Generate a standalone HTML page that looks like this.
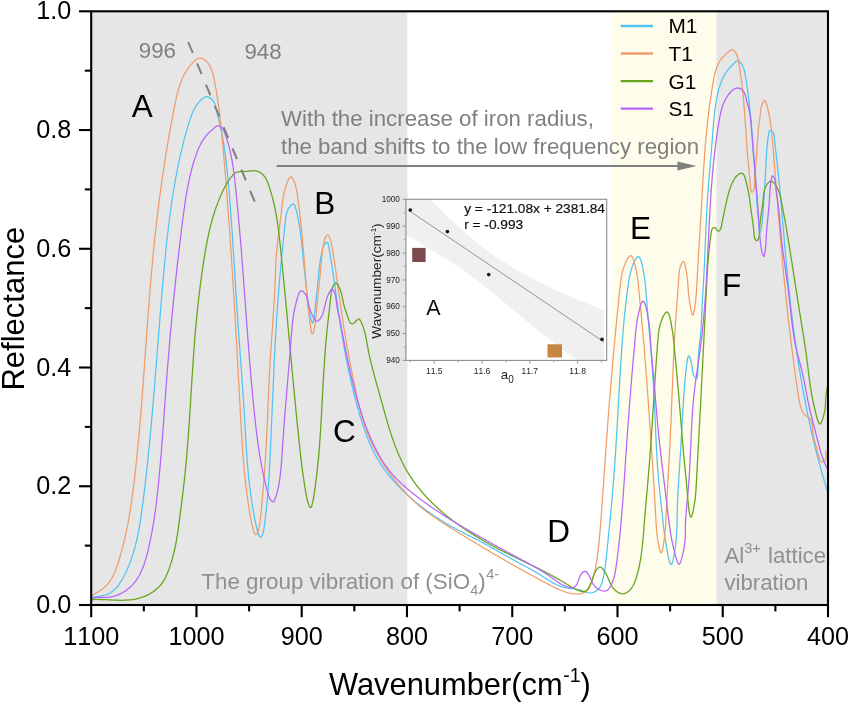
<!DOCTYPE html>
<html><head><meta charset="utf-8"><title>Reflectance spectra</title>
<style>html,body{margin:0;padding:0;background:#fff}svg{display:block}</style></head>
<body>
<svg width="849" height="703" viewBox="0 0 849 703" font-family="'Liberation Sans', sans-serif">
<rect width="849" height="703" fill="#fff"/>
<rect x="91.2" y="11.3" width="316.2" height="593.7" fill="#E6E6E6"/>
<rect x="611" y="11.3" width="105.5" height="593.7" fill="#FEFCEA"/>
<rect x="716.5" y="11.3" width="111.5" height="593.7" fill="#E6E6E6"/>
<g id="inset">
<rect x="405.9" y="199.3" width="200.80000000000007" height="161.09999999999997" fill="#fff"/>
<clipPath id="ic"><rect x="405.9" y="199.3" width="198.10000000000002" height="161.09999999999997"/></clipPath>
<polygon points="405.9,199.3 430.0,199.3 440.0,208.7 450.0,218.7 462.4,230.0 474.9,241.2 487.4,251.2 499.9,259.4 512.4,267.4 524.8,274.4 537.3,281.1 549.8,287.4 562.3,292.9 574.8,298.6 587.3,303.6 604.0,310.6 604.0,360.4 577.3,360.4 574.8,358.5 562.3,349.8 549.8,339.8 537.3,329.8 524.8,319.8 512.4,309.4 499.9,298.6 487.4,288.6 474.9,278.6 462.4,269.2 450.0,261.2 437.5,253.7 425.0,246.2 415.0,239.9 405.9,234.8" fill="#F0F0F0" clip-path="url(#ic)"/>
<line x1="408.3" y1="210.1" x2="604.1" y2="342.1" stroke="#555" stroke-width="0.6"/>
<circle cx="410.3" cy="210.1" r="1.8" fill="#111"/>
<circle cx="447.4" cy="231.6" r="1.8" fill="#111"/>
<circle cx="488.7" cy="274.6" r="1.8" fill="#111"/>
<circle cx="602" cy="339.4" r="1.8" fill="#111"/>
<rect x="412.2" y="247.9" width="13.4" height="14.1" fill="#7A4A4E"/>
<rect x="547.5" y="344.3" width="14.5" height="13.2" fill="#C6863F"/>
<rect x="405.9" y="199.3" width="200.80000000000007" height="161.09999999999997" fill="none" stroke="#8c8c8c" stroke-width="1.1"/>
<line x1="402.4" y1="199.3" x2="405.9" y2="199.3" stroke="#999" stroke-width="1"/>
<text x="399.9" y="201.9" font-size="8.2" text-anchor="end" fill="#222">1000</text>
<line x1="403.9" y1="212.7" x2="405.9" y2="212.7" stroke="#999" stroke-width="1"/>
<line x1="402.4" y1="226.2" x2="405.9" y2="226.2" stroke="#999" stroke-width="1"/>
<text x="399.9" y="228.8" font-size="8.2" text-anchor="end" fill="#222">990</text>
<line x1="403.9" y1="239.6" x2="405.9" y2="239.6" stroke="#999" stroke-width="1"/>
<line x1="402.4" y1="253.0" x2="405.9" y2="253.0" stroke="#999" stroke-width="1"/>
<text x="399.9" y="255.6" font-size="8.2" text-anchor="end" fill="#222">980</text>
<line x1="403.9" y1="266.4" x2="405.9" y2="266.4" stroke="#999" stroke-width="1"/>
<line x1="402.4" y1="279.9" x2="405.9" y2="279.9" stroke="#999" stroke-width="1"/>
<text x="399.9" y="282.5" font-size="8.2" text-anchor="end" fill="#222">970</text>
<line x1="403.9" y1="293.3" x2="405.9" y2="293.3" stroke="#999" stroke-width="1"/>
<line x1="402.4" y1="306.7" x2="405.9" y2="306.7" stroke="#999" stroke-width="1"/>
<text x="399.9" y="309.3" font-size="8.2" text-anchor="end" fill="#222">960</text>
<line x1="403.9" y1="320.1" x2="405.9" y2="320.1" stroke="#999" stroke-width="1"/>
<line x1="402.4" y1="333.5" x2="405.9" y2="333.5" stroke="#999" stroke-width="1"/>
<text x="399.9" y="336.1" font-size="8.2" text-anchor="end" fill="#222">950</text>
<line x1="403.9" y1="347.0" x2="405.9" y2="347.0" stroke="#999" stroke-width="1"/>
<line x1="402.4" y1="360.4" x2="405.9" y2="360.4" stroke="#999" stroke-width="1"/>
<text x="399.9" y="363.0" font-size="8.2" text-anchor="end" fill="#222">940</text>
<line x1="434.2" y1="360.4" x2="434.2" y2="363.9" stroke="#999" stroke-width="1"/>
<text x="434.2" y="373.6" font-size="8.5" text-anchor="middle" fill="#222" style="font-kerning:none">11.5</text>
<line x1="482.0" y1="360.4" x2="482.0" y2="363.9" stroke="#999" stroke-width="1"/>
<text x="482.0" y="373.6" font-size="8.5" text-anchor="middle" fill="#222" style="font-kerning:none">11.6</text>
<line x1="529.8" y1="360.4" x2="529.8" y2="363.9" stroke="#999" stroke-width="1"/>
<text x="529.8" y="373.6" font-size="8.5" text-anchor="middle" fill="#222" style="font-kerning:none">11.7</text>
<line x1="577.6" y1="360.4" x2="577.6" y2="363.9" stroke="#999" stroke-width="1"/>
<text x="577.6" y="373.6" font-size="8.5" text-anchor="middle" fill="#222" style="font-kerning:none">11.8</text>
<line x1="410.3" y1="360.4" x2="410.3" y2="362.4" stroke="#999" stroke-width="1"/>
<line x1="458.1" y1="360.4" x2="458.1" y2="362.4" stroke="#999" stroke-width="1"/>
<line x1="505.9" y1="360.4" x2="505.9" y2="362.4" stroke="#999" stroke-width="1"/>
<line x1="553.7" y1="360.4" x2="553.7" y2="362.4" stroke="#999" stroke-width="1"/>
<line x1="601.5" y1="360.4" x2="601.5" y2="362.4" stroke="#999" stroke-width="1"/>
<text x="507.3" y="379" font-size="13.2" text-anchor="middle" fill="#222">a<tspan font-size="10" dy="3.6">0</tspan></text>
<text transform="translate(381.3,281) rotate(-90)" font-size="13.7" text-anchor="middle" fill="#222">Wavenumber(cm<tspan font-size="8" dy="-5">-1</tspan><tspan dy="5">)</tspan></text>
<text x="464.2" y="212.5" font-size="13.7" fill="#111" stroke="#111" stroke-width="0.2">y = -121.08x + 2381.84</text>
<text x="464.2" y="229.3" font-size="13.7" fill="#111" stroke="#111" stroke-width="0.2">r = -0.993</text>
<text x="426.3" y="315" font-size="21.5" fill="#111">A</text>
</g>
<path d="M91.2 598.0L92.0 597.7L93.0 597.4L94.0 597.1L95.2 596.9L96.3 596.7L97.6 596.5L98.9 596.3L100.2 596.1L101.5 595.9L102.8 595.6L104.1 595.3L105.3 595.0L106.5 594.6L107.7 594.1L108.8 593.6L109.8 593.1L110.9 592.5L111.8 591.8L112.8 591.1L113.7 590.3L114.6 589.5L115.4 588.7L116.2 587.9L117.0 587.0L117.8 586.0L118.5 585.1L119.2 584.1L119.9 583.1L120.5 582.1L121.2 581.1L121.8 580.0L122.4 579.0L123.0 577.9L123.5 576.9L124.1 575.8L124.6 574.7L125.2 573.6L125.7 572.5L126.2 571.5L126.7 570.4L127.2 569.3L127.7 568.2L128.2 567.1L128.6 566.0L129.1 564.9L129.5 563.7L130.0 562.6L130.4 561.5L130.8 560.4L131.2 559.3L131.6 558.1L132.0 557.0L132.4 555.9L132.7 554.7L133.1 553.6L133.4 552.5L133.8 551.3L134.1 550.2L134.4 549.0L134.7 547.9L135.1 546.7L135.4 545.6L135.7 544.4L135.9 543.3L136.2 542.1L136.5 540.9L136.8 539.8L137.0 538.6L137.3 537.4L137.5 536.3L137.8 535.1L138.0 533.9L138.3 532.8L138.5 531.6L138.7 530.4L138.9 529.2L139.2 528.0L139.4 526.9L139.6 525.7L139.8 524.5L140.0 523.3L140.2 522.1L140.3 520.9L140.5 519.7L140.7 518.5L140.9 517.4L141.1 516.2L141.2 515.0L141.4 513.8L141.6 512.6L141.7 511.4L141.9 510.2L142.1 509.0L142.2 507.8L142.4 506.6L142.5 505.4L142.7 504.2L142.9 503.0L143.0 501.8L143.2 500.6L143.3 499.4L143.5 498.3L143.6 497.1L143.8 495.9L143.9 494.7L144.1 493.5L144.2 492.3L144.3 491.1L144.5 489.9L144.6 488.7L144.8 487.5L144.9 486.3L145.1 485.1L145.2 483.9L145.3 482.7L145.5 481.5L145.6 480.3L145.7 479.1L145.9 477.9L146.0 476.7L146.2 475.5L146.3 474.3L146.4 473.1L146.6 471.9L146.7 470.8L146.8 469.6L146.9 468.4L147.1 467.2L147.2 466.0L147.3 464.8L147.5 463.6L147.6 462.4L147.7 461.2L147.8 460.0L148.0 458.8L148.1 457.6L148.2 456.4L148.3 455.2L148.4 454.0L148.6 452.8L148.7 451.6L148.8 450.4L148.9 449.2L149.0 448.0L149.2 446.8L149.3 445.6L149.4 444.4L149.5 443.2L149.6 442.0L149.7 440.9L149.9 439.7L150.0 438.5L150.1 437.3L150.2 436.1L150.3 434.9L150.4 433.7L150.5 432.5L150.6 431.3L150.8 430.1L150.9 428.9L151.0 427.7L151.1 426.5L151.2 425.3L151.3 424.1L151.4 422.9L151.5 421.7L151.6 420.5L151.7 419.3L151.8 418.1L151.9 416.9L152.1 415.7L152.2 414.5L152.3 413.3L152.4 412.1L152.5 411.0L152.6 409.8L152.7 408.6L152.8 407.4L152.9 406.2L153.0 405.0L153.1 403.8L153.2 402.6L153.3 401.4L153.4 400.2L153.5 399.0L153.6 397.8L153.7 396.6L153.8 395.4L153.9 394.2L154.0 393.0L154.1 391.8L154.2 390.6L154.3 389.4L154.4 388.2L154.5 387.0L154.6 385.8L154.7 384.6L154.8 383.4L154.9 382.2L155.0 381.0L155.0 379.9L155.1 378.7L155.2 377.5L155.3 376.3L155.4 375.1L155.5 373.9L155.6 372.7L155.7 371.5L155.8 370.3L155.9 369.1L156.0 367.9L156.1 366.7L156.2 365.5L156.3 364.3L156.4 363.1L156.5 361.9L156.6 360.7L156.7 359.5L156.8 358.3L156.8 357.1L156.9 355.9L157.0 354.7L157.1 353.5L157.2 352.3L157.3 351.1L157.4 349.9L157.5 348.8L157.6 347.6L157.7 346.4L157.8 345.2L157.9 344.0L158.0 342.8L158.1 341.6L158.2 340.4L158.3 339.2L158.3 338.0L158.4 336.8L158.5 335.6L158.6 334.4L158.7 333.2L158.8 332.0L158.9 330.8L159.0 329.6L159.1 328.4L159.2 327.2L159.3 326.0L159.4 324.8L159.5 323.6L159.6 322.4L159.7 321.2L159.8 320.0L159.9 318.9L160.0 317.7L160.1 316.5L160.2 315.3L160.2 314.1L160.3 312.9L160.4 311.7L160.5 310.5L160.6 309.3L160.7 308.1L160.8 306.9L160.9 305.7L161.0 304.5L161.1 303.3L161.2 302.1L161.3 300.9L161.4 299.7L161.5 298.5L161.6 297.3L161.7 296.1L161.8 294.9L161.9 293.7L162.0 292.5L162.1 291.3L162.2 290.2L162.3 289.0L162.4 287.8L162.5 286.6L162.6 285.4L162.7 284.2L162.8 283.0L163.0 281.8L163.1 280.6L163.2 279.4L163.3 278.2L163.4 277.0L163.5 275.8L163.6 274.6L163.7 273.4L163.8 272.2L163.9 271.0L164.0 269.8L164.1 268.6L164.2 267.4L164.4 266.2L164.5 265.0L164.6 263.8L164.7 262.7L164.8 261.5L164.9 260.3L165.0 259.1L165.1 257.9L165.3 256.7L165.4 255.5L165.5 254.3L165.6 253.1L165.7 251.9L165.9 250.7L166.0 249.5L166.1 248.3L166.2 247.1L166.3 245.9L166.5 244.7L166.6 243.5L166.7 242.3L166.8 241.2L167.0 240.0L167.1 238.8L167.2 237.6L167.4 236.4L167.5 235.2L167.6 234.0L167.8 232.8L167.9 231.6L168.1 230.4L168.2 229.2L168.3 228.0L168.5 226.8L168.6 225.6L168.8 224.5L168.9 223.3L169.1 222.1L169.2 220.9L169.4 219.7L169.5 218.5L169.7 217.3L169.8 216.1L170.0 214.9L170.1 213.7L170.3 212.6L170.5 211.4L170.6 210.2L170.8 209.0L170.9 207.8L171.1 206.6L171.3 205.4L171.5 204.2L171.6 203.0L171.8 201.9L172.0 200.7L172.2 199.5L172.3 198.3L172.5 197.1L172.7 195.9L172.9 194.7L173.1 193.6L173.3 192.4L173.5 191.2L173.7 190.0L173.9 188.8L174.1 187.6L174.3 186.5L174.5 185.3L174.7 184.1L174.9 182.9L175.1 181.7L175.3 180.5L175.5 179.4L175.7 178.2L175.9 177.0L176.2 175.8L176.4 174.6L176.6 173.5L176.8 172.3L177.1 171.1L177.3 169.9L177.5 168.7L177.8 167.6L178.0 166.4L178.2 165.2L178.5 164.0L178.7 162.9L179.0 161.7L179.2 160.5L179.5 159.3L179.8 158.2L180.0 157.0L180.3 155.8L180.5 154.6L180.8 153.5L181.1 152.3L181.4 151.1L181.6 150.0L181.9 148.8L182.2 147.6L182.5 146.4L182.8 145.3L183.1 144.1L183.3 142.9L183.6 141.8L183.9 140.6L184.2 139.4L184.6 138.3L184.9 137.1L185.2 135.9L185.5 134.8L185.8 133.6L186.1 132.4L186.5 131.3L186.8 130.1L187.1 129.0L187.4 127.8L187.8 126.6L188.1 125.5L188.5 124.3L188.8 123.2L189.2 122.0L189.5 120.8L189.9 119.7L190.3 118.6L190.7 117.4L191.1 116.3L191.5 115.2L191.9 114.1L192.4 113.0L192.9 111.9L193.4 110.8L193.9 109.7L194.5 108.7L195.0 107.7L195.6 106.7L196.3 105.7L196.9 104.7L197.6 103.8L198.4 102.8L199.2 101.9L200.0 101.0L200.8 100.2L201.7 99.4L202.7 98.6L203.6 97.8L204.7 97.2L205.7 96.8L206.9 96.7L208.0 96.9L209.2 97.4L210.4 98.1L211.5 99.0L212.4 100.0L213.3 101.0L213.9 102.1L214.5 103.2L214.9 104.3L215.3 105.4L215.6 106.6L215.9 107.7L216.1 108.8L216.4 110.0L216.7 111.1L217.0 112.3L217.3 113.4L217.6 114.6L217.8 115.7L218.1 116.9L218.4 118.1L218.7 119.2L218.9 120.4L219.2 121.6L219.5 122.7L219.8 123.9L220.0 125.1L220.3 126.3L220.5 127.5L220.8 128.6L221.0 129.8L221.3 131.0L221.5 132.2L221.8 133.4L222.0 134.6L222.2 135.7L222.4 136.9L222.7 138.1L222.9 139.3L223.1 140.5L223.3 141.7L223.5 142.8L223.7 144.0L223.9 145.2L224.1 146.4L224.2 147.6L224.4 148.8L224.6 150.0L224.8 151.2L224.9 152.3L225.1 153.5L225.3 154.7L225.4 155.9L225.6 157.1L225.7 158.3L225.9 159.5L226.0 160.7L226.2 161.9L226.3 163.1L226.4 164.2L226.6 165.4L226.7 166.6L226.8 167.8L227.0 169.0L227.1 170.2L227.2 171.4L227.3 172.6L227.5 173.8L227.6 175.0L227.7 176.2L227.8 177.4L227.9 178.6L228.0 179.7L228.1 180.9L228.2 182.1L228.3 183.3L228.5 184.5L228.6 185.7L228.7 186.9L228.8 188.1L228.9 189.3L229.0 190.5L229.1 191.7L229.2 192.9L229.3 194.1L229.4 195.3L229.5 196.5L229.6 197.7L229.7 198.9L229.8 200.1L229.8 201.3L229.9 202.5L230.0 203.6L230.1 204.8L230.2 206.0L230.3 207.2L230.4 208.4L230.5 209.6L230.6 210.8L230.7 212.0L230.8 213.2L230.9 214.4L230.9 215.6L231.0 216.8L231.1 218.0L231.2 219.2L231.3 220.4L231.4 221.6L231.5 222.8L231.5 224.0L231.6 225.2L231.7 226.4L231.8 227.6L231.9 228.8L232.0 230.0L232.0 231.2L232.1 232.4L232.2 233.6L232.3 234.8L232.4 236.0L232.4 237.2L232.5 238.4L232.6 239.6L232.7 240.8L232.8 242.0L232.8 243.2L232.9 244.4L233.0 245.6L233.1 246.8L233.2 248.0L233.2 249.2L233.3 250.4L233.4 251.6L233.5 252.8L233.5 254.0L233.6 255.2L233.7 256.4L233.8 257.6L233.8 258.8L233.9 260.0L234.0 261.1L234.1 262.3L234.1 263.5L234.2 264.7L234.3 265.9L234.4 267.1L234.4 268.3L234.5 269.5L234.6 270.7L234.7 271.9L234.7 273.1L234.8 274.3L234.9 275.5L235.0 276.7L235.0 277.9L235.1 279.1L235.2 280.3L235.3 281.5L235.3 282.7L235.4 283.9L235.5 285.1L235.6 286.3L235.6 287.5L235.7 288.7L235.8 289.9L235.9 291.1L235.9 292.3L236.0 293.5L236.1 294.7L236.2 295.9L236.2 297.1L236.3 298.3L236.4 299.5L236.5 300.7L236.5 301.9L236.6 303.1L236.7 304.3L236.8 305.5L236.9 306.7L236.9 307.9L237.0 309.1L237.1 310.3L237.2 311.5L237.3 312.7L237.3 313.9L237.4 315.1L237.5 316.3L237.6 317.5L237.7 318.7L237.7 319.9L237.8 321.1L237.9 322.3L238.0 323.5L238.1 324.7L238.1 325.9L238.2 327.1L238.3 328.3L238.4 329.5L238.5 330.7L238.6 331.9L238.7 333.1L238.7 334.3L238.8 335.4L238.9 336.6L239.0 337.8L239.1 339.0L239.2 340.2L239.3 341.4L239.3 342.6L239.4 343.8L239.5 345.0L239.6 346.2L239.7 347.4L239.8 348.6L239.9 349.8L240.0 351.0L240.1 352.2L240.1 353.4L240.2 354.6L240.3 355.8L240.4 357.0L240.5 358.2L240.6 359.4L240.7 360.6L240.8 361.8L240.8 363.0L240.9 364.2L241.0 365.4L241.1 366.6L241.2 367.8L241.3 368.9L241.4 370.1L241.5 371.3L241.5 372.5L241.6 373.7L241.7 374.9L241.8 376.1L241.9 377.3L242.0 378.5L242.1 379.7L242.1 380.9L242.2 382.1L242.3 383.3L242.4 384.5L242.5 385.7L242.6 386.9L242.7 388.1L242.7 389.3L242.8 390.5L242.9 391.7L243.0 392.9L243.1 394.1L243.1 395.3L243.2 396.5L243.3 397.7L243.4 398.9L243.5 400.1L243.5 401.3L243.6 402.5L243.7 403.7L243.8 404.9L243.8 406.1L243.9 407.3L244.0 408.5L244.1 409.7L244.1 410.9L244.2 412.1L244.3 413.3L244.3 414.5L244.4 415.7L244.5 416.9L244.6 418.1L244.6 419.3L244.7 420.5L244.8 421.7L244.8 422.9L244.9 424.1L245.0 425.3L245.0 426.5L245.1 427.7L245.2 428.9L245.2 430.1L245.3 431.3L245.4 432.5L245.4 433.7L245.5 434.9L245.6 436.1L245.6 437.3L245.7 438.5L245.8 439.7L245.8 440.9L245.9 442.1L246.0 443.3L246.1 444.5L246.1 445.7L246.2 446.9L246.3 448.1L246.4 449.3L246.5 450.5L246.5 451.7L246.6 452.9L246.7 454.1L246.8 455.3L246.9 456.5L247.0 457.7L247.0 458.9L247.1 460.0L247.2 461.2L247.3 462.4L247.4 463.6L247.5 464.8L247.6 466.0L247.7 467.2L247.8 468.4L247.9 469.6L248.0 470.8L248.2 472.0L248.3 473.2L248.4 474.4L248.5 475.5L248.6 476.7L248.7 477.9L248.9 479.1L249.0 480.3L249.1 481.5L249.3 482.7L249.4 483.9L249.5 485.1L249.7 486.3L249.8 487.4L250.0 488.6L250.1 489.8L250.3 491.0L250.4 492.2L250.6 493.4L250.7 494.6L250.9 495.8L251.1 496.9L251.2 498.1L251.4 499.3L251.6 500.5L251.8 501.7L252.0 502.9L252.2 504.1L252.3 505.3L252.5 506.5L252.7 507.6L252.9 508.8L253.1 510.0L253.4 511.2L253.6 512.4L253.8 513.6L254.0 514.8L254.2 516.0L254.5 517.2L254.7 518.3L254.9 519.5L255.2 520.7L255.4 521.9L255.7 523.1L255.9 524.3L256.2 525.5L256.5 526.7L256.7 527.9L257.0 529.1L257.3 530.3L257.6 531.5L257.9 532.6L258.3 533.8L258.7 534.9L259.2 535.9L259.8 536.9L260.4 537.3L261.1 537.0L261.7 536.1L262.3 535.0L262.7 533.8L263.1 532.6L263.4 531.4L263.7 530.2L263.9 529.0L264.1 527.8L264.2 526.6L264.4 525.4L264.6 524.2L264.7 523.0L264.9 521.8L265.0 520.6L265.2 519.5L265.3 518.3L265.5 517.1L265.6 515.9L265.8 514.7L265.9 513.5L266.0 512.3L266.2 511.1L266.3 509.9L266.4 508.7L266.5 507.5L266.7 506.3L266.8 505.1L266.9 503.9L267.0 502.7L267.1 501.5L267.2 500.3L267.3 499.1L267.4 497.9L267.5 496.7L267.6 495.5L267.7 494.3L267.8 493.1L267.9 491.9L268.0 490.8L268.1 489.6L268.2 488.4L268.3 487.2L268.4 486.0L268.4 484.8L268.5 483.6L268.6 482.4L268.7 481.2L268.8 480.0L268.8 478.8L268.9 477.6L269.0 476.4L269.1 475.2L269.1 474.0L269.2 472.8L269.3 471.6L269.3 470.4L269.4 469.2L269.5 468.0L269.5 466.8L269.6 465.6L269.7 464.4L269.7 463.2L269.8 462.0L269.9 460.8L269.9 459.6L270.0 458.4L270.0 457.2L270.1 456.0L270.2 454.8L270.2 453.6L270.3 452.4L270.3 451.2L270.4 450.0L270.5 448.8L270.5 447.6L270.6 446.4L270.6 445.2L270.7 444.0L270.7 442.8L270.8 441.6L270.8 440.4L270.9 439.2L271.0 438.0L271.0 436.8L271.1 435.6L271.1 434.4L271.2 433.2L271.2 432.0L271.3 430.8L271.3 429.6L271.4 428.4L271.4 427.2L271.5 426.0L271.5 424.8L271.6 423.6L271.6 422.4L271.7 421.2L271.7 420.0L271.8 418.8L271.8 417.6L271.9 416.4L271.9 415.2L272.0 414.0L272.0 412.8L272.1 411.6L272.1 410.4L272.2 409.2L272.2 408.0L272.3 406.8L272.3 405.6L272.4 404.4L272.4 403.2L272.5 402.0L272.5 400.8L272.6 399.6L272.6 398.4L272.7 397.2L272.7 396.0L272.8 394.8L272.8 393.7L272.9 392.5L273.0 391.3L273.0 390.1L273.1 388.9L273.1 387.7L273.2 386.5L273.2 385.3L273.3 384.1L273.3 382.9L273.4 381.7L273.4 380.5L273.5 379.3L273.5 378.1L273.6 376.9L273.6 375.7L273.7 374.5L273.7 373.3L273.8 372.1L273.8 370.9L273.9 369.7L274.0 368.5L274.0 367.3L274.1 366.1L274.1 364.9L274.2 363.7L274.2 362.5L274.3 361.3L274.4 360.1L274.4 358.9L274.5 357.7L274.5 356.5L274.6 355.3L274.6 354.1L274.7 352.9L274.8 351.7L274.8 350.5L274.9 349.3L275.0 348.1L275.0 346.9L275.1 345.7L275.1 344.5L275.2 343.3L275.3 342.1L275.3 340.9L275.4 339.7L275.5 338.5L275.5 337.3L275.6 336.1L275.7 334.9L275.8 333.7L275.8 332.5L275.9 331.3L276.0 330.1L276.0 328.9L276.1 327.7L276.2 326.5L276.3 325.3L276.3 324.1L276.4 322.9L276.5 321.7L276.6 320.5L276.6 319.3L276.7 318.1L276.8 316.9L276.9 315.7L277.0 314.5L277.0 313.3L277.1 312.1L277.2 310.9L277.3 309.7L277.4 308.5L277.5 307.3L277.6 306.1L277.6 304.9L277.7 303.7L277.8 302.5L277.9 301.3L278.0 300.1L278.1 298.9L278.2 297.7L278.3 296.5L278.4 295.3L278.5 294.1L278.5 292.9L278.6 291.7L278.7 290.5L278.8 289.3L278.9 288.1L279.0 287.0L279.1 285.8L279.2 284.6L279.3 283.4L279.4 282.2L279.5 281.0L279.6 279.8L279.7 278.6L279.8 277.4L279.9 276.2L280.0 275.0L280.1 273.8L280.3 272.6L280.4 271.4L280.5 270.2L280.6 269.0L280.7 267.8L280.8 266.6L280.9 265.4L281.0 264.2L281.1 263.0L281.2 261.8L281.3 260.6L281.5 259.4L281.6 258.3L281.7 257.1L281.8 255.9L281.9 254.7L282.0 253.5L282.1 252.3L282.3 251.1L282.4 249.9L282.5 248.7L282.6 247.5L282.7 246.3L282.9 245.1L283.0 243.9L283.1 242.7L283.2 241.5L283.3 240.4L283.5 239.2L283.6 238.0L283.7 236.8L283.8 235.6L284.0 234.4L284.1 233.2L284.2 232.0L284.3 230.8L284.5 229.6L284.6 228.4L284.7 227.3L284.9 226.1L285.0 224.9L285.1 223.7L285.2 222.5L285.4 221.3L285.5 220.1L285.6 218.9L285.8 217.7L285.9 216.6L286.1 215.4L286.4 214.2L286.7 213.0L287.0 211.8L287.5 210.7L288.0 209.5L288.6 208.3L289.4 207.2L290.2 206.1L291.1 205.1L292.0 204.4L292.9 204.0L293.6 204.1L294.2 204.6L294.7 205.4L295.2 206.5L295.6 207.7L295.9 209.0L296.2 210.2L296.6 211.5L296.9 212.7L297.2 214.0L297.4 215.2L297.7 216.4L298.0 217.7L298.2 218.9L298.5 220.1L298.7 221.3L298.9 222.5L299.1 223.7L299.3 224.9L299.5 226.1L299.7 227.3L299.8 228.5L300.0 229.6L300.2 230.8L300.3 232.0L300.5 233.2L300.6 234.4L300.8 235.5L300.9 236.7L301.0 237.9L301.2 239.0L301.3 240.2L301.4 241.4L301.6 242.6L301.7 243.7L301.8 244.9L301.9 246.1L302.1 247.3L302.2 248.5L302.3 249.6L302.4 250.8L302.6 252.0L302.7 253.2L302.8 254.4L302.9 255.6L303.1 256.8L303.2 258.0L303.3 259.2L303.4 260.4L303.6 261.6L303.7 262.8L303.8 264.0L303.9 265.2L304.1 266.4L304.2 267.6L304.3 268.8L304.4 270.0L304.6 271.2L304.7 272.4L304.8 273.6L304.9 274.8L305.1 276.0L305.2 277.2L305.3 278.4L305.4 279.6L305.6 280.8L305.7 282.0L305.8 283.2L305.9 284.4L306.1 285.6L306.2 286.8L306.3 288.0L306.5 289.2L306.6 290.4L306.7 291.6L306.9 292.8L307.0 294.0L307.1 295.2L307.3 296.4L307.4 297.6L307.6 298.8L307.7 299.9L307.8 301.1L308.0 302.3L308.1 303.5L308.3 304.7L308.4 305.9L308.6 307.1L308.8 308.2L308.9 309.4L309.1 310.6L309.3 311.8L309.6 312.9L309.8 314.1L310.1 315.3L310.3 316.5L310.6 317.6L311.0 318.8L311.3 320.0L311.7 321.2L312.1 322.3L312.5 323.0L312.9 323.0L313.2 322.3L313.5 321.1L313.8 319.5L314.1 317.8L314.3 316.1L314.5 314.5L314.7 313.0L314.9 311.7L315.0 310.4L315.2 309.2L315.3 308.0L315.4 306.9L315.5 305.9L315.6 304.9L315.7 303.8L315.8 302.8L315.9 301.8L316.0 300.7L316.1 299.7L316.3 298.5L316.4 297.4L316.5 296.3L316.6 295.1L316.7 293.9L316.8 292.7L317.0 291.5L317.1 290.2L317.2 289.0L317.3 287.7L317.4 286.5L317.6 285.2L317.7 284.0L317.8 282.8L317.9 281.5L318.0 280.3L318.2 279.1L318.3 277.9L318.4 276.7L318.5 275.5L318.6 274.3L318.8 273.1L318.9 271.9L319.0 270.7L319.2 269.5L319.3 268.4L319.4 267.2L319.6 266.0L319.7 264.8L319.9 263.7L320.1 262.5L320.2 261.3L320.4 260.1L320.6 259.0L320.8 257.8L321.0 256.6L321.2 255.5L321.5 254.3L321.7 253.1L321.9 251.9L322.2 250.7L322.4 249.5L322.7 248.3L323.1 247.1L323.5 245.9L324.1 244.8L324.9 243.7L325.9 242.9L326.8 242.4L327.5 242.5L328.0 243.1L328.3 244.1L328.5 245.3L328.8 246.5L329.0 247.7L329.2 248.9L329.4 250.1L329.6 251.3L329.8 252.5L330.0 253.7L330.2 254.9L330.4 256.1L330.6 257.3L330.8 258.5L331.0 259.7L331.2 260.9L331.4 262.1L331.5 263.3L331.7 264.5L331.9 265.7L332.1 266.9L332.3 268.1L332.5 269.3L332.6 270.5L332.8 271.7L333.0 272.9L333.2 274.1L333.3 275.3L333.5 276.5L333.7 277.7L333.9 278.9L334.0 280.1L334.2 281.3L334.4 282.4L334.6 283.6L334.7 284.8L334.9 286.0L335.1 287.2L335.2 288.4L335.4 289.6L335.6 290.8L335.7 292.0L335.9 293.2L336.1 294.3L336.2 295.5L336.4 296.7L336.6 297.9L336.7 299.1L336.9 300.3L337.1 301.5L337.2 302.7L337.4 303.8L337.6 305.0L337.7 306.2L337.9 307.4L338.1 308.6L338.2 309.8L338.4 311.0L338.6 312.1L338.8 313.3L338.9 314.5L339.1 315.7L339.3 316.9L339.5 318.1L339.6 319.3L339.8 320.4L340.0 321.6L340.2 322.8L340.3 324.0L340.5 325.2L340.7 326.4L340.9 327.5L341.1 328.7L341.3 329.9L341.4 331.1L341.6 332.3L341.8 333.5L342.0 334.6L342.2 335.8L342.4 337.0L342.6 338.2L342.8 339.4L343.0 340.5L343.2 341.7L343.4 342.9L343.6 344.1L343.8 345.3L344.0 346.5L344.2 347.6L344.4 348.8L344.6 350.0L344.9 351.2L345.1 352.4L345.3 353.5L345.5 354.7L345.7 355.9L346.0 357.1L346.2 358.3L346.4 359.4L346.6 360.6L346.9 361.8L347.1 363.0L347.3 364.1L347.6 365.3L347.8 366.5L348.1 367.7L348.3 368.8L348.5 370.0L348.8 371.2L349.0 372.4L349.3 373.5L349.5 374.7L349.8 375.9L350.1 377.1L350.3 378.2L350.6 379.4L350.8 380.6L351.1 381.8L351.4 382.9L351.7 384.1L351.9 385.3L352.2 386.4L352.5 387.6L352.8 388.8L353.0 389.9L353.3 391.1L353.6 392.3L353.9 393.4L354.2 394.6L354.5 395.8L354.8 396.9L355.1 398.1L355.4 399.3L355.7 400.4L356.0 401.6L356.3 402.8L356.6 403.9L357.0 405.1L357.3 406.2L357.6 407.4L357.9 408.6L358.3 409.7L358.6 410.9L358.9 412.0L359.3 413.2L359.6 414.3L359.9 415.5L360.3 416.7L360.6 417.8L361.0 419.0L361.3 420.1L361.7 421.3L362.1 422.4L362.4 423.6L362.8 424.7L363.2 425.9L363.6 427.0L364.0 428.1L364.3 429.3L364.7 430.4L365.1 431.5L365.5 432.7L366.0 433.8L366.4 434.9L366.8 436.1L367.2 437.2L367.7 438.3L368.1 439.4L368.6 440.5L369.0 441.6L369.5 442.7L370.0 443.8L370.4 444.9L370.9 446.0L371.4 447.1L371.9 448.2L372.4 449.3L373.0 450.3L373.5 451.4L374.0 452.5L374.6 453.5L375.1 454.6L375.7 455.7L376.3 456.7L376.8 457.7L377.4 458.8L378.0 459.8L378.7 460.8L379.3 461.8L379.9 462.9L380.6 463.9L381.2 464.9L381.9 465.9L382.6 466.8L383.2 467.8L383.9 468.8L384.6 469.8L385.3 470.7L386.1 471.7L386.8 472.7L387.5 473.6L388.3 474.6L389.0 475.5L389.8 476.4L390.5 477.4L391.3 478.3L392.1 479.2L392.9 480.1L393.7 481.0L394.5 481.9L395.3 482.8L396.1 483.7L396.9 484.6L397.7 485.5L398.6 486.3L399.4 487.2L400.2 488.1L401.1 488.9L402.0 489.8L402.8 490.6L403.7 491.5L404.6 492.3L405.4 493.1L406.3 493.9L407.2 494.8L408.1 495.6L409.0 496.4L409.9 497.2L410.8 498.0L411.7 498.8L412.6 499.5L413.5 500.3L414.5 501.1L415.4 501.9L416.3 502.6L417.2 503.4L418.2 504.1L419.1 504.9L420.1 505.6L421.0 506.4L422.0 507.1L422.9 507.8L423.9 508.6L424.8 509.3L425.8 510.0L426.8 510.7L427.8 511.4L428.7 512.1L429.7 512.8L430.7 513.5L431.7 514.1L432.7 514.8L433.7 515.5L434.7 516.2L435.7 516.8L436.7 517.5L437.7 518.1L438.7 518.8L439.7 519.4L440.7 520.1L441.7 520.7L442.8 521.3L443.8 521.9L444.8 522.6L445.8 523.2L446.9 523.8L447.9 524.4L448.9 525.0L450.0 525.6L451.0 526.2L452.1 526.7L453.1 527.3L454.2 527.9L455.2 528.5L456.3 529.0L457.3 529.6L458.4 530.2L459.5 530.7L460.5 531.3L461.6 531.8L462.7 532.4L463.7 532.9L464.8 533.5L465.9 534.0L466.9 534.6L468.0 535.1L469.1 535.6L470.1 536.2L471.2 536.7L472.3 537.3L473.3 537.8L474.4 538.4L475.5 538.9L476.6 539.5L477.6 540.0L478.7 540.6L479.7 541.1L480.8 541.7L481.9 542.3L482.9 542.8L484.0 543.4L485.0 544.0L486.1 544.6L487.1 545.1L488.2 545.7L489.3 546.3L490.3 546.9L491.4 547.5L492.4 548.1L493.5 548.6L494.5 549.2L495.5 549.8L496.6 550.4L497.6 551.0L498.7 551.6L499.7 552.2L500.8 552.8L501.8 553.4L502.9 554.0L503.9 554.6L505.0 555.2L506.0 555.8L507.0 556.3L508.1 556.9L509.1 557.5L510.2 558.1L511.2 558.7L512.3 559.3L513.3 559.9L514.4 560.4L515.4 561.0L516.5 561.6L517.5 562.2L518.6 562.7L519.6 563.3L520.7 563.9L521.7 564.4L522.8 565.0L523.8 565.6L524.9 566.1L525.9 566.7L527.0 567.3L528.0 567.8L529.1 568.4L530.1 569.0L531.2 569.6L532.2 570.2L533.3 570.8L534.3 571.4L535.4 572.0L536.4 572.6L537.4 573.2L538.5 573.8L539.5 574.4L540.5 575.1L541.6 575.7L542.6 576.4L543.6 577.0L544.6 577.7L545.7 578.4L546.7 579.0L547.7 579.7L548.7 580.3L549.8 581.0L550.8 581.6L551.8 582.2L552.9 582.8L553.9 583.4L555.0 583.9L556.0 584.5L557.1 585.0L558.2 585.5L559.3 585.9L560.4 586.3L561.5 586.7L562.6 587.0L563.8 587.3L564.9 587.6L566.1 587.8L567.3 588.0L568.5 588.1L569.7 588.3L570.9 588.4L572.1 588.6L573.3 588.7L574.5 588.9L575.7 589.0L576.9 589.3L578.1 589.5L579.3 589.8L580.5 590.2L581.6 590.6L582.8 591.1L583.9 591.5L585.0 591.9L586.2 592.3L587.3 592.7L588.5 592.9L589.6 593.0L590.8 592.9L592.0 592.7L593.2 592.4L594.3 592.0L595.4 591.4L596.4 590.8L597.4 590.0L598.3 589.2L599.1 588.3L599.8 587.4L600.4 586.4L600.9 585.3L601.4 584.2L601.9 583.1L602.3 581.9L602.6 580.7L602.9 579.5L603.2 578.2L603.5 577.0L603.7 575.7L603.9 574.5L604.1 573.3L604.3 572.0L604.5 570.8L604.7 569.6L604.9 568.4L605.1 567.1L605.3 565.9L605.4 564.7L605.6 563.5L605.7 562.3L605.9 561.2L606.0 560.0L606.2 558.8L606.3 557.6L606.4 556.4L606.6 555.2L606.7 554.1L606.8 552.9L606.9 551.7L607.1 550.6L607.2 549.4L607.3 548.2L607.4 547.0L607.5 545.9L607.6 544.7L607.8 543.5L607.9 542.4L608.0 541.2L608.1 540.0L608.2 538.8L608.3 537.6L608.4 536.5L608.6 535.3L608.7 534.1L608.8 532.9L608.9 531.7L609.0 530.5L609.2 529.3L609.3 528.1L609.4 526.9L609.5 525.7L609.6 524.6L609.7 523.4L609.9 522.2L610.0 521.0L610.1 519.8L610.2 518.6L610.3 517.4L610.4 516.2L610.6 515.0L610.7 513.8L610.8 512.6L610.9 511.4L611.0 510.2L611.1 509.0L611.2 507.8L611.4 506.6L611.5 505.4L611.6 504.1L611.7 502.9L611.8 501.7L611.9 500.5L612.0 499.3L612.1 498.1L612.2 496.9L612.3 495.7L612.4 494.5L612.5 493.3L612.6 492.1L612.7 490.9L612.8 489.7L612.9 488.5L613.0 487.3L613.1 486.1L613.2 484.9L613.3 483.7L613.4 482.5L613.5 481.3L613.6 480.1L613.7 478.9L613.8 477.7L613.9 476.5L614.0 475.3L614.0 474.1L614.1 472.9L614.2 471.7L614.3 470.6L614.4 469.4L614.5 468.2L614.6 467.0L614.6 465.8L614.7 464.6L614.8 463.4L614.9 462.2L615.0 461.0L615.1 459.8L615.1 458.6L615.2 457.4L615.3 456.2L615.4 455.0L615.5 453.8L615.5 452.6L615.6 451.4L615.7 450.2L615.8 449.0L615.8 447.8L615.9 446.6L616.0 445.4L616.1 444.2L616.1 443.0L616.2 441.8L616.3 440.6L616.4 439.4L616.4 438.2L616.5 437.1L616.6 435.9L616.6 434.7L616.7 433.5L616.8 432.3L616.9 431.1L616.9 429.9L617.0 428.7L617.1 427.5L617.1 426.3L617.2 425.1L617.3 423.9L617.3 422.7L617.4 421.5L617.5 420.3L617.6 419.1L617.6 417.9L617.7 416.7L617.8 415.5L617.8 414.3L617.9 413.1L618.0 411.9L618.0 410.7L618.1 409.5L618.2 408.3L618.2 407.2L618.3 406.0L618.4 404.8L618.4 403.6L618.5 402.4L618.6 401.2L618.6 400.0L618.7 398.8L618.8 397.6L618.8 396.4L618.9 395.2L619.0 394.0L619.0 392.8L619.1 391.6L619.2 390.4L619.3 389.2L619.3 388.0L619.4 386.8L619.5 385.6L619.5 384.4L619.6 383.2L619.7 382.0L619.7 380.8L619.8 379.6L619.9 378.4L620.0 377.2L620.0 376.0L620.1 374.8L620.2 373.6L620.2 372.4L620.3 371.2L620.4 370.0L620.5 368.8L620.5 367.6L620.6 366.4L620.7 365.2L620.8 364.0L620.8 362.8L620.9 361.6L621.0 360.4L621.1 359.2L621.1 358.0L621.2 356.8L621.3 355.5L621.4 354.3L621.5 353.1L621.5 351.9L621.6 350.7L621.7 349.5L621.8 348.3L621.9 347.1L622.0 345.9L622.1 344.7L622.1 343.5L622.2 342.3L622.3 341.1L622.4 339.9L622.5 338.7L622.6 337.5L622.7 336.3L622.8 335.1L622.9 333.9L623.0 332.7L623.1 331.5L623.2 330.3L623.3 329.1L623.4 327.9L623.5 326.7L623.6 325.5L623.7 324.3L623.8 323.1L623.9 321.9L624.0 320.7L624.1 319.5L624.2 318.3L624.4 317.1L624.5 315.9L624.6 314.7L624.7 313.6L624.8 312.4L625.0 311.2L625.1 310.0L625.2 308.8L625.3 307.6L625.5 306.4L625.6 305.2L625.7 304.0L625.9 302.9L626.0 301.7L626.2 300.5L626.3 299.3L626.4 298.1L626.6 297.0L626.7 295.8L626.9 294.6L627.0 293.4L627.2 292.3L627.4 291.1L627.5 289.9L627.7 288.7L627.8 287.6L628.0 286.4L628.2 285.2L628.4 284.1L628.5 282.9L628.7 281.7L628.9 280.6L629.1 279.4L629.3 278.2L629.5 277.1L629.7 275.9L630.0 274.7L630.2 273.6L630.5 272.4L630.8 271.2L631.2 270.0L631.5 268.8L631.9 267.6L632.3 266.4L632.8 265.2L633.3 263.9L633.9 262.7L634.5 261.5L635.1 260.2L635.7 259.1L636.4 258.1L637.1 257.3L637.7 256.8L638.3 256.6L638.9 256.8L639.4 257.2L639.9 258.0L640.4 259.0L640.9 260.2L641.3 261.5L641.7 262.9L642.0 264.5L642.4 266.0L642.7 267.6L643.0 269.0L643.3 270.5L643.5 271.9L643.8 273.3L644.0 274.7L644.2 276.0L644.4 277.3L644.6 278.5L644.8 279.8L644.9 281.0L645.1 282.2L645.2 283.4L645.3 284.5L645.5 285.7L645.6 286.8L645.7 287.9L645.8 289.0L645.9 290.1L646.0 291.2L646.0 292.3L646.1 293.4L646.2 294.5L646.3 295.6L646.4 296.7L646.5 297.8L646.6 298.9L646.7 300.1L646.8 301.2L646.9 302.3L646.9 303.5L647.0 304.6L647.1 305.7L647.2 306.9L647.3 308.0L647.4 309.2L647.5 310.4L647.6 311.5L647.7 312.7L647.8 313.9L647.9 315.0L648.0 316.2L648.1 317.4L648.2 318.6L648.3 319.8L648.4 321.0L648.5 322.1L648.6 323.3L648.7 324.5L648.8 325.7L648.9 326.9L649.0 328.2L649.1 329.4L649.2 330.6L649.4 331.8L649.5 333.0L649.6 334.2L649.7 335.4L649.8 336.6L649.9 337.9L650.0 339.1L650.1 340.3L650.2 341.5L650.3 342.8L650.4 344.0L650.5 345.2L650.6 346.4L650.7 347.7L650.8 348.9L650.9 350.1L651.0 351.3L651.1 352.6L651.2 353.8L651.3 355.0L651.4 356.2L651.5 357.5L651.6 358.7L651.6 359.9L651.7 361.1L651.8 362.4L651.9 363.6L652.0 364.8L652.1 366.0L652.2 367.2L652.3 368.5L652.4 369.7L652.5 370.9L652.5 372.1L652.6 373.3L652.7 374.5L652.8 375.7L652.9 376.9L652.9 378.1L653.0 379.3L653.1 380.5L653.2 381.7L653.3 382.9L653.3 384.1L653.4 385.3L653.5 386.5L653.5 387.7L653.6 388.9L653.7 390.1L653.8 391.2L653.8 392.4L653.9 393.6L654.0 394.8L654.0 396.0L654.1 397.2L654.1 398.3L654.2 399.5L654.3 400.7L654.3 401.9L654.4 403.1L654.4 404.2L654.5 405.4L654.6 406.6L654.6 407.8L654.7 409.0L654.7 410.1L654.8 411.3L654.8 412.5L654.9 413.7L655.0 414.8L655.0 416.0L655.1 417.2L655.1 418.4L655.2 419.6L655.2 420.7L655.3 421.9L655.3 423.1L655.4 424.3L655.4 425.5L655.5 426.7L655.5 427.8L655.6 429.0L655.6 430.2L655.7 431.4L655.7 432.6L655.8 433.8L655.8 435.0L655.9 436.1L655.9 437.3L656.0 438.5L656.0 439.7L656.1 440.9L656.1 442.1L656.2 443.3L656.3 444.5L656.3 445.7L656.4 446.9L656.4 448.1L656.5 449.3L656.6 450.5L656.6 451.7L656.7 452.9L656.8 454.1L656.8 455.3L656.9 456.5L657.0 457.7L657.0 459.0L657.1 460.2L657.2 461.4L657.3 462.6L657.4 463.8L657.4 465.1L657.5 466.3L657.6 467.5L657.7 468.7L657.8 470.0L657.9 471.2L658.0 472.4L658.1 473.7L658.2 474.9L658.3 476.1L658.4 477.4L658.5 478.6L658.6 479.9L658.7 481.1L658.9 482.4L659.0 483.6L659.1 484.8L659.2 486.1L659.3 487.3L659.5 488.6L659.6 489.8L659.7 491.0L659.8 492.3L660.0 493.5L660.1 494.7L660.2 495.9L660.4 497.1L660.5 498.3L660.6 499.5L660.8 500.7L660.9 501.9L661.0 503.1L661.1 504.3L661.3 505.4L661.4 506.6L661.5 507.7L661.6 508.9L661.8 510.0L661.9 511.1L662.0 512.2L662.1 513.3L662.2 514.4L662.3 515.4L662.5 516.5L662.6 517.5L662.7 518.6L662.8 519.6L662.9 520.6L663.0 521.7L663.1 522.7L663.2 523.7L663.3 524.8L663.5 525.8L663.6 526.9L663.7 527.9L663.8 529.0L664.0 530.1L664.1 531.2L664.3 532.4L664.4 533.5L664.6 534.7L664.7 535.9L664.9 537.2L665.1 538.5L665.3 539.8L665.5 541.1L665.7 542.5L666.0 543.9L666.2 545.4L666.5 546.9L666.7 548.4L667.0 550.0L667.3 551.6L667.6 553.3L667.9 555.0L668.2 556.6L668.6 558.1L668.9 559.6L669.3 560.9L669.6 562.0L670.0 563.0L670.3 563.8L670.7 564.3L671.0 564.5L671.4 564.4L671.7 564.0L672.1 563.4L672.4 562.5L672.8 561.4L673.1 560.1L673.4 558.7L673.7 557.2L674.0 555.6L674.3 554.0L674.5 552.4L674.8 550.8L675.0 549.3L675.2 547.8L675.4 546.4L675.6 545.0L675.7 543.6L675.9 542.2L676.0 540.9L676.2 539.6L676.3 538.3L676.4 537.1L676.5 535.8L676.6 534.6L676.6 533.4L676.7 532.3L676.8 531.1L676.8 530.0L676.9 528.9L676.9 527.8L676.9 526.7L677.0 525.6L677.0 524.5L677.0 523.4L677.0 522.4L677.1 521.3L677.1 520.3L677.1 519.2L677.1 518.1L677.1 517.1L677.1 516.0L677.1 515.0L677.2 513.9L677.2 512.8L677.2 511.7L677.2 510.6L677.3 509.5L677.3 508.4L677.3 507.3L677.4 506.1L677.4 505.0L677.5 503.8L677.5 502.7L677.6 501.5L677.6 500.3L677.7 499.2L677.7 498.0L677.8 496.8L677.8 495.6L677.9 494.4L678.0 493.2L678.0 492.0L678.1 490.7L678.2 489.5L678.2 488.3L678.3 487.1L678.4 485.9L678.5 484.6L678.5 483.4L678.6 482.2L678.7 480.9L678.8 479.7L678.8 478.5L678.9 477.2L679.0 476.0L679.1 474.7L679.2 473.5L679.2 472.3L679.3 471.1L679.4 469.8L679.5 468.6L679.6 467.4L679.6 466.2L679.7 464.9L679.8 463.7L679.9 462.5L679.9 461.3L680.0 460.1L680.1 458.9L680.1 457.7L680.2 456.5L680.3 455.3L680.4 454.1L680.4 452.9L680.5 451.7L680.6 450.6L680.6 449.4L680.7 448.2L680.8 447.0L680.8 445.8L680.9 444.6L681.0 443.5L681.0 442.3L681.1 441.1L681.2 439.9L681.2 438.7L681.3 437.5L681.4 436.3L681.4 435.1L681.5 433.9L681.6 432.7L681.6 431.5L681.7 430.3L681.8 429.1L681.8 427.9L681.9 426.7L682.0 425.5L682.1 424.3L682.1 423.1L682.2 421.8L682.3 420.6L682.3 419.4L682.4 418.1L682.5 416.9L682.6 415.6L682.6 414.4L682.7 413.1L682.8 411.9L682.9 410.6L682.9 409.4L683.0 408.1L683.1 406.9L683.2 405.6L683.3 404.4L683.3 403.2L683.4 401.9L683.5 400.7L683.6 399.5L683.6 398.3L683.7 397.1L683.8 395.9L683.9 394.7L684.0 393.5L684.1 392.4L684.1 391.2L684.2 390.1L684.3 389.0L684.4 387.9L684.5 386.8L684.5 385.7L684.6 384.7L684.7 383.7L684.8 382.6L684.9 381.6L685.0 380.6L685.1 379.5L685.1 378.5L685.2 377.4L685.4 376.3L685.5 375.2L685.6 374.0L685.7 372.8L685.9 371.5L686.0 370.1L686.2 368.7L686.4 367.2L686.5 365.6L686.7 364.0L687.0 362.3L687.2 360.7L687.5 359.1L687.8 357.8L688.1 356.8L688.4 356.1L688.8 355.9L689.2 356.2L689.7 356.9L690.1 358.0L690.5 359.3L691.0 360.8L691.3 362.3L691.6 363.7L691.8 365.0L692.0 366.3L692.1 367.5L692.3 368.6L692.4 369.8L692.6 370.9L692.8 372.0L693.1 373.1L693.5 374.2L694.0 375.4L694.5 376.5L695.1 377.6L695.7 378.3L696.2 378.6L696.6 378.5L697.0 378.0L697.2 377.2L697.5 376.1L697.6 374.8L697.8 373.3L697.9 371.6L697.9 369.9L698.0 368.0L698.0 366.1L698.1 364.3L698.1 362.4L698.2 360.7L698.2 359.1L698.3 357.5L698.4 356.0L698.5 354.6L698.6 353.2L698.7 351.9L698.8 350.6L698.9 349.4L699.0 348.3L699.1 347.2L699.3 346.1L699.4 345.0L699.5 344.0L699.7 343.0L699.8 342.0L699.9 341.0L700.0 340.0L700.2 339.0L700.3 338.0L700.4 337.1L700.5 336.1L700.6 335.0L700.7 334.0L700.8 332.9L700.9 331.8L701.0 330.7L701.1 329.6L701.1 328.5L701.2 327.3L701.3 326.1L701.3 324.9L701.4 323.7L701.4 322.5L701.5 321.3L701.5 320.1L701.6 318.9L701.6 317.6L701.7 316.4L701.7 315.1L701.8 313.9L701.8 312.6L701.9 311.3L701.9 310.1L702.0 308.8L702.0 307.6L702.1 306.3L702.2 305.1L702.2 303.8L702.3 302.6L702.3 301.4L702.4 300.2L702.5 298.9L702.5 297.7L702.6 296.5L702.7 295.3L702.8 294.1L702.8 292.9L702.9 291.7L703.0 290.5L703.1 289.3L703.1 288.2L703.2 287.0L703.3 285.8L703.4 284.6L703.4 283.4L703.5 282.2L703.6 281.0L703.6 279.8L703.7 278.6L703.8 277.5L703.8 276.3L703.9 275.1L704.0 273.9L704.0 272.7L704.1 271.5L704.1 270.3L704.2 269.1L704.3 267.9L704.3 266.7L704.4 265.5L704.4 264.3L704.5 263.1L704.5 261.9L704.6 260.7L704.6 259.5L704.7 258.3L704.7 257.1L704.8 255.9L704.8 254.7L704.9 253.5L704.9 252.3L705.0 251.1L705.0 249.9L705.1 248.7L705.1 247.5L705.2 246.3L705.2 245.1L705.3 243.9L705.3 242.7L705.4 241.5L705.4 240.3L705.5 239.1L705.5 237.9L705.6 236.7L705.6 235.5L705.7 234.3L705.7 233.1L705.8 231.9L705.8 230.7L705.9 229.5L705.9 228.3L706.0 227.1L706.1 225.9L706.1 224.7L706.2 223.5L706.2 222.3L706.3 221.1L706.3 219.9L706.4 218.7L706.5 217.5L706.5 216.3L706.6 215.1L706.6 213.9L706.7 212.7L706.8 211.5L706.8 210.3L706.9 209.1L707.0 207.9L707.1 206.7L707.1 205.5L707.2 204.3L707.3 203.1L707.3 201.9L707.4 200.7L707.5 199.5L707.6 198.3L707.7 197.1L707.7 195.9L707.8 194.7L707.9 193.5L708.0 192.3L708.1 191.1L708.2 189.9L708.3 188.7L708.4 187.5L708.4 186.3L708.5 185.1L708.6 183.9L708.7 182.7L708.8 181.5L708.9 180.4L709.0 179.2L709.1 178.0L709.2 176.8L709.3 175.6L709.4 174.4L709.5 173.2L709.6 172.0L709.7 170.8L709.8 169.6L709.9 168.4L710.0 167.2L710.1 166.0L710.2 164.8L710.3 163.6L710.4 162.4L710.5 161.2L710.6 160.0L710.7 158.8L710.8 157.6L710.9 156.5L711.0 155.3L711.1 154.1L711.2 152.9L711.3 151.7L711.4 150.5L711.5 149.3L711.6 148.1L711.7 146.9L711.8 145.7L711.9 144.5L712.0 143.3L712.1 142.1L712.2 140.9L712.3 139.7L712.4 138.5L712.4 137.3L712.5 136.1L712.6 134.9L712.7 133.7L712.8 132.5L712.9 131.3L713.0 130.1L713.1 128.9L713.2 127.7L713.3 126.5L713.4 125.3L713.5 124.1L713.6 122.9L713.7 121.7L713.8 120.5L713.9 119.3L714.0 118.1L714.1 116.9L714.2 115.7L714.4 114.5L714.5 113.3L714.6 112.2L714.8 111.0L714.9 109.8L715.1 108.6L715.2 107.4L715.4 106.2L715.6 105.0L715.8 103.8L716.0 102.7L716.2 101.5L716.4 100.3L716.6 99.1L716.8 97.9L717.1 96.8L717.3 95.6L717.6 94.4L717.8 93.2L718.1 92.1L718.4 90.9L718.7 89.7L719.0 88.6L719.4 87.4L719.7 86.3L720.1 85.1L720.5 84.0L720.9 82.9L721.3 81.7L721.8 80.6L722.2 79.5L722.7 78.4L723.2 77.4L723.8 76.3L724.3 75.3L724.9 74.2L725.5 73.2L726.2 72.2L726.9 71.3L727.6 70.3L728.3 69.4L729.1 68.5L729.9 67.6L730.7 66.7L731.6 65.8L732.5 64.9L733.4 64.0L734.4 63.0L735.3 62.0L736.3 61.3L737.2 60.8L738.2 60.8L739.2 61.3L740.1 62.1L740.9 63.0L741.6 64.0L742.2 65.0L742.8 66.1L743.3 67.2L743.7 68.3L744.1 69.4L744.4 70.6L744.7 71.8L744.9 73.0L745.1 74.2L745.3 75.4L745.5 76.6L745.7 77.8L745.9 79.0L746.1 80.2L746.3 81.4L746.4 82.6L746.6 83.7L746.8 84.9L747.0 86.1L747.1 87.3L747.3 88.5L747.5 89.6L747.6 90.8L747.8 92.0L748.0 93.2L748.1 94.4L748.3 95.6L748.4 96.7L748.6 97.9L748.7 99.1L748.9 100.3L749.0 101.5L749.1 102.7L749.3 103.9L749.4 105.1L749.5 106.3L749.7 107.5L749.8 108.7L749.9 109.9L750.0 111.1L750.2 112.3L750.3 113.5L750.4 114.7L750.5 115.9L750.6 117.1L750.8 118.3L750.9 119.5L751.0 120.7L751.1 121.9L751.2 123.1L751.3 124.3L751.4 125.5L751.5 126.7L751.6 127.9L751.7 129.1L751.8 130.3L751.9 131.5L752.0 132.7L752.1 133.9L752.2 135.1L752.3 136.3L752.4 137.5L752.5 138.6L752.6 139.8L752.7 141.0L752.8 142.2L752.9 143.4L753.0 144.6L753.1 145.8L753.2 147.0L753.3 148.2L753.4 149.4L753.5 150.6L753.5 151.8L753.6 153.0L753.7 154.2L753.8 155.3L753.9 156.5L754.0 157.7L754.1 158.9L754.2 160.1L754.3 161.3L754.3 162.5L754.4 163.7L754.5 164.9L754.6 166.1L754.7 167.3L754.8 168.5L754.8 169.7L754.9 170.9L755.0 172.1L755.1 173.2L755.2 174.4L755.3 175.6L755.3 176.8L755.4 178.0L755.5 179.2L755.6 180.4L755.7 181.6L755.7 182.8L755.8 184.0L755.9 185.3L756.0 186.5L756.1 187.7L756.1 188.9L756.2 190.1L756.3 191.3L756.4 192.5L756.5 193.7L756.5 194.9L756.6 196.1L756.7 197.4L756.8 198.6L756.8 199.8L756.9 201.0L757.0 202.3L757.1 203.5L757.1 204.7L757.2 205.9L757.3 207.1L757.4 208.3L757.5 209.5L757.6 210.6L757.6 211.8L757.7 212.9L757.8 214.0L757.9 215.0L758.0 216.1L758.2 217.2L758.3 218.3L758.4 219.4L758.5 220.5L758.6 221.8L758.8 223.1L758.9 224.5L759.0 226.1L759.2 227.7L759.3 229.3L759.5 230.7L759.7 231.8L759.9 232.4L760.1 232.3L760.5 231.5L760.8 230.3L761.1 228.9L761.4 227.3L761.6 225.9L761.8 224.5L762.0 223.2L762.1 222.0L762.2 220.9L762.3 219.7L762.4 218.6L762.5 217.5L762.6 216.4L762.7 215.3L762.8 214.2L762.9 213.0L763.0 211.8L763.1 210.7L763.2 209.5L763.3 208.3L763.4 207.1L763.5 205.9L763.6 204.7L763.6 203.4L763.7 202.2L763.8 201.0L763.9 199.8L764.0 198.6L764.1 197.4L764.2 196.2L764.2 195.0L764.3 193.8L764.4 192.5L764.5 191.3L764.5 190.1L764.6 188.9L764.7 187.7L764.8 186.5L764.8 185.3L764.9 184.1L765.0 182.9L765.0 181.7L765.1 180.5L765.2 179.3L765.2 178.1L765.3 176.9L765.3 175.7L765.4 174.5L765.5 173.3L765.5 172.1L765.6 170.9L765.6 169.7L765.7 168.5L765.8 167.4L765.8 166.2L765.9 165.0L765.9 163.8L766.0 162.7L766.1 161.5L766.1 160.3L766.2 159.1L766.3 158.0L766.3 156.8L766.4 155.6L766.5 154.4L766.6 153.3L766.7 152.1L766.7 150.9L766.8 149.7L766.9 148.5L767.0 147.2L767.1 146.0L767.3 144.8L767.4 143.5L767.5 142.3L767.7 141.0L767.8 139.8L768.0 138.5L768.1 137.2L768.3 135.9L768.5 134.5L768.7 133.2L768.9 132.1L769.3 131.1L769.9 130.6L770.6 130.5L771.5 131.0L772.4 131.7L773.1 132.6L773.6 133.6L774.0 134.7L774.3 136.0L774.4 137.2L774.5 138.5L774.6 139.8L774.7 141.1L774.8 142.4L774.9 143.6L775.1 144.9L775.2 146.1L775.3 147.3L775.5 148.5L775.6 149.7L775.7 150.9L775.9 152.1L776.0 153.2L776.2 154.4L776.3 155.6L776.5 156.8L776.6 158.0L776.7 159.2L776.9 160.4L777.0 161.6L777.1 162.7L777.3 163.9L777.4 165.1L777.5 166.3L777.7 167.5L777.8 168.7L777.9 169.9L778.0 171.1L778.2 172.2L778.3 173.4L778.4 174.6L778.5 175.8L778.6 177.0L778.8 178.2L778.9 179.4L779.0 180.6L779.1 181.8L779.2 183.0L779.4 184.2L779.5 185.4L779.6 186.5L779.7 187.7L779.8 188.9L779.9 190.1L780.0 191.3L780.1 192.5L780.2 193.7L780.4 194.9L780.5 196.1L780.6 197.3L780.7 198.5L780.8 199.7L780.9 200.9L781.0 202.1L781.1 203.3L781.2 204.4L781.3 205.6L781.4 206.8L781.5 208.0L781.6 209.2L781.7 210.4L781.8 211.6L781.9 212.8L782.0 214.0L782.1 215.2L782.2 216.4L782.3 217.6L782.4 218.8L782.5 220.0L782.6 221.2L782.7 222.4L782.8 223.6L783.0 224.8L783.1 226.0L783.2 227.2L783.3 228.4L783.4 229.6L783.5 230.8L783.6 232.0L783.7 233.1L783.8 234.3L783.9 235.5L784.0 236.7L784.1 237.9L784.2 239.1L784.3 240.3L784.4 241.5L784.5 242.7L784.6 243.9L784.7 245.1L784.8 246.3L784.9 247.5L785.0 248.7L785.1 249.9L785.2 251.1L785.3 252.3L785.4 253.5L785.5 254.7L785.6 255.9L785.8 257.1L785.9 258.3L786.0 259.5L786.1 260.7L786.2 261.9L786.3 263.1L786.4 264.3L786.5 265.5L786.6 266.7L786.8 267.9L786.9 269.1L787.0 270.2L787.1 271.4L787.2 272.6L787.3 273.8L787.5 275.0L787.6 276.2L787.7 277.4L787.8 278.6L787.9 279.8L788.1 281.0L788.2 282.2L788.3 283.4L788.4 284.6L788.5 285.8L788.7 287.0L788.8 288.2L788.9 289.4L789.0 290.6L789.2 291.8L789.3 293.0L789.4 294.2L789.6 295.3L789.7 296.5L789.8 297.7L790.0 298.9L790.1 300.1L790.2 301.3L790.4 302.5L790.5 303.7L790.6 304.9L790.8 306.1L790.9 307.3L791.0 308.5L791.2 309.7L791.3 310.9L791.5 312.1L791.6 313.3L791.7 314.4L791.9 315.6L792.0 316.8L792.2 318.0L792.3 319.2L792.5 320.4L792.6 321.6L792.8 322.8L792.9 324.0L793.1 325.2L793.2 326.4L793.4 327.6L793.5 328.7L793.7 329.9L793.8 331.1L794.0 332.3L794.2 333.5L794.3 334.7L794.5 335.9L794.6 337.1L794.8 338.3L795.0 339.5L795.1 340.6L795.3 341.8L795.5 343.0L795.6 344.2L795.8 345.4L796.0 346.6L796.1 347.8L796.3 349.0L796.5 350.2L796.6 351.3L796.8 352.5L797.0 353.7L797.2 354.9L797.4 356.1L797.5 357.3L797.7 358.5L797.9 359.6L798.1 360.8L798.3 362.0L798.4 363.2L798.6 364.4L798.8 365.6L799.0 366.8L799.2 367.9L799.4 369.1L799.6 370.3L799.8 371.5L800.0 372.7L800.2 373.9L800.4 375.0L800.6 376.2L800.8 377.4L801.0 378.6L801.2 379.8L801.4 381.0L801.6 382.1L801.8 383.3L802.0 384.5L802.2 385.7L802.4 386.9L802.6 388.0L802.8 389.2L803.0 390.4L803.3 391.6L803.5 392.8L803.7 393.9L803.9 395.1L804.1 396.3L804.4 397.5L804.6 398.7L804.8 399.8L805.0 401.0L805.3 402.2L805.5 403.4L805.7 404.5L806.0 405.7L806.2 406.9L806.4 408.1L806.7 409.3L806.9 410.4L807.1 411.6L807.4 412.8L807.6 414.0L807.9 415.1L808.1 416.3L808.4 417.5L808.6 418.7L808.9 419.8L809.1 421.0L809.4 422.2L809.6 423.3L809.9 424.5L810.1 425.7L810.4 426.9L810.7 428.0L810.9 429.2L811.2 430.4L811.4 431.5L811.7 432.7L812.0 433.9L812.3 435.0L812.5 436.2L812.8 437.4L813.1 438.6L813.4 439.7L813.6 440.9L813.9 442.1L814.2 443.2L814.5 444.4L814.8 445.6L815.1 446.7L815.3 447.9L815.6 449.0L815.9 450.2L816.2 451.4L816.5 452.5L816.8 453.7L817.1 454.9L817.4 456.0L817.7 457.2L818.0 458.4L818.3 459.5L818.6 460.7L818.9 461.8L819.2 463.0L819.6 464.2L819.9 465.3L820.2 466.5L820.5 467.6L820.8 468.8L821.2 470.0L821.5 471.1L821.8 472.3L822.1 473.4L822.5 474.6L822.8 475.7L823.1 476.9L823.5 478.1L823.8 479.2L824.1 480.4L824.5 481.5L824.8 482.7L825.2 483.8L825.5 485.0L825.9 486.1L826.2 487.3L826.6 488.4L826.9 489.6L827.3 490.7L827.6 491.9L828.0 493.0" fill="none" stroke="#50C3F5" stroke-width="1.25" stroke-linejoin="round"/>
<path d="M91.2 596.0L92.0 595.5L92.9 594.9L93.8 594.3L94.8 593.7L95.9 593.1L96.9 592.5L98.0 591.8L99.1 591.2L100.2 590.5L101.3 589.8L102.3 589.0L103.3 588.3L104.3 587.5L105.2 586.6L106.1 585.8L106.9 584.9L107.7 584.0L108.5 583.1L109.2 582.2L109.9 581.2L110.6 580.2L111.2 579.2L111.8 578.2L112.4 577.2L113.0 576.1L113.5 575.1L114.0 574.0L114.5 572.9L114.9 571.8L115.4 570.7L115.8 569.6L116.2 568.5L116.6 567.3L117.0 566.2L117.4 565.0L117.8 563.9L118.2 562.7L118.5 561.6L118.9 560.5L119.2 559.3L119.6 558.1L119.9 557.0L120.3 555.8L120.6 554.7L120.9 553.5L121.2 552.4L121.6 551.2L121.9 550.1L122.2 548.9L122.5 547.7L122.8 546.6L123.1 545.4L123.4 544.2L123.7 543.1L123.9 541.9L124.2 540.7L124.5 539.6L124.8 538.4L125.0 537.2L125.3 536.1L125.6 534.9L125.8 533.7L126.1 532.5L126.3 531.4L126.6 530.2L126.8 529.0L127.0 527.8L127.3 526.7L127.5 525.5L127.7 524.3L128.0 523.1L128.2 521.9L128.4 520.8L128.6 519.6L128.8 518.4L129.0 517.2L129.2 516.0L129.4 514.9L129.6 513.7L129.8 512.5L130.0 511.3L130.2 510.1L130.4 508.9L130.6 507.7L130.8 506.6L131.0 505.4L131.2 504.2L131.3 503.0L131.5 501.8L131.7 500.6L131.8 499.4L132.0 498.2L132.2 497.0L132.3 495.9L132.5 494.7L132.7 493.5L132.8 492.3L133.0 491.1L133.1 489.9L133.3 488.7L133.4 487.5L133.6 486.3L133.7 485.1L133.9 483.9L134.0 482.7L134.2 481.5L134.3 480.4L134.5 479.2L134.6 478.0L134.7 476.8L134.9 475.6L135.0 474.4L135.1 473.2L135.3 472.0L135.4 470.8L135.5 469.6L135.7 468.4L135.8 467.2L135.9 466.0L136.1 464.8L136.2 463.6L136.3 462.4L136.4 461.2L136.6 460.0L136.7 458.9L136.8 457.7L136.9 456.5L137.0 455.3L137.2 454.1L137.3 452.9L137.4 451.7L137.5 450.5L137.6 449.3L137.8 448.1L137.9 446.9L138.0 445.7L138.1 444.5L138.2 443.3L138.3 442.1L138.4 440.9L138.5 439.7L138.7 438.5L138.8 437.3L138.9 436.1L139.0 434.9L139.1 433.8L139.2 432.6L139.3 431.4L139.4 430.2L139.5 429.0L139.6 427.8L139.7 426.6L139.8 425.4L139.9 424.2L140.0 423.0L140.1 421.8L140.2 420.6L140.3 419.4L140.4 418.2L140.5 417.0L140.6 415.8L140.7 414.6L140.8 413.4L140.9 412.2L141.0 411.0L141.1 409.8L141.2 408.6L141.3 407.4L141.4 406.2L141.5 405.0L141.6 403.8L141.7 402.7L141.8 401.5L141.9 400.3L142.0 399.1L142.1 397.9L142.2 396.7L142.2 395.5L142.3 394.3L142.4 393.1L142.5 391.9L142.6 390.7L142.7 389.5L142.8 388.3L142.9 387.1L143.0 385.9L143.1 384.7L143.1 383.5L143.2 382.3L143.3 381.1L143.4 379.9L143.5 378.7L143.6 377.5L143.7 376.3L143.8 375.1L143.8 373.9L143.9 372.7L144.0 371.5L144.1 370.3L144.2 369.1L144.3 367.9L144.4 366.7L144.4 365.6L144.5 364.4L144.6 363.2L144.7 362.0L144.8 360.8L144.9 359.6L145.0 358.4L145.0 357.2L145.1 356.0L145.2 354.8L145.3 353.6L145.4 352.4L145.5 351.2L145.6 350.0L145.6 348.8L145.7 347.6L145.8 346.4L145.9 345.2L146.0 344.0L146.1 342.8L146.2 341.6L146.2 340.4L146.3 339.2L146.4 338.0L146.5 336.8L146.6 335.6L146.7 334.4L146.8 333.2L146.8 332.0L146.9 330.8L147.0 329.6L147.1 328.4L147.2 327.2L147.3 326.0L147.4 324.8L147.4 323.6L147.5 322.4L147.6 321.3L147.7 320.1L147.8 318.9L147.9 317.7L148.0 316.5L148.1 315.3L148.2 314.1L148.2 312.9L148.3 311.7L148.4 310.5L148.5 309.3L148.6 308.1L148.7 306.9L148.8 305.7L148.9 304.5L149.0 303.3L149.1 302.1L149.2 300.9L149.3 299.7L149.4 298.5L149.4 297.3L149.5 296.1L149.6 294.9L149.7 293.7L149.8 292.5L149.9 291.3L150.0 290.1L150.1 288.9L150.2 287.7L150.3 286.5L150.4 285.3L150.5 284.1L150.6 282.9L150.7 281.7L150.8 280.6L150.9 279.4L151.0 278.2L151.1 277.0L151.2 275.8L151.3 274.6L151.4 273.4L151.5 272.2L151.7 271.0L151.8 269.8L151.9 268.6L152.0 267.4L152.1 266.2L152.2 265.0L152.3 263.8L152.4 262.6L152.5 261.4L152.6 260.2L152.7 259.0L152.9 257.8L153.0 256.6L153.1 255.4L153.2 254.2L153.3 253.0L153.4 251.9L153.6 250.7L153.7 249.5L153.8 248.3L153.9 247.1L154.0 245.9L154.1 244.7L154.3 243.5L154.4 242.3L154.5 241.1L154.6 239.9L154.8 238.7L154.9 237.5L155.0 236.3L155.1 235.1L155.3 233.9L155.4 232.7L155.5 231.6L155.7 230.4L155.8 229.2L155.9 228.0L156.1 226.8L156.2 225.6L156.3 224.4L156.5 223.2L156.6 222.0L156.7 220.8L156.9 219.6L157.0 218.4L157.2 217.2L157.3 216.1L157.4 214.9L157.6 213.7L157.7 212.5L157.9 211.3L158.0 210.1L158.2 208.9L158.3 207.7L158.5 206.5L158.6 205.3L158.8 204.1L158.9 202.9L159.1 201.8L159.2 200.6L159.4 199.4L159.5 198.2L159.7 197.0L159.8 195.8L160.0 194.6L160.2 193.4L160.3 192.2L160.5 191.0L160.6 189.9L160.8 188.7L161.0 187.5L161.1 186.3L161.3 185.1L161.5 183.9L161.6 182.7L161.8 181.5L162.0 180.3L162.1 179.1L162.3 178.0L162.5 176.8L162.7 175.6L162.8 174.4L163.0 173.2L163.2 172.0L163.4 170.8L163.5 169.6L163.7 168.5L163.9 167.3L164.1 166.1L164.3 164.9L164.4 163.7L164.6 162.5L164.8 161.3L165.0 160.1L165.2 159.0L165.4 157.8L165.5 156.6L165.7 155.4L165.9 154.2L166.1 153.0L166.3 151.8L166.5 150.7L166.7 149.5L166.9 148.3L167.1 147.1L167.3 145.9L167.5 144.7L167.7 143.6L167.9 142.4L168.1 141.2L168.3 140.0L168.5 138.8L168.7 137.6L168.9 136.4L169.1 135.3L169.3 134.1L169.5 132.9L169.7 131.7L170.0 130.5L170.2 129.4L170.4 128.2L170.6 127.0L170.8 125.8L171.0 124.6L171.2 123.4L171.5 122.3L171.7 121.1L171.9 119.9L172.1 118.7L172.4 117.5L172.6 116.4L172.8 115.2L173.0 114.0L173.3 112.8L173.5 111.6L173.7 110.5L173.9 109.3L174.2 108.1L174.4 106.9L174.7 105.8L174.9 104.6L175.1 103.4L175.4 102.2L175.6 101.1L175.9 99.9L176.1 98.7L176.4 97.5L176.7 96.4L176.9 95.2L177.2 94.0L177.5 92.9L177.8 91.7L178.1 90.6L178.5 89.4L178.8 88.3L179.1 87.2L179.5 86.0L179.9 84.9L180.3 83.8L180.7 82.6L181.1 81.5L181.6 80.4L182.0 79.3L182.5 78.2L183.0 77.1L183.5 76.1L184.1 75.0L184.7 73.9L185.2 72.9L185.9 71.8L186.5 70.8L187.2 69.7L187.8 68.7L188.6 67.7L189.3 66.7L190.1 65.7L190.9 64.7L191.7 63.8L192.5 62.8L193.4 61.9L194.3 61.0L195.3 60.2L196.2 59.5L197.2 59.0L198.2 58.5L199.3 58.3L200.3 58.2L201.4 58.4L202.5 58.7L203.5 59.3L204.6 59.9L205.6 60.7L206.5 61.5L207.3 62.4L208.1 63.3L208.8 64.3L209.4 65.3L210.0 66.3L210.5 67.4L211.0 68.5L211.5 69.6L211.9 70.7L212.3 71.9L212.6 73.1L213.0 74.3L213.3 75.5L213.6 76.7L213.8 77.9L214.1 79.1L214.3 80.3L214.6 81.5L214.8 82.6L215.1 83.8L215.3 85.0L215.5 86.2L215.7 87.4L215.9 88.5L216.1 89.7L216.3 90.9L216.5 92.1L216.7 93.3L216.9 94.4L217.1 95.6L217.2 96.8L217.4 98.0L217.6 99.1L217.8 100.3L217.9 101.5L218.1 102.7L218.3 103.9L218.4 105.1L218.6 106.2L218.8 107.4L218.9 108.6L219.1 109.8L219.2 111.0L219.4 112.2L219.5 113.4L219.7 114.6L219.8 115.7L219.9 116.9L220.1 118.1L220.2 119.3L220.4 120.5L220.5 121.7L220.6 122.9L220.8 124.1L220.9 125.3L221.0 126.5L221.1 127.7L221.3 128.9L221.4 130.1L221.5 131.2L221.6 132.4L221.7 133.6L221.9 134.8L222.0 136.0L222.1 137.2L222.2 138.4L222.3 139.6L222.4 140.8L222.5 142.0L222.6 143.2L222.8 144.4L222.9 145.6L223.0 146.8L223.1 148.0L223.2 149.2L223.3 150.4L223.4 151.6L223.5 152.8L223.6 154.0L223.7 155.2L223.8 156.4L223.9 157.6L224.0 158.8L224.1 160.0L224.2 161.2L224.3 162.4L224.4 163.6L224.5 164.8L224.6 166.0L224.7 167.2L224.8 168.4L224.9 169.6L225.0 170.8L225.1 172.0L225.2 173.2L225.3 174.3L225.4 175.5L225.5 176.7L225.6 177.9L225.7 179.1L225.8 180.3L225.9 181.5L226.0 182.7L226.1 183.9L226.2 185.1L226.3 186.3L226.3 187.5L226.4 188.7L226.5 189.9L226.6 191.1L226.7 192.3L226.8 193.5L226.9 194.7L227.0 195.9L227.1 197.1L227.2 198.3L227.3 199.5L227.4 200.7L227.5 201.9L227.5 203.1L227.6 204.3L227.7 205.5L227.8 206.7L227.9 207.9L228.0 209.1L228.1 210.3L228.2 211.5L228.3 212.7L228.3 213.9L228.4 215.1L228.5 216.3L228.6 217.5L228.7 218.7L228.8 219.9L228.9 221.1L229.0 222.3L229.0 223.5L229.1 224.6L229.2 225.8L229.3 227.0L229.4 228.2L229.5 229.4L229.6 230.6L229.6 231.8L229.7 233.0L229.8 234.2L229.9 235.4L230.0 236.6L230.1 237.8L230.1 239.0L230.2 240.2L230.3 241.4L230.4 242.6L230.5 243.8L230.6 245.0L230.6 246.2L230.7 247.4L230.8 248.6L230.9 249.8L231.0 251.0L231.0 252.2L231.1 253.4L231.2 254.6L231.3 255.8L231.4 257.0L231.4 258.2L231.5 259.4L231.6 260.6L231.7 261.8L231.7 263.0L231.8 264.2L231.9 265.4L232.0 266.6L232.1 267.8L232.1 269.0L232.2 270.2L232.3 271.3L232.4 272.5L232.4 273.7L232.5 274.9L232.6 276.1L232.7 277.3L232.7 278.5L232.8 279.7L232.9 280.9L233.0 282.1L233.0 283.3L233.1 284.5L233.2 285.7L233.3 286.9L233.3 288.1L233.4 289.3L233.5 290.5L233.6 291.7L233.6 292.9L233.7 294.1L233.8 295.3L233.9 296.5L233.9 297.7L234.0 298.9L234.1 300.1L234.1 301.3L234.2 302.5L234.3 303.7L234.4 304.9L234.4 306.1L234.5 307.3L234.6 308.5L234.6 309.7L234.7 310.9L234.8 312.1L234.8 313.3L234.9 314.5L235.0 315.7L235.1 316.9L235.1 318.1L235.2 319.3L235.3 320.5L235.3 321.6L235.4 322.8L235.5 324.0L235.5 325.2L235.6 326.4L235.7 327.6L235.7 328.8L235.8 330.0L235.9 331.2L235.9 332.4L236.0 333.6L236.1 334.8L236.2 336.0L236.2 337.2L236.3 338.4L236.4 339.6L236.4 340.8L236.5 342.0L236.6 343.2L236.6 344.4L236.7 345.6L236.8 346.8L236.8 348.0L236.9 349.2L237.0 350.4L237.0 351.6L237.1 352.8L237.2 354.0L237.2 355.2L237.3 356.4L237.4 357.6L237.4 358.8L237.5 360.0L237.6 361.2L237.6 362.4L237.7 363.6L237.7 364.8L237.8 366.0L237.9 367.2L237.9 368.4L238.0 369.6L238.1 370.8L238.1 372.0L238.2 373.2L238.3 374.4L238.3 375.6L238.4 376.8L238.5 378.0L238.5 379.2L238.6 380.4L238.7 381.6L238.7 382.8L238.8 384.0L238.9 385.2L238.9 386.4L239.0 387.6L239.1 388.8L239.1 390.0L239.2 391.2L239.3 392.4L239.3 393.6L239.4 394.8L239.5 396.0L239.5 397.2L239.6 398.4L239.7 399.6L239.7 400.8L239.8 402.0L239.9 403.2L239.9 404.4L240.0 405.6L240.1 406.8L240.1 408.0L240.2 409.2L240.2 410.4L240.3 411.6L240.4 412.8L240.4 414.0L240.5 415.2L240.6 416.4L240.6 417.6L240.7 418.8L240.8 420.0L240.9 421.2L240.9 422.4L241.0 423.6L241.1 424.8L241.1 426.0L241.2 427.2L241.3 428.4L241.3 429.6L241.4 430.8L241.5 432.0L241.6 433.2L241.6 434.4L241.7 435.6L241.8 436.8L241.9 438.0L241.9 439.2L242.0 440.4L242.1 441.6L242.2 442.8L242.2 444.0L242.3 445.2L242.4 446.4L242.5 447.6L242.6 448.8L242.7 450.0L242.7 451.2L242.8 452.4L242.9 453.6L243.0 454.8L243.1 456.0L243.2 457.2L243.3 458.4L243.4 459.6L243.5 460.8L243.6 462.0L243.7 463.1L243.8 464.3L243.9 465.5L244.0 466.7L244.1 467.9L244.2 469.1L244.3 470.3L244.4 471.5L244.6 472.7L244.7 473.9L244.8 475.1L244.9 476.3L245.0 477.5L245.2 478.7L245.3 479.8L245.4 481.0L245.5 482.2L245.7 483.4L245.8 484.6L245.9 485.8L246.1 487.0L246.2 488.2L246.4 489.3L246.5 490.5L246.7 491.7L246.8 492.9L247.0 494.1L247.1 495.3L247.3 496.5L247.5 497.6L247.6 498.8L247.8 500.0L247.9 501.2L248.1 502.4L248.3 503.5L248.5 504.7L248.7 505.9L248.8 507.1L249.0 508.3L249.2 509.4L249.4 510.6L249.6 511.8L249.8 513.0L250.0 514.1L250.2 515.3L250.4 516.5L250.7 517.7L250.9 518.9L251.1 520.1L251.4 521.3L251.6 522.5L251.9 523.7L252.1 524.9L252.4 526.1L252.7 527.4L253.0 528.6L253.3 529.8L253.6 531.0L254.1 532.2L254.6 533.2L255.2 534.2L255.8 534.7L256.5 534.4L257.1 533.6L257.7 532.5L258.2 531.4L258.5 530.2L258.8 529.0L259.1 527.8L259.3 526.6L259.5 525.4L259.7 524.2L259.8 523.0L260.0 521.8L260.1 520.6L260.3 519.4L260.4 518.2L260.6 517.0L260.7 515.8L260.8 514.6L261.0 513.4L261.1 512.2L261.2 511.0L261.3 509.8L261.5 508.6L261.6 507.4L261.7 506.2L261.8 505.0L261.9 503.8L262.0 502.6L262.1 501.4L262.2 500.3L262.3 499.1L262.4 497.9L262.5 496.7L262.6 495.5L262.7 494.3L262.8 493.1L262.9 491.9L263.0 490.7L263.1 489.5L263.2 488.3L263.3 487.1L263.4 486.0L263.5 484.8L263.6 483.6L263.7 482.4L263.8 481.2L263.9 480.0L264.0 478.8L264.1 477.6L264.2 476.4L264.3 475.2L264.3 474.0L264.4 472.8L264.5 471.6L264.6 470.4L264.7 469.2L264.8 468.0L264.9 466.8L265.0 465.6L265.1 464.4L265.1 463.2L265.2 462.0L265.3 460.8L265.4 459.6L265.5 458.4L265.5 457.2L265.6 456.0L265.7 454.8L265.8 453.6L265.8 452.4L265.9 451.2L266.0 450.0L266.0 448.8L266.1 447.6L266.2 446.4L266.2 445.2L266.3 444.0L266.4 442.8L266.4 441.6L266.5 440.4L266.6 439.2L266.6 438.0L266.7 436.8L266.7 435.6L266.8 434.4L266.8 433.2L266.9 432.0L267.0 430.8L267.0 429.6L267.1 428.4L267.1 427.2L267.2 426.0L267.2 424.8L267.3 423.6L267.3 422.4L267.4 421.2L267.4 420.0L267.5 418.8L267.5 417.6L267.6 416.4L267.6 415.2L267.7 414.0L267.7 412.8L267.8 411.6L267.8 410.4L267.9 409.2L267.9 408.0L268.0 406.8L268.0 405.6L268.1 404.4L268.1 403.2L268.2 402.0L268.2 400.8L268.3 399.6L268.3 398.4L268.4 397.2L268.4 396.0L268.5 394.8L268.5 393.6L268.6 392.4L268.6 391.2L268.7 390.0L268.7 388.8L268.8 387.6L268.9 386.4L268.9 385.2L269.0 384.0L269.0 382.8L269.1 381.6L269.1 380.4L269.2 379.2L269.2 378.0L269.3 376.9L269.4 375.7L269.4 374.5L269.5 373.3L269.5 372.1L269.6 370.9L269.7 369.7L269.7 368.5L269.8 367.3L269.9 366.1L269.9 364.9L270.0 363.7L270.1 362.5L270.1 361.3L270.2 360.1L270.3 358.9L270.4 357.7L270.4 356.5L270.5 355.3L270.6 354.1L270.7 352.9L270.7 351.7L270.8 350.5L270.9 349.3L271.0 348.1L271.1 346.9L271.2 345.7L271.2 344.5L271.3 343.3L271.4 342.1L271.5 340.9L271.6 339.7L271.7 338.5L271.7 337.3L271.8 336.1L271.9 334.9L272.0 333.7L272.1 332.5L272.2 331.3L272.2 330.1L272.3 328.9L272.4 327.7L272.5 326.5L272.6 325.3L272.7 324.1L272.8 322.9L272.8 321.7L272.9 320.5L273.0 319.3L273.1 318.1L273.2 316.9L273.2 315.7L273.3 314.5L273.4 313.3L273.5 312.1L273.6 310.9L273.6 309.7L273.7 308.5L273.8 307.3L273.9 306.1L273.9 304.9L274.0 303.7L274.1 302.5L274.2 301.3L274.2 300.1L274.3 298.9L274.4 297.8L274.4 296.6L274.5 295.4L274.6 294.2L274.6 293.0L274.7 291.8L274.7 290.6L274.8 289.4L274.8 288.2L274.9 287.0L274.9 285.8L275.0 284.6L275.0 283.4L275.1 282.2L275.1 281.0L275.2 279.8L275.2 278.6L275.3 277.4L275.3 276.2L275.4 275.0L275.4 273.8L275.5 272.6L275.5 271.4L275.6 270.2L275.6 269.0L275.7 267.8L275.7 266.6L275.8 265.4L275.8 264.2L275.9 263.0L275.9 261.8L276.0 260.6L276.1 259.4L276.2 258.2L276.2 257.0L276.3 255.8L276.4 254.6L276.5 253.4L276.6 252.2L276.7 251.0L276.8 249.8L276.9 248.6L277.0 247.4L277.2 246.2L277.3 245.0L277.4 243.8L277.5 242.6L277.7 241.4L277.8 240.2L278.0 239.0L278.1 237.8L278.2 236.6L278.4 235.4L278.5 234.3L278.7 233.1L278.8 231.9L279.0 230.7L279.1 229.5L279.3 228.3L279.5 227.1L279.6 225.9L279.8 224.7L279.9 223.5L280.1 222.3L280.2 221.1L280.4 219.9L280.5 218.8L280.7 217.6L280.8 216.4L281.0 215.2L281.1 214.0L281.2 212.8L281.4 211.7L281.5 210.5L281.6 209.3L281.8 208.1L281.9 206.9L282.0 205.8L282.2 204.6L282.3 203.4L282.5 202.2L282.7 201.0L282.8 199.9L283.0 198.7L283.2 197.5L283.4 196.3L283.6 195.2L283.9 194.0L284.1 192.8L284.4 191.6L284.7 190.4L285.0 189.2L285.4 188.0L285.7 186.9L286.1 185.7L286.5 184.5L287.0 183.3L287.4 182.1L287.9 180.9L288.5 179.7L289.0 178.5L289.6 177.6L290.3 177.0L290.9 176.8L291.6 177.2L292.3 177.9L293.0 179.0L293.6 180.2L294.2 181.5L294.7 182.8L295.1 184.0L295.5 185.3L295.8 186.5L296.1 187.7L296.4 188.9L296.6 190.1L296.8 191.3L297.0 192.4L297.2 193.6L297.3 194.8L297.5 196.0L297.7 197.2L297.8 198.3L298.0 199.5L298.1 200.7L298.3 201.9L298.5 203.0L298.6 204.2L298.8 205.4L298.9 206.6L299.1 207.8L299.2 208.9L299.3 210.1L299.5 211.3L299.6 212.5L299.8 213.7L299.9 214.9L300.0 216.0L300.2 217.2L300.3 218.4L300.4 219.6L300.6 220.8L300.7 222.0L300.8 223.1L301.0 224.3L301.1 225.5L301.2 226.7L301.3 227.9L301.4 229.1L301.6 230.3L301.7 231.5L301.8 232.7L301.9 233.8L302.0 235.0L302.1 236.2L302.3 237.4L302.4 238.6L302.5 239.8L302.6 241.0L302.7 242.2L302.8 243.4L302.9 244.6L303.0 245.8L303.1 247.0L303.2 248.2L303.3 249.4L303.4 250.6L303.5 251.8L303.6 253.0L303.7 254.2L303.8 255.4L303.9 256.6L304.0 257.8L304.1 259.0L304.2 260.3L304.3 261.5L304.4 262.7L304.5 263.9L304.6 265.1L304.7 266.3L304.8 267.5L304.8 268.7L304.9 269.9L305.0 271.2L305.1 272.4L305.2 273.6L305.3 274.8L305.4 276.0L305.5 277.2L305.6 278.4L305.7 279.6L305.8 280.8L305.9 282.0L306.0 283.2L306.1 284.4L306.2 285.6L306.3 286.8L306.4 288.0L306.4 289.2L306.5 290.4L306.6 291.6L306.8 292.8L306.9 293.9L307.0 295.1L307.1 296.3L307.2 297.5L307.3 298.6L307.4 299.8L307.5 301.0L307.6 302.1L307.7 303.3L307.8 304.4L308.0 305.6L308.1 306.7L308.2 307.8L308.3 309.0L308.4 310.1L308.6 311.2L308.7 312.3L308.8 313.5L309.0 314.6L309.1 315.8L309.3 316.9L309.4 318.1L309.6 319.4L309.7 320.7L309.9 322.0L310.1 323.4L310.3 324.8L310.5 326.3L310.7 327.9L310.9 329.4L311.1 330.9L311.4 332.2L311.7 333.2L312.0 333.9L312.3 334.2L312.6 334.0L313.0 333.3L313.4 332.3L313.7 331.0L314.1 329.6L314.4 328.1L314.7 326.6L314.9 325.2L315.2 323.9L315.4 322.6L315.5 321.3L315.7 320.1L315.8 318.9L315.9 317.7L316.0 316.6L316.1 315.5L316.2 314.3L316.3 313.2L316.4 312.1L316.5 310.9L316.6 309.8L316.7 308.7L316.8 307.5L316.9 306.4L317.0 305.2L317.1 304.0L317.2 302.9L317.4 301.7L317.5 300.5L317.6 299.3L317.7 298.1L317.8 296.9L318.0 295.7L318.1 294.5L318.2 293.3L318.3 292.1L318.5 290.9L318.6 289.7L318.7 288.5L318.8 287.3L319.0 286.1L319.1 284.9L319.2 283.7L319.3 282.5L319.5 281.2L319.6 280.0L319.7 278.8L319.8 277.6L320.0 276.4L320.1 275.2L320.2 274.0L320.3 272.8L320.5 271.6L320.6 270.3L320.7 269.1L320.8 267.9L320.9 266.7L321.0 265.6L321.1 264.4L321.2 263.2L321.3 262.0L321.4 260.8L321.5 259.6L321.6 258.4L321.7 257.3L321.8 256.1L322.0 254.9L322.1 253.8L322.2 252.6L322.4 251.4L322.5 250.2L322.7 249.1L322.9 247.9L323.1 246.7L323.3 245.5L323.6 244.3L323.8 243.1L324.0 241.9L324.3 240.6L324.6 239.4L325.0 238.2L325.5 237.1L326.2 236.0L326.9 235.2L327.7 235.1L328.4 235.6L329.1 236.6L329.8 237.8L330.2 239.0L330.6 240.2L331.0 241.4L331.2 242.6L331.4 243.8L331.6 244.9L331.9 246.1L332.1 247.3L332.3 248.5L332.5 249.7L332.7 250.8L332.9 252.0L333.0 253.2L333.2 254.4L333.4 255.6L333.6 256.7L333.8 257.9L334.0 259.1L334.2 260.3L334.4 261.5L334.5 262.7L334.7 263.8L334.9 265.0L335.1 266.2L335.3 267.4L335.4 268.6L335.6 269.8L335.8 271.0L336.0 272.2L336.1 273.3L336.3 274.5L336.5 275.7L336.6 276.9L336.8 278.1L337.0 279.3L337.1 280.5L337.3 281.7L337.5 282.9L337.6 284.0L337.8 285.2L338.0 286.4L338.1 287.6L338.3 288.8L338.5 290.0L338.6 291.2L338.8 292.4L339.0 293.6L339.1 294.8L339.3 295.9L339.5 297.1L339.6 298.3L339.8 299.5L340.0 300.7L340.1 301.9L340.3 303.1L340.4 304.3L340.6 305.5L340.8 306.7L340.9 307.9L341.1 309.0L341.3 310.2L341.5 311.4L341.6 312.6L341.8 313.8L342.0 315.0L342.1 316.2L342.3 317.4L342.5 318.6L342.7 319.7L342.8 320.9L343.0 322.1L343.2 323.3L343.4 324.5L343.6 325.7L343.7 326.9L343.9 328.1L344.1 329.2L344.3 330.4L344.5 331.6L344.7 332.8L344.9 334.0L345.1 335.2L345.3 336.3L345.5 337.5L345.7 338.7L345.9 339.9L346.1 341.1L346.3 342.3L346.5 343.4L346.7 344.6L346.9 345.8L347.1 347.0L347.3 348.1L347.5 349.3L347.8 350.5L348.0 351.7L348.2 352.9L348.4 354.0L348.6 355.2L348.9 356.4L349.1 357.6L349.3 358.7L349.5 359.9L349.8 361.1L350.0 362.3L350.2 363.5L350.4 364.6L350.7 365.8L350.9 367.0L351.1 368.2L351.4 369.3L351.6 370.5L351.8 371.7L352.1 372.9L352.3 374.0L352.5 375.2L352.8 376.4L353.0 377.6L353.3 378.8L353.5 379.9L353.7 381.1L354.0 382.3L354.2 383.5L354.5 384.7L354.7 385.8L354.9 387.0L355.2 388.2L355.4 389.4L355.7 390.6L355.9 391.7L356.2 392.9L356.4 394.1L356.7 395.3L356.9 396.4L357.2 397.6L357.5 398.8L357.7 400.0L358.0 401.1L358.3 402.3L358.5 403.5L358.8 404.7L359.1 405.8L359.4 407.0L359.7 408.2L360.0 409.3L360.3 410.5L360.6 411.7L360.9 412.8L361.2 414.0L361.5 415.1L361.9 416.3L362.2 417.5L362.5 418.6L362.9 419.8L363.2 420.9L363.6 422.0L364.0 423.2L364.3 424.3L364.7 425.5L365.1 426.6L365.5 427.7L365.9 428.8L366.3 430.0L366.7 431.1L367.2 432.2L367.6 433.3L368.0 434.4L368.5 435.5L368.9 436.7L369.4 437.8L369.9 438.9L370.4 439.9L370.9 441.0L371.4 442.1L371.9 443.2L372.4 444.3L372.9 445.4L373.4 446.4L374.0 447.5L374.5 448.6L375.1 449.6L375.6 450.7L376.2 451.8L376.8 452.8L377.3 453.9L377.9 454.9L378.5 456.0L379.1 457.0L379.7 458.0L380.3 459.1L381.0 460.1L381.6 461.1L382.2 462.1L382.9 463.2L383.5 464.2L384.2 465.2L384.8 466.2L385.5 467.2L386.2 468.2L386.8 469.2L387.5 470.2L388.2 471.2L388.9 472.1L389.6 473.1L390.3 474.1L391.0 475.1L391.7 476.0L392.4 477.0L393.2 478.0L393.9 478.9L394.6 479.9L395.4 480.8L396.1 481.8L396.9 482.7L397.6 483.6L398.4 484.6L399.2 485.5L399.9 486.4L400.7 487.3L401.5 488.3L402.3 489.2L403.1 490.1L403.9 491.0L404.7 491.9L405.5 492.7L406.3 493.6L407.1 494.5L408.0 495.4L408.8 496.2L409.6 497.1L410.5 497.9L411.3 498.8L412.2 499.6L413.1 500.4L414.0 501.2L414.8 502.0L415.7 502.8L416.6 503.6L417.5 504.4L418.4 505.2L419.4 506.0L420.3 506.7L421.2 507.5L422.2 508.2L423.1 509.0L424.0 509.7L425.0 510.5L425.9 511.2L426.9 511.9L427.9 512.6L428.8 513.3L429.8 514.0L430.8 514.7L431.8 515.4L432.8 516.1L433.8 516.8L434.7 517.5L435.7 518.1L436.7 518.8L437.7 519.5L438.7 520.2L439.7 520.8L440.7 521.5L441.7 522.1L442.8 522.8L443.8 523.4L444.8 524.1L445.8 524.7L446.8 525.4L447.8 526.0L448.8 526.6L449.9 527.3L450.9 527.9L451.9 528.5L452.9 529.2L453.9 529.8L455.0 530.4L456.0 531.1L457.0 531.7L458.0 532.3L459.1 532.9L460.1 533.6L461.1 534.2L462.1 534.8L463.2 535.4L464.2 536.1L465.2 536.7L466.2 537.3L467.3 537.9L468.3 538.6L469.3 539.2L470.3 539.8L471.4 540.4L472.4 541.1L473.4 541.7L474.4 542.3L475.5 542.9L476.5 543.5L477.5 544.2L478.6 544.8L479.6 545.4L480.6 546.0L481.6 546.6L482.7 547.3L483.7 547.9L484.7 548.5L485.8 549.1L486.8 549.7L487.8 550.3L488.9 550.9L489.9 551.5L490.9 552.2L492.0 552.8L493.0 553.4L494.0 554.0L495.1 554.6L496.1 555.2L497.1 555.8L498.2 556.4L499.2 557.0L500.2 557.6L501.3 558.2L502.3 558.8L503.4 559.4L504.4 560.0L505.4 560.6L506.5 561.2L507.5 561.8L508.6 562.4L509.6 563.0L510.7 563.6L511.7 564.2L512.7 564.8L513.8 565.4L514.8 565.9L515.9 566.5L516.9 567.1L518.0 567.7L519.0 568.3L520.1 568.9L521.1 569.5L522.2 570.0L523.2 570.6L524.3 571.2L525.3 571.8L526.4 572.4L527.4 572.9L528.5 573.5L529.5 574.1L530.6 574.7L531.7 575.3L532.7 575.8L533.8 576.4L534.8 577.0L535.9 577.6L536.9 578.1L538.0 578.7L539.0 579.3L540.1 579.9L541.1 580.4L542.2 581.0L543.2 581.6L544.3 582.1L545.4 582.7L546.4 583.3L547.5 583.8L548.5 584.4L549.6 584.9L550.7 585.5L551.7 586.0L552.8 586.5L553.9 587.1L555.0 587.6L556.1 588.1L557.1 588.6L558.2 589.1L559.3 589.6L560.4 590.0L561.6 590.5L562.7 590.9L563.8 591.3L564.9 591.8L566.1 592.2L567.2 592.5L568.4 592.9L569.6 593.2L570.7 593.5L571.9 593.7L573.1 593.9L574.3 594.0L575.5 594.1L576.8 594.1L578.0 594.1L579.3 593.9L580.5 593.7L581.7 593.5L582.8 593.1L583.9 592.7L585.0 592.1L586.0 591.5L586.9 590.8L587.7 589.9L588.4 589.0L589.1 588.1L589.7 587.0L590.3 585.9L590.8 584.8L591.2 583.6L591.7 582.5L592.1 581.3L592.5 580.0L592.8 578.8L593.2 577.6L593.5 576.4L593.8 575.2L594.1 574.1L594.4 572.9L594.7 571.7L594.9 570.5L595.2 569.3L595.4 568.2L595.7 567.0L595.9 565.8L596.1 564.6L596.3 563.5L596.5 562.3L596.7 561.1L596.9 560.0L597.0 558.8L597.2 557.6L597.4 556.4L597.5 555.3L597.7 554.1L597.8 552.9L598.0 551.7L598.1 550.6L598.3 549.4L598.4 548.2L598.5 547.0L598.7 545.8L598.8 544.6L598.9 543.5L599.0 542.3L599.2 541.1L599.3 539.9L599.4 538.7L599.5 537.5L599.6 536.3L599.7 535.1L599.8 533.9L599.9 532.7L600.0 531.5L600.1 530.3L600.2 529.1L600.3 527.9L600.4 526.7L600.5 525.5L600.6 524.3L600.7 523.1L600.8 521.9L600.9 520.7L601.0 519.5L601.1 518.3L601.1 517.1L601.2 515.9L601.3 514.7L601.4 513.5L601.5 512.3L601.6 511.1L601.7 509.9L601.8 508.7L601.8 507.5L601.9 506.3L602.0 505.1L602.1 503.9L602.2 502.7L602.3 501.5L602.4 500.3L602.5 499.1L602.5 497.9L602.6 496.7L602.7 495.5L602.8 494.3L602.9 493.1L603.0 491.9L603.0 490.7L603.1 489.5L603.2 488.3L603.3 487.1L603.4 485.9L603.5 484.7L603.6 483.5L603.6 482.3L603.7 481.1L603.8 479.9L603.9 478.7L604.0 477.5L604.1 476.3L604.1 475.1L604.2 473.9L604.3 472.7L604.4 471.5L604.5 470.3L604.6 469.1L604.6 467.9L604.7 466.7L604.8 465.5L604.9 464.3L605.0 463.1L605.1 461.9L605.1 460.7L605.2 459.5L605.3 458.3L605.4 457.1L605.5 455.9L605.6 454.7L605.6 453.5L605.7 452.3L605.8 451.1L605.9 449.9L606.0 448.7L606.1 447.5L606.1 446.3L606.2 445.1L606.3 444.0L606.4 442.8L606.5 441.6L606.6 440.4L606.7 439.2L606.7 438.0L606.8 436.8L606.9 435.6L607.0 434.4L607.1 433.2L607.2 432.0L607.3 430.8L607.4 429.6L607.4 428.4L607.5 427.2L607.6 426.0L607.7 424.8L607.8 423.7L607.9 422.5L608.0 421.3L608.1 420.1L608.1 418.9L608.2 417.7L608.3 416.5L608.4 415.3L608.5 414.1L608.6 412.9L608.7 411.7L608.8 410.5L608.9 409.4L609.0 408.2L609.1 407.0L609.1 405.8L609.2 404.6L609.3 403.4L609.4 402.2L609.5 401.0L609.6 399.8L609.7 398.6L609.8 397.4L609.9 396.2L610.0 395.0L610.1 393.9L610.2 392.7L610.3 391.5L610.4 390.3L610.5 389.1L610.6 387.9L610.7 386.7L610.8 385.5L610.9 384.3L611.0 383.1L611.1 381.9L611.2 380.7L611.3 379.5L611.4 378.3L611.5 377.1L611.6 375.9L611.7 374.7L611.8 373.5L611.9 372.3L612.0 371.1L612.1 369.9L612.2 368.7L612.3 367.5L612.4 366.3L612.5 365.1L612.6 363.9L612.7 362.7L612.8 361.5L612.9 360.3L613.0 359.1L613.1 357.9L613.2 356.7L613.3 355.4L613.5 354.2L613.6 353.0L613.7 351.8L613.8 350.6L613.9 349.4L614.0 348.2L614.1 347.0L614.2 345.8L614.3 344.6L614.4 343.4L614.6 342.2L614.7 341.0L614.8 339.7L614.9 338.5L615.0 337.3L615.1 336.1L615.2 334.9L615.4 333.7L615.5 332.5L615.6 331.3L615.7 330.1L615.8 328.9L615.9 327.7L616.1 326.5L616.2 325.3L616.3 324.1L616.4 322.9L616.5 321.7L616.6 320.5L616.8 319.3L616.9 318.1L617.0 316.9L617.1 315.7L617.2 314.5L617.4 313.4L617.5 312.2L617.6 311.0L617.7 309.8L617.8 308.6L618.0 307.4L618.1 306.2L618.2 305.1L618.3 303.9L618.4 302.7L618.6 301.5L618.7 300.4L618.8 299.2L618.9 298.0L619.0 296.9L619.2 295.7L619.3 294.5L619.4 293.4L619.5 292.2L619.7 291.1L619.8 289.9L619.9 288.8L620.0 287.6L620.2 286.5L620.3 285.3L620.4 284.2L620.5 283.0L620.7 281.9L620.8 280.8L621.0 279.6L621.1 278.4L621.3 277.3L621.5 276.1L621.7 274.9L622.0 273.7L622.3 272.5L622.6 271.3L622.9 270.1L623.3 268.8L623.7 267.5L624.2 266.2L624.6 264.9L625.2 263.5L625.8 262.2L626.4 260.8L627.1 259.5L627.7 258.3L628.4 257.3L629.1 256.5L629.8 255.9L630.4 255.7L631.1 255.8L631.6 256.2L632.2 256.9L632.7 257.9L633.2 259.1L633.7 260.4L634.1 261.8L634.6 263.3L634.9 264.8L635.3 266.2L635.6 267.6L635.9 269.0L636.2 270.4L636.5 271.7L636.7 272.9L636.9 274.2L637.2 275.4L637.3 276.6L637.5 277.7L637.7 278.9L637.8 280.0L638.0 281.1L638.1 282.2L638.2 283.3L638.3 284.4L638.4 285.5L638.5 286.6L638.6 287.7L638.7 288.8L638.8 289.9L639.0 291.0L639.1 292.1L639.2 293.2L639.3 294.4L639.4 295.5L639.5 296.7L639.6 297.8L639.7 299.0L639.8 300.1L639.9 301.3L640.0 302.5L640.2 303.7L640.3 304.9L640.4 306.1L640.5 307.3L640.6 308.5L640.7 309.7L640.9 310.9L641.0 312.1L641.1 313.4L641.2 314.6L641.3 315.8L641.5 317.0L641.6 318.2L641.7 319.5L641.8 320.7L641.9 321.9L642.0 323.1L642.1 324.4L642.3 325.6L642.4 326.8L642.5 328.0L642.6 329.2L642.7 330.4L642.8 331.7L642.9 332.9L643.0 334.1L643.1 335.3L643.2 336.5L643.3 337.7L643.4 338.9L643.6 340.1L643.7 341.3L643.8 342.5L643.9 343.7L644.0 344.9L644.1 346.1L644.2 347.3L644.3 348.5L644.4 349.7L644.5 350.9L644.6 352.1L644.7 353.3L644.8 354.5L644.8 355.7L644.9 356.9L645.0 358.1L645.1 359.3L645.2 360.5L645.3 361.7L645.4 362.9L645.5 364.1L645.6 365.3L645.7 366.5L645.8 367.7L645.9 368.8L646.0 370.0L646.1 371.2L646.1 372.4L646.2 373.6L646.3 374.8L646.4 376.0L646.5 377.2L646.6 378.4L646.7 379.6L646.8 380.7L646.9 381.9L646.9 383.1L647.0 384.3L647.1 385.5L647.2 386.7L647.3 387.9L647.4 389.1L647.5 390.2L647.5 391.4L647.6 392.6L647.7 393.8L647.8 395.0L647.9 396.2L648.0 397.4L648.1 398.6L648.1 399.8L648.2 400.9L648.3 402.1L648.4 403.3L648.5 404.5L648.6 405.7L648.6 406.9L648.7 408.1L648.8 409.3L648.9 410.5L649.0 411.7L649.0 412.9L649.1 414.1L649.2 415.3L649.3 416.5L649.4 417.6L649.5 418.8L649.5 420.0L649.6 421.2L649.7 422.4L649.8 423.6L649.9 424.8L650.0 426.0L650.0 427.2L650.1 428.4L650.2 429.6L650.3 430.9L650.4 432.1L650.5 433.3L650.5 434.5L650.6 435.7L650.7 436.9L650.8 438.1L650.9 439.3L651.0 440.5L651.0 441.7L651.1 442.9L651.2 444.1L651.3 445.4L651.4 446.6L651.5 447.8L651.5 449.0L651.6 450.2L651.7 451.4L651.8 452.6L651.9 453.8L651.9 455.1L652.0 456.3L652.1 457.5L652.2 458.7L652.3 459.9L652.4 461.1L652.4 462.3L652.5 463.5L652.6 464.7L652.7 466.0L652.8 467.2L652.8 468.4L652.9 469.6L653.0 470.8L653.1 472.0L653.2 473.2L653.2 474.4L653.3 475.6L653.4 476.8L653.5 478.0L653.6 479.2L653.6 480.4L653.7 481.6L653.8 482.8L653.9 484.0L653.9 485.2L654.0 486.4L654.1 487.6L654.2 488.8L654.2 490.0L654.3 491.2L654.4 492.4L654.4 493.6L654.5 494.8L654.6 496.0L654.7 497.2L654.7 498.3L654.8 499.5L654.9 500.7L654.9 501.9L655.0 503.1L655.1 504.2L655.1 505.4L655.2 506.6L655.3 507.8L655.3 508.9L655.4 510.1L655.4 511.2L655.5 512.4L655.6 513.6L655.6 514.7L655.7 515.9L655.8 517.0L655.8 518.2L655.9 519.3L655.9 520.5L656.0 521.6L656.1 522.8L656.1 523.9L656.2 525.1L656.3 526.2L656.3 527.4L656.4 528.6L656.5 529.7L656.6 530.9L656.8 532.1L656.9 533.3L657.0 534.5L657.2 535.7L657.3 537.0L657.5 538.2L657.7 539.5L657.9 540.8L658.1 542.0L658.4 543.3L658.6 544.7L658.9 546.0L659.2 547.4L659.5 548.7L659.9 550.1L660.2 551.2L660.6 552.1L660.9 552.7L661.3 552.8L661.6 552.5L662.0 551.8L662.3 550.8L662.6 549.5L662.9 548.0L663.2 546.4L663.4 544.7L663.7 543.0L663.9 541.3L664.1 539.7L664.4 538.2L664.5 536.7L664.7 535.3L664.9 533.9L665.0 532.5L665.1 531.2L665.3 530.0L665.4 528.8L665.5 527.6L665.6 526.4L665.6 525.3L665.7 524.2L665.8 523.1L665.8 522.1L665.9 521.0L666.0 520.0L666.0 519.0L666.0 518.0L666.1 516.9L666.1 515.9L666.2 514.9L666.2 513.9L666.2 512.8L666.3 511.8L666.3 510.7L666.4 509.7L666.4 508.6L666.5 507.5L666.5 506.4L666.6 505.2L666.6 504.1L666.7 503.0L666.8 501.8L666.8 500.6L666.9 499.5L666.9 498.3L667.0 497.1L667.1 495.9L667.1 494.7L667.2 493.5L667.3 492.3L667.3 491.0L667.4 489.8L667.5 488.6L667.6 487.3L667.6 486.1L667.7 484.9L667.8 483.6L667.8 482.4L667.9 481.1L668.0 479.9L668.1 478.6L668.1 477.3L668.2 476.1L668.3 474.8L668.3 473.6L668.4 472.3L668.5 471.1L668.6 469.8L668.6 468.6L668.7 467.4L668.8 466.1L668.8 464.9L668.9 463.7L669.0 462.4L669.0 461.2L669.1 460.0L669.2 458.8L669.2 457.6L669.3 456.4L669.4 455.2L669.4 454.0L669.5 452.8L669.6 451.6L669.6 450.4L669.7 449.2L669.7 448.0L669.8 446.8L669.9 445.6L669.9 444.4L670.0 443.2L670.0 442.0L670.1 440.8L670.2 439.6L670.2 438.4L670.3 437.3L670.3 436.1L670.4 434.9L670.4 433.7L670.5 432.5L670.5 431.3L670.6 430.1L670.6 429.0L670.7 427.8L670.8 426.6L670.8 425.4L670.9 424.2L670.9 423.0L671.0 421.8L671.0 420.6L671.1 419.4L671.1 418.3L671.2 417.1L671.2 415.9L671.3 414.7L671.3 413.5L671.4 412.3L671.4 411.1L671.5 409.9L671.5 408.7L671.5 407.5L671.6 406.3L671.6 405.1L671.7 403.9L671.7 402.7L671.8 401.5L671.8 400.3L671.9 399.1L671.9 397.9L672.0 396.7L672.0 395.5L672.1 394.3L672.1 393.1L672.2 391.9L672.2 390.7L672.3 389.5L672.3 388.3L672.4 387.1L672.4 385.9L672.5 384.7L672.5 383.5L672.6 382.3L672.6 381.1L672.6 379.9L672.7 378.7L672.7 377.5L672.8 376.3L672.8 375.1L672.9 373.9L672.9 372.7L673.0 371.5L673.0 370.3L673.1 369.0L673.2 367.8L673.2 366.6L673.3 365.4L673.3 364.2L673.4 363.0L673.4 361.8L673.5 360.6L673.5 359.4L673.6 358.2L673.6 357.0L673.7 355.8L673.8 354.6L673.8 353.4L673.9 352.2L673.9 351.0L674.0 349.8L674.0 348.6L674.1 347.4L674.2 346.2L674.2 345.0L674.3 343.8L674.4 342.6L674.4 341.4L674.5 340.2L674.6 339.0L674.6 337.8L674.7 336.6L674.8 335.4L674.8 334.2L674.9 333.0L675.0 331.8L675.0 330.6L675.1 329.4L675.2 328.2L675.3 327.0L675.3 325.8L675.4 324.6L675.5 323.4L675.6 322.2L675.6 321.0L675.7 319.8L675.8 318.6L675.9 317.4L676.0 316.2L676.0 315.0L676.1 313.8L676.2 312.6L676.3 311.4L676.4 310.2L676.5 309.0L676.6 307.9L676.7 306.7L676.7 305.5L676.8 304.3L676.9 303.1L677.0 301.9L677.1 300.7L677.2 299.5L677.3 298.3L677.4 297.1L677.5 295.9L677.6 294.7L677.7 293.6L677.7 292.4L677.8 291.2L677.9 290.0L678.0 288.8L678.1 287.6L678.2 286.4L678.3 285.2L678.3 284.0L678.4 282.8L678.5 281.6L678.6 280.4L678.7 279.2L678.7 278.0L678.8 276.8L678.9 275.6L679.0 274.4L679.1 273.2L679.2 272.0L679.4 270.8L679.6 269.6L679.9 268.4L680.2 267.2L680.6 266.0L681.1 264.8L681.6 263.6L682.2 262.5L682.9 261.7L683.5 261.4L684.0 261.8L684.5 262.8L684.9 264.1L685.3 265.6L685.6 267.3L685.9 268.9L686.1 270.4L686.4 271.9L686.6 273.2L686.8 274.6L687.0 275.8L687.1 277.1L687.3 278.2L687.4 279.4L687.5 280.5L687.6 281.5L687.7 282.6L687.8 283.6L687.9 284.6L687.9 285.6L688.0 286.6L688.1 287.6L688.2 288.6L688.3 289.6L688.3 290.7L688.4 291.7L688.5 292.7L688.6 293.8L688.7 294.9L688.9 296.1L689.0 297.2L689.2 298.4L689.3 299.6L689.5 300.9L689.7 302.2L689.9 303.6L690.1 305.0L690.4 306.5L690.7 308.0L690.9 309.5L691.3 311.1L691.6 312.4L691.9 313.6L692.2 314.5L692.6 315.0L692.9 315.0L693.2 314.6L693.5 313.8L693.8 312.7L694.1 311.4L694.4 309.9L694.6 308.3L694.8 306.6L695.1 305.0L695.3 303.4L695.5 301.9L695.6 300.4L695.8 299.0L695.9 297.7L696.0 296.4L696.2 295.1L696.3 293.9L696.4 292.8L696.4 291.6L696.5 290.5L696.6 289.4L696.7 288.3L696.7 287.2L696.8 286.2L696.8 285.1L696.9 284.0L696.9 283.0L697.0 281.9L697.0 280.8L697.1 279.7L697.2 278.6L697.2 277.4L697.3 276.3L697.3 275.2L697.4 274.0L697.5 272.8L697.5 271.7L697.6 270.5L697.7 269.3L697.7 268.1L697.8 266.9L697.9 265.7L697.9 264.5L698.0 263.3L698.1 262.1L698.1 260.8L698.2 259.6L698.3 258.4L698.3 257.2L698.4 255.9L698.5 254.7L698.6 253.5L698.6 252.2L698.7 251.0L698.8 249.8L698.9 248.6L698.9 247.3L699.0 246.1L699.1 244.9L699.2 243.7L699.2 242.5L699.3 241.3L699.4 240.1L699.5 238.8L699.5 237.6L699.6 236.4L699.7 235.2L699.8 234.0L699.8 232.8L699.9 231.6L700.0 230.5L700.1 229.3L700.1 228.1L700.2 226.9L700.3 225.7L700.4 224.5L700.4 223.3L700.5 222.1L700.6 220.9L700.7 219.8L700.7 218.6L700.8 217.4L700.9 216.2L701.0 215.0L701.0 213.8L701.1 212.6L701.2 211.4L701.3 210.3L701.3 209.1L701.4 207.9L701.5 206.7L701.5 205.5L701.6 204.3L701.7 203.1L701.8 201.9L701.8 200.7L701.9 199.5L702.0 198.3L702.0 197.1L702.1 196.0L702.2 194.8L702.2 193.6L702.3 192.4L702.4 191.2L702.4 190.0L702.5 188.8L702.6 187.6L702.6 186.4L702.7 185.2L702.8 183.9L702.9 182.7L702.9 181.5L703.0 180.3L703.1 179.1L703.1 177.9L703.2 176.7L703.3 175.5L703.4 174.3L703.4 173.1L703.5 171.9L703.6 170.7L703.6 169.5L703.7 168.3L703.8 167.1L703.9 165.9L704.0 164.7L704.0 163.5L704.1 162.3L704.2 161.1L704.3 159.9L704.4 158.7L704.4 157.5L704.5 156.3L704.6 155.1L704.7 153.9L704.8 152.6L704.9 151.4L705.0 150.2L705.1 149.0L705.1 147.8L705.2 146.6L705.3 145.4L705.4 144.2L705.5 143.1L705.6 141.9L705.7 140.7L705.8 139.5L705.9 138.3L706.0 137.1L706.2 135.9L706.3 134.7L706.4 133.5L706.5 132.3L706.6 131.1L706.7 129.9L706.8 128.7L707.0 127.6L707.1 126.4L707.2 125.2L707.3 124.0L707.5 122.8L707.6 121.6L707.7 120.4L707.9 119.3L708.0 118.1L708.1 116.9L708.3 115.7L708.4 114.5L708.6 113.3L708.7 112.2L708.9 111.0L709.0 109.8L709.2 108.6L709.3 107.4L709.5 106.2L709.6 105.1L709.8 103.9L710.0 102.7L710.1 101.5L710.3 100.3L710.5 99.1L710.6 97.9L710.8 96.7L711.0 95.6L711.2 94.4L711.3 93.2L711.5 92.0L711.7 90.8L711.9 89.6L712.1 88.4L712.3 87.2L712.5 86.0L712.7 84.8L712.9 83.6L713.1 82.4L713.3 81.1L713.5 79.9L713.8 78.7L714.0 77.5L714.2 76.3L714.5 75.1L714.8 74.0L715.1 72.8L715.4 71.6L715.7 70.5L716.1 69.3L716.5 68.2L716.9 67.1L717.3 66.0L717.8 64.9L718.3 63.9L718.8 62.8L719.4 61.8L720.0 60.8L720.6 59.8L721.3 58.9L722.1 58.0L722.8 57.1L723.7 56.2L724.5 55.4L725.4 54.6L726.3 53.7L727.3 52.9L728.2 52.1L729.2 51.2L730.2 50.4L731.2 49.8L732.2 49.7L733.2 50.0L734.1 50.6L734.9 51.4L735.6 52.4L736.2 53.4L736.7 54.5L737.1 55.7L737.5 56.9L737.8 58.2L738.1 59.4L738.4 60.6L738.6 61.8L738.8 63.0L739.1 64.1L739.3 65.3L739.4 66.4L739.6 67.6L739.8 68.8L740.0 69.9L740.2 71.1L740.3 72.3L740.5 73.5L740.7 74.6L740.8 75.8L741.0 77.0L741.2 78.2L741.3 79.4L741.5 80.6L741.6 81.8L741.8 83.0L741.9 84.2L742.0 85.4L742.2 86.6L742.3 87.8L742.5 89.0L742.6 90.2L742.7 91.4L742.8 92.6L743.0 93.8L743.1 95.0L743.2 96.2L743.3 97.4L743.4 98.6L743.5 99.8L743.6 101.0L743.7 102.2L743.8 103.4L743.9 104.6L744.0 105.8L744.1 107.0L744.2 108.2L744.3 109.4L744.4 110.6L744.5 111.8L744.6 112.9L744.7 114.1L744.8 115.3L744.9 116.5L744.9 117.7L745.0 118.9L745.1 120.1L745.2 121.3L745.3 122.5L745.4 123.7L745.4 124.8L745.5 126.0L745.6 127.2L745.7 128.4L745.8 129.6L745.8 130.8L745.9 132.0L746.0 133.2L746.1 134.4L746.2 135.6L746.2 136.8L746.3 138.0L746.4 139.2L746.5 140.4L746.6 141.6L746.7 142.8L746.7 144.0L746.8 145.2L746.9 146.4L747.0 147.6L747.1 148.8L747.2 150.1L747.3 151.3L747.4 152.5L747.5 153.7L747.6 155.0L747.7 156.2L747.8 157.4L747.9 158.6L748.0 159.9L748.1 161.1L748.2 162.3L748.4 163.5L748.5 164.7L748.6 165.8L748.7 167.0L748.8 168.1L748.9 169.2L749.0 170.3L749.1 171.4L749.2 172.5L749.3 173.5L749.4 174.6L749.5 175.7L749.6 176.8L749.7 177.9L749.8 179.1L749.9 180.3L750.0 181.6L750.2 183.0L750.3 184.4L750.4 185.9L750.6 187.5L750.8 189.1L751.0 190.5L751.3 191.6L751.7 192.2L752.3 192.2L752.9 191.6L753.5 190.7L753.9 189.6L754.2 188.5L754.4 187.3L754.5 186.0L754.5 184.7L754.5 183.4L754.5 182.0L754.5 180.7L754.5 179.5L754.6 178.2L754.6 177.0L754.7 175.7L754.8 174.5L754.9 173.4L755.0 172.2L755.1 171.0L755.2 169.9L755.3 168.7L755.4 167.6L755.5 166.4L755.7 165.2L755.8 164.1L755.9 162.9L756.0 161.7L756.1 160.5L756.2 159.4L756.3 158.2L756.4 157.0L756.5 155.8L756.6 154.6L756.7 153.4L756.7 152.1L756.8 150.9L756.9 149.7L757.0 148.5L757.1 147.3L757.1 146.1L757.2 144.9L757.3 143.7L757.4 142.5L757.5 141.3L757.5 140.1L757.6 138.9L757.7 137.7L757.8 136.5L757.9 135.3L758.0 134.1L758.1 132.9L758.2 131.7L758.3 130.5L758.4 129.3L758.5 128.1L758.6 126.9L758.8 125.8L758.9 124.6L759.1 123.4L759.2 122.2L759.4 121.0L759.6 119.8L759.8 118.6L760.0 117.4L760.1 116.2L760.3 115.0L760.4 113.9L760.5 112.7L760.6 111.6L760.7 110.4L760.9 109.3L761.0 108.1L761.3 106.8L761.7 105.6L762.2 104.2L762.8 102.9L763.5 101.7L764.1 100.9L764.8 100.6L765.3 100.9L765.7 101.7L766.1 102.8L766.5 104.0L766.8 105.3L767.2 106.5L767.5 107.7L767.8 108.9L768.1 110.1L768.4 111.3L768.6 112.5L768.9 113.7L769.1 114.9L769.4 116.1L769.6 117.3L769.8 118.5L770.0 119.7L770.2 120.9L770.4 122.1L770.5 123.3L770.7 124.5L770.9 125.7L771.0 126.9L771.2 128.0L771.3 129.2L771.4 130.4L771.6 131.6L771.7 132.8L771.8 134.0L771.9 135.2L772.0 136.4L772.1 137.5L772.2 138.7L772.3 139.9L772.5 141.1L772.6 142.3L772.7 143.5L772.8 144.7L772.9 145.9L773.0 147.1L773.1 148.2L773.2 149.4L773.3 150.6L773.4 151.8L773.5 153.0L773.6 154.2L773.7 155.4L773.8 156.6L773.9 157.8L774.0 159.0L774.1 160.2L774.2 161.4L774.2 162.6L774.3 163.8L774.4 165.0L774.5 166.2L774.6 167.4L774.7 168.6L774.8 169.8L774.9 171.0L775.0 172.2L775.1 173.4L775.2 174.6L775.3 175.8L775.4 177.0L775.5 178.2L775.6 179.4L775.7 180.6L775.8 181.8L775.9 183.0L776.0 184.2L776.1 185.4L776.2 186.6L776.3 187.8L776.4 188.9L776.5 190.1L776.6 191.3L776.7 192.5L776.8 193.7L776.9 194.9L777.0 196.1L777.1 197.3L777.2 198.5L777.3 199.7L777.4 200.9L777.5 202.1L777.6 203.3L777.7 204.5L777.8 205.7L777.9 206.9L777.9 208.1L778.0 209.3L778.1 210.5L778.2 211.7L778.3 212.9L778.4 214.1L778.5 215.3L778.6 216.5L778.7 217.7L778.8 218.9L778.9 220.1L779.0 221.3L779.1 222.5L779.2 223.7L779.3 224.9L779.4 226.1L779.5 227.3L779.6 228.5L779.7 229.7L779.8 230.9L779.9 232.1L780.0 233.2L780.1 234.4L780.2 235.6L780.3 236.8L780.4 238.0L780.5 239.2L780.6 240.4L780.7 241.6L780.8 242.8L780.9 244.0L781.0 245.2L781.1 246.4L781.2 247.6L781.4 248.8L781.5 250.0L781.6 251.2L781.7 252.4L781.8 253.6L781.9 254.8L782.0 256.0L782.1 257.2L782.2 258.3L782.3 259.5L782.4 260.7L782.5 261.9L782.6 263.1L782.7 264.3L782.9 265.5L783.0 266.7L783.1 267.9L783.2 269.1L783.3 270.3L783.4 271.5L783.5 272.7L783.6 273.9L783.7 275.1L783.9 276.3L784.0 277.5L784.1 278.7L784.2 279.9L784.3 281.0L784.4 282.2L784.6 283.4L784.7 284.6L784.8 285.8L784.9 287.0L785.0 288.2L785.2 289.4L785.3 290.6L785.4 291.8L785.5 293.0L785.6 294.2L785.8 295.4L785.9 296.6L786.0 297.8L786.1 299.0L786.3 300.2L786.4 301.3L786.5 302.5L786.7 303.7L786.8 304.9L786.9 306.1L787.0 307.3L787.2 308.5L787.3 309.7L787.4 310.9L787.6 312.1L787.7 313.3L787.8 314.5L788.0 315.7L788.1 316.9L788.2 318.1L788.4 319.3L788.5 320.4L788.7 321.6L788.8 322.8L788.9 324.0L789.1 325.2L789.2 326.4L789.4 327.6L789.5 328.8L789.6 330.0L789.8 331.2L789.9 332.4L790.1 333.6L790.2 334.8L790.4 336.0L790.5 337.1L790.6 338.3L790.8 339.5L790.9 340.7L791.1 341.9L791.2 343.1L791.4 344.3L791.5 345.5L791.7 346.7L791.8 347.9L792.0 349.1L792.1 350.3L792.3 351.5L792.4 352.6L792.6 353.8L792.7 355.0L792.9 356.2L793.1 357.4L793.2 358.6L793.4 359.8L793.5 361.0L793.7 362.2L793.8 363.4L794.0 364.5L794.2 365.7L794.3 366.9L794.5 368.1L794.6 369.3L794.8 370.5L795.0 371.7L795.1 372.9L795.3 374.1L795.5 375.3L795.6 376.4L795.8 377.6L795.9 378.8L796.1 380.0L796.3 381.2L796.4 382.4L796.6 383.6L796.8 384.8L796.9 385.9L797.1 387.1L797.3 388.3L797.4 389.5L797.6 390.7L797.8 391.9L798.0 393.1L798.1 394.2L798.3 395.4L798.5 396.6L798.7 397.8L798.9 399.0L799.2 400.2L799.4 401.3L799.7 402.5L799.9 403.7L800.2 404.9L800.5 406.0L800.9 407.2L801.2 408.4L801.6 409.5L802.1 410.7L802.5 411.8L803.1 412.8L803.8 413.8L804.6 414.7L805.5 415.4L806.5 416.1L807.6 416.7L808.6 417.4L809.5 418.2L810.2 419.1L810.7 420.1L811.2 421.2L811.6 422.4L811.8 423.6L812.1 424.9L812.2 426.1L812.4 427.4L812.5 428.7L812.6 430.0L812.7 431.2L812.9 432.4L813.1 433.5L813.3 434.6L813.5 435.7L813.7 436.8L813.9 437.9L814.2 439.0L814.4 440.1L814.7 441.2L815.0 442.4L815.3 443.5L815.6 444.7L815.9 445.9L816.3 447.2L816.6 448.5L816.9 449.8L817.3 451.2L817.6 452.7L818.0 454.1L818.4 455.5L818.8 456.9L819.3 458.1L819.8 459.3L820.3 460.3L820.9 461.1L821.5 461.7L822.2 462.1L822.9 462.2L823.7 462.1L824.3 461.7L825.0 461.0L825.5 460.1L825.9 458.9L826.1 457.4L826.1 455.7L825.9 453.6L825.8 451.8L826.3 450.7L827.9 450.9" fill="none" stroke="#F09C6A" stroke-width="1.25" stroke-linejoin="round"/>
<path d="M91.2 599.6L92.2 599.5L93.4 599.5L94.6 599.5L95.7 599.4L96.9 599.4L98.1 599.4L99.3 599.5L100.5 599.5L101.7 599.5L102.9 599.6L104.1 599.6L105.3 599.7L106.5 599.7L107.7 599.8L108.9 599.9L110.1 599.9L111.4 600.0L112.6 600.1L113.8 600.1L115.0 600.2L116.2 600.2L117.4 600.2L118.6 600.3L119.8 600.3L121.0 600.3L122.3 600.3L123.5 600.3L124.7 600.2L125.9 600.2L127.1 600.1L128.3 600.0L129.5 599.9L130.7 599.8L131.9 599.7L133.1 599.5L134.3 599.3L135.4 599.1L136.6 598.8L137.8 598.5L139.0 598.2L140.1 597.9L141.3 597.5L142.4 597.1L143.6 596.7L144.7 596.3L145.8 595.8L146.9 595.3L148.0 594.8L149.1 594.3L150.1 593.7L151.1 593.1L152.1 592.4L153.1 591.8L154.1 591.1L155.1 590.4L156.0 589.6L156.9 588.8L157.8 588.0L158.6 587.2L159.4 586.3L160.2 585.5L161.0 584.5L161.7 583.6L162.4 582.6L163.1 581.6L163.7 580.6L164.3 579.6L164.9 578.5L165.4 577.4L166.0 576.3L166.5 575.2L167.0 574.1L167.5 573.0L167.9 571.8L168.4 570.7L168.8 569.5L169.2 568.4L169.7 567.2L170.0 566.1L170.4 564.9L170.8 563.8L171.2 562.6L171.5 561.5L171.9 560.3L172.2 559.2L172.5 558.0L172.9 556.8L173.2 555.7L173.5 554.5L173.7 553.4L174.0 552.2L174.3 551.0L174.6 549.8L174.8 548.7L175.1 547.5L175.3 546.3L175.5 545.2L175.8 544.0L176.0 542.8L176.2 541.6L176.4 540.5L176.6 539.3L176.8 538.1L177.0 536.9L177.2 535.7L177.4 534.6L177.6 533.4L177.7 532.2L177.9 531.0L178.1 529.8L178.3 528.6L178.4 527.5L178.6 526.3L178.7 525.1L178.9 523.9L179.1 522.7L179.2 521.5L179.4 520.3L179.5 519.1L179.7 518.0L179.8 516.8L180.0 515.6L180.1 514.4L180.3 513.2L180.4 512.0L180.6 510.8L180.7 509.6L180.9 508.4L181.1 507.2L181.2 506.0L181.4 504.9L181.5 503.7L181.7 502.5L181.8 501.3L182.0 500.1L182.1 498.9L182.3 497.7L182.4 496.5L182.6 495.3L182.7 494.1L182.9 492.9L183.0 491.7L183.1 490.5L183.3 489.4L183.4 488.2L183.6 487.0L183.7 485.8L183.8 484.6L184.0 483.4L184.1 482.2L184.3 481.0L184.4 479.8L184.5 478.6L184.6 477.4L184.8 476.2L184.9 475.0L185.0 473.8L185.2 472.6L185.3 471.4L185.4 470.2L185.5 469.0L185.6 467.8L185.7 466.6L185.9 465.5L186.0 464.3L186.1 463.1L186.2 461.9L186.3 460.7L186.4 459.5L186.5 458.3L186.6 457.1L186.7 455.9L186.8 454.7L186.9 453.5L187.0 452.3L187.1 451.1L187.2 449.9L187.3 448.7L187.4 447.5L187.5 446.3L187.6 445.1L187.7 443.9L187.8 442.7L187.9 441.5L188.0 440.3L188.1 439.1L188.2 437.9L188.3 436.7L188.3 435.5L188.4 434.3L188.5 433.1L188.6 431.9L188.7 430.7L188.8 429.5L188.9 428.3L188.9 427.1L189.0 425.9L189.1 424.7L189.2 423.5L189.3 422.4L189.3 421.2L189.4 420.0L189.5 418.8L189.6 417.6L189.7 416.4L189.7 415.2L189.8 414.0L189.9 412.8L190.0 411.6L190.0 410.4L190.1 409.2L190.2 408.0L190.3 406.8L190.3 405.6L190.4 404.4L190.5 403.2L190.6 402.0L190.6 400.8L190.7 399.6L190.8 398.4L190.8 397.2L190.9 396.0L191.0 394.8L191.1 393.6L191.1 392.4L191.2 391.2L191.3 390.0L191.4 388.8L191.4 387.6L191.5 386.4L191.6 385.2L191.7 384.0L191.7 382.8L191.8 381.6L191.9 380.4L192.0 379.2L192.0 378.0L192.1 376.8L192.2 375.6L192.3 374.4L192.3 373.2L192.4 372.0L192.5 370.8L192.6 369.6L192.7 368.4L192.7 367.2L192.8 366.0L192.9 364.8L193.0 363.6L193.1 362.4L193.1 361.2L193.2 360.0L193.3 358.8L193.4 357.7L193.5 356.5L193.6 355.3L193.6 354.1L193.7 352.9L193.8 351.7L193.9 350.5L194.0 349.3L194.1 348.1L194.2 346.9L194.3 345.7L194.4 344.5L194.5 343.3L194.5 342.1L194.6 340.9L194.7 339.7L194.8 338.5L194.9 337.3L195.0 336.1L195.1 334.9L195.2 333.7L195.3 332.5L195.4 331.3L195.5 330.1L195.6 328.9L195.8 327.7L195.9 326.5L196.0 325.3L196.1 324.2L196.2 323.0L196.3 321.8L196.4 320.6L196.5 319.4L196.6 318.2L196.8 317.0L196.9 315.8L197.0 314.6L197.1 313.4L197.2 312.2L197.3 311.0L197.5 309.8L197.6 308.6L197.7 307.4L197.8 306.2L198.0 305.0L198.1 303.8L198.2 302.7L198.4 301.5L198.5 300.3L198.6 299.1L198.8 297.9L198.9 296.7L199.0 295.5L199.2 294.3L199.3 293.1L199.5 291.9L199.6 290.7L199.8 289.5L199.9 288.3L200.1 287.2L200.2 286.0L200.4 284.8L200.5 283.6L200.7 282.4L200.8 281.2L201.0 280.0L201.1 278.8L201.3 277.6L201.5 276.4L201.6 275.2L201.8 274.0L202.0 272.9L202.1 271.7L202.3 270.5L202.5 269.3L202.6 268.1L202.8 266.9L203.0 265.7L203.2 264.5L203.4 263.3L203.5 262.1L203.7 261.0L203.9 259.8L204.1 258.6L204.3 257.4L204.5 256.2L204.7 255.0L204.9 253.8L205.1 252.6L205.3 251.5L205.5 250.3L205.7 249.1L205.9 247.9L206.1 246.7L206.3 245.5L206.6 244.4L206.8 243.2L207.0 242.0L207.2 240.8L207.5 239.6L207.7 238.5L208.0 237.3L208.2 236.1L208.5 234.9L208.7 233.8L209.0 232.6L209.2 231.4L209.5 230.2L209.8 229.1L210.1 227.9L210.4 226.7L210.6 225.6L210.9 224.4L211.2 223.3L211.6 222.1L211.9 221.0L212.2 219.8L212.5 218.6L212.8 217.5L213.2 216.3L213.5 215.2L213.9 214.1L214.2 212.9L214.6 211.8L215.0 210.6L215.4 209.5L215.7 208.4L216.1 207.2L216.5 206.1L216.9 205.0L217.4 203.9L217.8 202.7L218.2 201.6L218.6 200.5L219.1 199.4L219.5 198.3L220.0 197.2L220.5 196.1L221.0 195.0L221.5 193.9L222.0 192.8L222.5 191.7L223.0 190.6L223.5 189.5L224.1 188.5L224.6 187.4L225.2 186.3L225.8 185.3L226.4 184.2L227.0 183.2L227.7 182.2L228.3 181.1L229.0 180.1L229.7 179.1L230.4 178.1L231.1 177.1L231.9 176.2L232.7 175.2L233.5 174.3L234.4 173.6L235.3 172.9L236.3 172.4L237.4 172.1L238.6 171.8L239.8 171.7L241.0 171.6L242.2 171.6L243.5 171.5L244.7 171.5L246.0 171.4L247.2 171.3L248.4 171.1L249.6 171.0L250.7 170.9L251.9 170.8L253.1 170.7L254.2 170.7L255.4 170.9L256.6 171.1L257.8 171.5L259.0 171.9L260.0 172.5L261.0 173.1L261.9 173.8L262.8 174.5L263.6 175.4L264.3 176.3L265.0 177.2L265.6 178.2L266.2 179.2L266.7 180.3L267.3 181.4L267.7 182.5L268.2 183.6L268.6 184.8L269.0 186.0L269.4 187.1L269.8 188.3L270.1 189.5L270.5 190.7L270.8 191.9L271.2 193.0L271.5 194.2L271.8 195.4L272.2 196.5L272.5 197.7L272.8 198.9L273.1 200.1L273.4 201.2L273.6 202.4L273.9 203.6L274.2 204.7L274.4 205.9L274.7 207.1L274.9 208.2L275.2 209.4L275.4 210.6L275.6 211.7L275.8 212.9L276.1 214.1L276.3 215.2L276.5 216.4L276.7 217.6L276.9 218.8L277.1 219.9L277.2 221.1L277.4 222.3L277.6 223.5L277.8 224.7L277.9 225.8L278.1 227.0L278.3 228.2L278.4 229.4L278.6 230.6L278.7 231.8L278.9 233.0L279.0 234.2L279.1 235.4L279.3 236.5L279.4 237.7L279.5 238.9L279.7 240.1L279.8 241.3L279.9 242.5L280.1 243.7L280.2 244.9L280.3 246.1L280.4 247.3L280.6 248.5L280.7 249.7L280.8 250.9L280.9 252.1L281.0 253.3L281.2 254.5L281.3 255.7L281.4 256.9L281.5 258.1L281.6 259.3L281.8 260.5L281.9 261.7L282.0 262.9L282.1 264.1L282.2 265.3L282.4 266.5L282.5 267.7L282.6 268.9L282.7 270.1L282.8 271.3L282.9 272.5L283.1 273.7L283.2 274.9L283.3 276.1L283.4 277.3L283.5 278.5L283.6 279.7L283.8 280.8L283.9 282.0L284.0 283.2L284.1 284.4L284.2 285.6L284.3 286.8L284.4 288.0L284.6 289.2L284.7 290.4L284.8 291.6L284.9 292.8L285.0 294.0L285.1 295.2L285.2 296.4L285.4 297.6L285.5 298.8L285.6 300.0L285.7 301.2L285.8 302.4L285.9 303.6L286.0 304.8L286.1 305.9L286.3 307.1L286.4 308.3L286.5 309.5L286.6 310.7L286.7 311.9L286.8 313.1L286.9 314.3L287.0 315.5L287.2 316.7L287.3 317.9L287.4 319.1L287.5 320.3L287.6 321.5L287.7 322.7L287.8 323.9L287.9 325.1L288.0 326.3L288.2 327.4L288.3 328.6L288.4 329.8L288.5 331.0L288.6 332.2L288.7 333.4L288.8 334.6L288.9 335.8L289.0 337.0L289.1 338.2L289.3 339.4L289.4 340.6L289.5 341.8L289.6 343.0L289.7 344.2L289.8 345.4L289.9 346.5L290.0 347.7L290.1 348.9L290.3 350.1L290.4 351.3L290.5 352.5L290.6 353.7L290.7 354.9L290.8 356.1L290.9 357.3L291.0 358.5L291.1 359.7L291.3 360.9L291.4 362.1L291.5 363.3L291.6 364.5L291.7 365.7L291.8 366.8L291.9 368.0L292.0 369.2L292.1 370.4L292.3 371.6L292.4 372.8L292.5 374.0L292.6 375.2L292.7 376.4L292.8 377.6L292.9 378.8L293.0 380.0L293.2 381.2L293.3 382.4L293.4 383.6L293.5 384.8L293.6 386.0L293.7 387.2L293.8 388.3L294.0 389.5L294.1 390.7L294.2 391.9L294.3 393.1L294.4 394.3L294.5 395.5L294.6 396.7L294.8 397.9L294.9 399.1L295.0 400.3L295.1 401.5L295.2 402.7L295.3 403.9L295.4 405.1L295.6 406.3L295.7 407.5L295.8 408.7L295.9 409.9L296.0 411.1L296.1 412.3L296.3 413.5L296.4 414.7L296.5 415.9L296.6 417.1L296.7 418.2L296.9 419.4L297.0 420.6L297.1 421.8L297.2 423.0L297.3 424.2L297.5 425.4L297.6 426.6L297.7 427.8L297.8 429.0L297.9 430.2L298.1 431.4L298.2 432.6L298.3 433.8L298.4 435.0L298.6 436.2L298.7 437.4L298.8 438.6L298.9 439.8L299.0 441.0L299.2 442.2L299.3 443.4L299.4 444.6L299.6 445.8L299.7 447.0L299.8 448.2L299.9 449.4L300.1 450.6L300.2 451.8L300.3 453.0L300.5 454.2L300.6 455.4L300.7 456.6L300.9 457.8L301.0 458.9L301.2 460.1L301.3 461.3L301.5 462.5L301.6 463.7L301.7 464.9L301.9 466.1L302.0 467.3L302.2 468.5L302.4 469.6L302.5 470.8L302.7 472.0L302.8 473.2L303.0 474.4L303.2 475.6L303.3 476.7L303.5 477.9L303.7 479.1L303.8 480.3L304.0 481.4L304.2 482.6L304.4 483.8L304.5 485.0L304.7 486.1L304.9 487.3L305.1 488.5L305.3 489.6L305.5 490.8L305.7 491.9L305.9 493.1L306.1 494.3L306.3 495.4L306.5 496.6L306.8 497.8L307.0 499.0L307.3 500.2L307.7 501.5L308.1 502.8L308.5 504.1L309.0 505.5L309.6 506.6L310.1 507.4L310.7 507.6L311.2 507.1L311.6 506.1L312.0 504.8L312.4 503.3L312.8 501.7L313.1 500.3L313.4 499.0L313.6 497.7L313.8 496.4L314.0 495.3L314.2 494.1L314.4 493.0L314.5 491.9L314.7 490.9L314.8 489.8L315.0 488.7L315.1 487.6L315.3 486.5L315.4 485.4L315.6 484.2L315.7 483.0L315.8 481.9L316.0 480.7L316.1 479.5L316.3 478.3L316.4 477.1L316.6 475.9L316.7 474.7L316.9 473.5L317.0 472.3L317.1 471.0L317.3 469.8L317.4 468.6L317.5 467.4L317.7 466.2L317.8 465.0L317.9 463.8L318.0 462.6L318.1 461.4L318.3 460.2L318.4 459.0L318.5 457.8L318.6 456.6L318.7 455.4L318.8 454.2L318.9 453.0L319.0 451.8L319.1 450.6L319.2 449.4L319.3 448.2L319.4 447.0L319.5 445.8L319.6 444.6L319.7 443.4L319.7 442.2L319.8 441.0L319.9 439.8L320.0 438.6L320.1 437.4L320.2 436.2L320.2 435.0L320.3 433.8L320.4 432.6L320.5 431.4L320.6 430.2L320.6 429.0L320.7 427.8L320.8 426.6L320.8 425.4L320.9 424.2L321.0 423.0L321.1 421.8L321.1 420.7L321.2 419.5L321.3 418.3L321.3 417.1L321.4 415.9L321.5 414.7L321.5 413.5L321.6 412.3L321.6 411.1L321.7 409.9L321.8 408.7L321.8 407.5L321.9 406.3L322.0 405.1L322.0 403.9L322.1 402.7L322.2 401.5L322.2 400.3L322.3 399.1L322.3 397.9L322.4 396.7L322.5 395.5L322.5 394.3L322.6 393.1L322.7 392.0L322.7 390.8L322.8 389.6L322.9 388.4L322.9 387.2L323.0 386.0L323.1 384.8L323.1 383.6L323.2 382.4L323.3 381.2L323.3 380.0L323.4 378.8L323.5 377.6L323.6 376.4L323.6 375.2L323.7 374.0L323.8 372.8L323.8 371.6L323.9 370.4L324.0 369.2L324.1 368.0L324.2 366.8L324.2 365.6L324.3 364.4L324.4 363.2L324.5 362.0L324.6 360.8L324.6 359.6L324.7 358.4L324.8 357.2L324.9 356.0L325.0 354.8L325.1 353.6L325.2 352.4L325.3 351.2L325.3 350.0L325.4 348.8L325.5 347.6L325.6 346.4L325.7 345.2L325.8 344.0L325.9 342.8L326.0 341.6L326.1 340.4L326.2 339.2L326.3 338.0L326.5 336.8L326.6 335.6L326.7 334.4L326.8 333.2L326.9 332.0L327.0 330.8L327.1 329.6L327.3 328.4L327.4 327.2L327.5 326.0L327.6 324.8L327.8 323.6L327.9 322.4L328.0 321.2L328.2 320.0L328.3 318.9L328.4 317.7L328.6 316.5L328.7 315.3L328.8 314.1L329.0 312.9L329.1 311.7L329.2 310.5L329.4 309.3L329.5 308.1L329.6 306.9L329.8 305.8L329.9 304.6L330.0 303.4L330.2 302.2L330.3 301.0L330.4 299.8L330.6 298.7L330.7 297.5L330.8 296.3L330.9 295.1L331.1 294.0L331.2 292.8L331.4 291.6L331.6 290.4L331.9 289.2L332.3 288.0L332.8 286.8L333.4 285.6L334.1 284.4L334.9 283.5L335.7 283.1L336.5 283.4L337.3 284.2L338.0 285.2L338.7 286.4L339.3 287.5L339.8 288.6L340.2 289.8L340.7 291.0L341.0 292.1L341.4 293.3L341.7 294.5L342.0 295.7L342.2 296.9L342.5 298.1L342.7 299.2L342.9 300.4L343.2 301.6L343.4 302.7L343.6 303.9L343.9 305.0L344.2 306.1L344.5 307.2L344.9 308.2L345.2 309.3L345.6 310.4L346.0 311.5L346.4 312.7L346.8 313.9L347.2 315.1L347.6 316.5L348.1 317.8L348.5 319.2L349.0 320.5L349.5 321.6L350.0 322.6L350.7 323.3L351.4 323.7L352.2 323.8L353.1 323.5L354.0 322.9L355.1 322.0L356.1 321.0L357.2 319.9L358.2 319.1L359.1 319.1L359.8 319.7L360.4 320.7L361.0 321.8L361.5 322.9L362.0 324.0L362.5 325.2L362.9 326.3L363.3 327.4L363.7 328.6L364.0 329.7L364.4 330.9L364.7 332.1L365.0 333.2L365.3 334.4L365.5 335.6L365.8 336.8L366.0 338.0L366.3 339.1L366.5 340.3L366.7 341.5L366.9 342.7L367.1 343.9L367.3 345.1L367.6 346.3L367.8 347.5L368.0 348.6L368.2 349.8L368.4 351.0L368.7 352.2L368.9 353.4L369.2 354.5L369.4 355.7L369.7 356.9L369.9 358.0L370.2 359.2L370.5 360.4L370.8 361.5L371.0 362.7L371.3 363.9L371.6 365.0L371.9 366.2L372.2 367.3L372.5 368.5L372.8 369.6L373.1 370.8L373.4 371.9L373.7 373.1L374.0 374.3L374.3 375.4L374.6 376.6L374.9 377.7L375.2 378.9L375.6 380.0L375.9 381.2L376.2 382.3L376.5 383.5L376.8 384.6L377.2 385.8L377.5 386.9L377.8 388.1L378.1 389.2L378.5 390.4L378.8 391.5L379.1 392.7L379.4 393.8L379.8 395.0L380.1 396.1L380.4 397.3L380.7 398.5L381.1 399.6L381.4 400.8L381.7 401.9L382.0 403.1L382.4 404.3L382.7 405.4L383.0 406.6L383.3 407.8L383.6 408.9L384.0 410.1L384.3 411.3L384.6 412.4L384.9 413.6L385.3 414.7L385.6 415.9L385.9 417.1L386.2 418.2L386.6 419.4L386.9 420.6L387.3 421.7L387.6 422.9L387.9 424.0L388.3 425.2L388.6 426.4L389.0 427.5L389.3 428.7L389.7 429.8L390.0 431.0L390.4 432.1L390.8 433.3L391.2 434.4L391.5 435.6L391.9 436.7L392.3 437.8L392.7 439.0L393.1 440.1L393.5 441.3L393.9 442.4L394.3 443.5L394.7 444.6L395.1 445.8L395.6 446.9L396.0 448.0L396.4 449.1L396.9 450.2L397.3 451.3L397.8 452.4L398.2 453.5L398.7 454.6L399.2 455.7L399.7 456.8L400.2 457.9L400.7 459.0L401.2 460.1L401.7 461.2L402.2 462.2L402.8 463.3L403.3 464.4L403.8 465.4L404.4 466.5L405.0 467.5L405.5 468.6L406.1 469.6L406.7 470.6L407.3 471.7L407.9 472.7L408.6 473.7L409.2 474.7L409.8 475.7L410.5 476.7L411.2 477.7L411.8 478.7L412.5 479.7L413.2 480.7L413.9 481.7L414.6 482.6L415.3 483.6L416.0 484.6L416.7 485.5L417.5 486.5L418.2 487.4L419.0 488.4L419.7 489.3L420.5 490.2L421.3 491.1L422.1 492.1L422.8 493.0L423.6 493.9L424.4 494.8L425.3 495.7L426.1 496.6L426.9 497.5L427.7 498.3L428.5 499.2L429.4 500.1L430.2 500.9L431.1 501.8L431.9 502.6L432.8 503.5L433.7 504.3L434.5 505.1L435.4 506.0L436.3 506.8L437.2 507.6L438.1 508.4L439.0 509.2L439.9 510.0L440.8 510.8L441.7 511.6L442.6 512.4L443.5 513.2L444.4 513.9L445.4 514.7L446.3 515.5L447.2 516.2L448.2 517.0L449.1 517.7L450.1 518.5L451.0 519.2L452.0 519.9L452.9 520.7L453.9 521.4L454.8 522.1L455.8 522.8L456.8 523.5L457.7 524.2L458.7 524.9L459.7 525.6L460.7 526.3L461.6 527.0L462.6 527.7L463.6 528.3L464.6 529.0L465.6 529.7L466.6 530.3L467.6 531.0L468.6 531.7L469.6 532.3L470.6 532.9L471.6 533.6L472.7 534.2L473.7 534.9L474.7 535.5L475.7 536.1L476.7 536.8L477.8 537.4L478.8 538.0L479.8 538.6L480.9 539.2L481.9 539.8L482.9 540.4L484.0 541.0L485.0 541.6L486.0 542.2L487.1 542.8L488.1 543.4L489.2 544.0L490.2 544.5L491.3 545.1L492.3 545.7L493.4 546.3L494.5 546.8L495.5 547.4L496.6 548.0L497.6 548.5L498.7 549.1L499.8 549.6L500.8 550.2L501.9 550.7L503.0 551.3L504.1 551.8L505.1 552.4L506.2 552.9L507.3 553.5L508.4 554.0L509.4 554.5L510.5 555.1L511.6 555.6L512.7 556.1L513.8 556.6L514.9 557.2L515.9 557.7L517.0 558.2L518.1 558.7L519.2 559.3L520.3 559.8L521.4 560.3L522.4 560.8L523.5 561.3L524.6 561.9L525.7 562.4L526.8 562.9L527.9 563.4L528.9 563.9L530.0 564.5L531.1 565.0L532.2 565.5L533.3 566.0L534.3 566.6L535.4 567.1L536.5 567.6L537.6 568.2L538.7 568.7L539.7 569.2L540.8 569.8L541.9 570.3L542.9 570.8L544.0 571.4L545.1 571.9L546.1 572.5L547.2 573.0L548.3 573.6L549.3 574.2L550.4 574.7L551.4 575.3L552.5 575.8L553.5 576.4L554.6 577.0L555.6 577.6L556.6 578.2L557.7 578.8L558.7 579.3L559.7 579.9L560.8 580.5L561.8 581.2L562.8 581.8L563.8 582.4L564.8 583.0L565.9 583.6L566.9 584.3L567.9 584.9L568.9 585.5L569.9 586.1L571.0 586.7L572.0 587.3L573.1 587.9L574.2 588.5L575.3 589.1L576.5 589.6L577.7 590.1L578.9 590.6L580.1 591.0L581.3 591.3L582.5 591.5L583.6 591.5L584.7 591.3L585.7 590.9L586.6 590.2L587.4 589.3L588.2 588.3L588.9 587.2L589.5 586.1L590.0 584.9L590.5 583.8L591.0 582.7L591.4 581.6L591.8 580.6L592.1 579.5L592.5 578.4L592.9 577.3L593.3 576.2L593.8 575.1L594.3 573.9L594.9 572.7L595.6 571.4L596.3 570.2L597.1 569.0L598.0 568.1L598.9 567.4L599.8 567.1L600.7 567.2L601.6 567.7L602.5 568.6L603.3 569.6L604.1 570.6L604.8 571.7L605.5 572.8L606.1 573.9L606.6 575.0L607.1 576.1L607.6 577.2L608.1 578.3L608.6 579.4L609.0 580.4L609.5 581.5L610.0 582.6L610.5 583.6L611.0 584.7L611.6 585.7L612.2 586.7L612.9 587.7L613.7 588.6L614.5 589.5L615.4 590.4L616.4 591.2L617.4 592.0L618.5 592.7L619.7 593.2L620.9 593.6L622.0 593.8L623.2 593.8L624.4 593.6L625.5 593.2L626.6 592.6L627.6 592.0L628.6 591.2L629.6 590.4L630.4 589.5L631.2 588.5L631.9 587.5L632.6 586.5L633.2 585.5L633.7 584.4L634.2 583.3L634.7 582.2L635.1 581.1L635.5 579.9L635.9 578.8L636.3 577.6L636.6 576.5L637.0 575.3L637.3 574.1L637.6 573.0L637.9 571.8L638.2 570.6L638.5 569.5L638.8 568.3L639.0 567.1L639.3 566.0L639.5 564.8L639.7 563.6L640.0 562.4L640.2 561.2L640.4 560.1L640.6 558.9L640.8 557.7L641.0 556.5L641.2 555.3L641.3 554.1L641.5 552.9L641.6 551.7L641.8 550.6L642.0 549.4L642.1 548.2L642.2 547.0L642.4 545.8L642.5 544.6L642.6 543.4L642.7 542.2L642.8 541.0L643.0 539.8L643.1 538.6L643.2 537.4L643.3 536.2L643.4 535.0L643.5 533.8L643.6 532.6L643.7 531.4L643.8 530.2L643.9 529.0L643.9 527.8L644.0 526.6L644.1 525.4L644.2 524.2L644.3 523.0L644.4 521.8L644.5 520.6L644.6 519.4L644.7 518.2L644.8 517.0L644.9 515.8L645.0 514.6L645.1 513.5L645.2 512.3L645.3 511.1L645.4 509.9L645.5 508.7L645.6 507.5L645.7 506.3L645.8 505.1L645.9 503.9L646.0 502.7L646.1 501.5L646.2 500.3L646.3 499.1L646.4 497.9L646.5 496.8L646.6 495.6L646.7 494.4L646.9 493.2L647.0 492.0L647.1 490.8L647.2 489.6L647.3 488.4L647.4 487.2L647.5 486.0L647.6 484.8L647.7 483.6L647.8 482.4L647.9 481.3L648.0 480.1L648.1 478.9L648.2 477.7L648.3 476.5L648.4 475.3L648.5 474.1L648.6 472.9L648.7 471.7L648.8 470.5L648.9 469.3L649.0 468.1L649.1 466.9L649.2 465.7L649.3 464.5L649.4 463.3L649.5 462.1L649.6 460.9L649.7 459.7L649.8 458.5L649.9 457.3L650.0 456.1L650.1 454.9L650.1 453.7L650.2 452.5L650.3 451.3L650.4 450.1L650.5 448.9L650.6 447.7L650.7 446.5L650.8 445.3L650.8 444.1L650.9 442.9L651.0 441.7L651.1 440.5L651.2 439.3L651.3 438.1L651.3 436.9L651.4 435.7L651.5 434.5L651.6 433.3L651.7 432.1L651.7 430.9L651.8 429.7L651.9 428.5L652.0 427.3L652.1 426.1L652.1 424.9L652.2 423.7L652.3 422.5L652.4 421.3L652.5 420.1L652.5 418.9L652.6 417.7L652.7 416.5L652.8 415.3L652.8 414.1L652.9 412.9L653.0 411.7L653.1 410.5L653.1 409.3L653.2 408.0L653.3 406.8L653.4 405.6L653.5 404.4L653.5 403.2L653.6 402.0L653.7 400.8L653.8 399.6L653.8 398.4L653.9 397.2L654.0 396.0L654.1 394.8L654.1 393.6L654.2 392.4L654.3 391.2L654.4 390.0L654.4 388.9L654.5 387.7L654.6 386.5L654.7 385.3L654.8 384.1L654.8 382.9L654.9 381.7L655.0 380.5L655.1 379.3L655.1 378.1L655.2 376.9L655.3 375.7L655.4 374.5L655.5 373.3L655.5 372.1L655.6 370.9L655.7 369.7L655.8 368.5L655.9 367.3L655.9 366.2L656.0 365.0L656.1 363.8L656.2 362.6L656.3 361.4L656.4 360.2L656.4 359.0L656.5 357.8L656.6 356.6L656.7 355.5L656.8 354.3L656.9 353.1L657.0 351.9L657.1 350.7L657.1 349.5L657.2 348.3L657.3 347.2L657.4 346.0L657.5 344.8L657.6 343.6L657.7 342.4L657.8 341.3L657.9 340.1L658.0 338.9L658.1 337.7L658.2 336.5L658.3 335.4L658.4 334.2L658.6 333.0L658.7 331.8L658.9 330.6L659.1 329.4L659.3 328.2L659.6 327.0L659.8 325.8L660.1 324.6L660.5 323.4L660.9 322.2L661.3 320.9L661.8 319.7L662.3 318.4L662.8 317.2L663.4 315.9L664.1 314.8L664.7 313.7L665.4 312.9L666.0 312.3L666.6 312.0L667.2 312.1L667.7 312.4L668.2 313.1L668.7 314.0L669.2 315.1L669.6 316.4L670.0 317.8L670.3 319.4L670.7 320.9L671.0 322.6L671.3 324.2L671.5 325.8L671.8 327.3L672.0 328.8L672.3 330.2L672.5 331.5L672.7 332.8L672.8 334.1L673.0 335.3L673.2 336.5L673.3 337.7L673.5 338.8L673.6 340.0L673.7 341.0L673.8 342.1L673.9 343.2L674.0 344.2L674.1 345.3L674.2 346.3L674.3 347.4L674.4 348.5L674.5 349.5L674.6 350.6L674.7 351.7L674.8 352.8L674.9 353.9L675.0 355.1L675.1 356.2L675.3 357.4L675.4 358.5L675.5 359.7L675.6 360.9L675.7 362.1L675.8 363.3L675.9 364.5L676.0 365.7L676.1 366.9L676.3 368.2L676.4 369.4L676.5 370.6L676.6 371.8L676.7 373.1L676.8 374.3L676.9 375.6L677.1 376.8L677.2 378.0L677.3 379.3L677.4 380.5L677.5 381.7L677.6 382.9L677.7 384.1L677.8 385.3L677.9 386.6L678.1 387.8L678.2 389.0L678.3 390.2L678.4 391.3L678.5 392.5L678.6 393.7L678.7 394.9L678.8 396.1L678.9 397.3L679.0 398.5L679.1 399.7L679.2 400.8L679.3 402.0L679.4 403.2L679.5 404.4L679.6 405.6L679.7 406.8L679.8 408.0L679.9 409.2L680.0 410.4L680.1 411.6L680.2 412.8L680.3 414.0L680.4 415.2L680.5 416.5L680.6 417.7L680.7 418.9L680.8 420.2L680.9 421.4L681.0 422.7L681.1 423.9L681.2 425.1L681.3 426.4L681.4 427.6L681.5 428.9L681.6 430.1L681.7 431.3L681.8 432.6L681.9 433.8L682.0 435.0L682.1 436.3L682.2 437.5L682.3 438.7L682.4 439.9L682.5 441.1L682.6 442.3L682.7 443.5L682.8 444.6L682.9 445.8L683.0 447.0L683.1 448.1L683.2 449.2L683.3 450.4L683.4 451.5L683.5 452.6L683.6 453.7L683.7 454.7L683.8 455.8L683.9 456.8L684.0 457.9L684.1 458.9L684.2 459.9L684.3 460.9L684.4 461.9L684.5 463.0L684.6 464.0L684.7 465.0L684.8 466.0L684.9 467.0L685.0 468.1L685.1 469.1L685.2 470.2L685.3 471.3L685.4 472.3L685.5 473.5L685.6 474.6L685.8 475.8L685.9 476.9L686.0 478.1L686.1 479.4L686.2 480.7L686.3 482.0L686.5 483.3L686.6 484.7L686.7 486.1L686.8 487.5L687.0 489.0L687.1 490.6L687.3 492.2L687.4 493.8L687.5 495.5L687.7 497.3L687.8 499.0L688.0 500.8L688.2 502.6L688.3 504.3L688.5 506.0L688.7 507.7L688.9 509.3L689.1 510.8L689.3 512.1L689.5 513.4L689.7 514.4L689.9 515.4L690.2 516.1L690.4 516.7L690.7 517.0L690.9 517.1L691.2 516.9L691.5 516.5L691.8 515.8L692.1 514.9L692.4 513.8L692.8 512.6L693.1 511.3L693.3 509.9L693.6 508.5L693.9 507.2L694.1 505.8L694.3 504.5L694.5 503.2L694.7 501.9L694.9 500.6L695.1 499.3L695.2 498.1L695.3 496.8L695.5 495.6L695.6 494.4L695.7 493.2L695.8 492.0L695.9 490.8L696.0 489.6L696.0 488.4L696.1 487.3L696.2 486.1L696.2 484.9L696.3 483.8L696.4 482.6L696.4 481.4L696.5 480.3L696.6 479.1L696.6 477.9L696.7 476.7L696.7 475.6L696.8 474.4L696.9 473.2L696.9 472.0L697.0 470.9L697.1 469.7L697.1 468.5L697.2 467.3L697.3 466.2L697.3 465.0L697.4 463.8L697.4 462.6L697.5 461.4L697.6 460.2L697.6 459.1L697.7 457.9L697.8 456.7L697.8 455.5L697.9 454.3L698.0 453.1L698.0 451.9L698.1 450.7L698.1 449.6L698.2 448.4L698.3 447.2L698.3 446.0L698.4 444.8L698.5 443.6L698.5 442.4L698.6 441.2L698.7 440.0L698.7 438.8L698.8 437.6L698.9 436.4L698.9 435.2L699.0 434.0L699.0 432.8L699.1 431.6L699.2 430.4L699.2 429.2L699.3 428.0L699.4 426.8L699.4 425.6L699.5 424.4L699.6 423.2L699.6 422.0L699.7 420.8L699.8 419.6L699.8 418.4L699.9 417.2L699.9 416.0L700.0 414.8L700.1 413.6L700.1 412.4L700.2 411.2L700.3 410.0L700.3 408.8L700.4 407.6L700.5 406.4L700.5 405.2L700.6 404.0L700.7 402.8L700.7 401.6L700.8 400.4L700.8 399.2L700.9 398.0L701.0 396.8L701.0 395.5L701.1 394.3L701.2 393.1L701.2 391.9L701.3 390.7L701.3 389.5L701.4 388.3L701.5 387.1L701.5 385.9L701.6 384.7L701.7 383.5L701.7 382.3L701.8 381.1L701.8 379.9L701.9 378.7L702.0 377.5L702.0 376.2L702.1 375.0L702.2 373.8L702.2 372.6L702.3 371.4L702.3 370.2L702.4 369.0L702.5 367.8L702.5 366.6L702.6 365.4L702.6 364.2L702.7 363.0L702.8 361.8L702.8 360.6L702.9 359.4L702.9 358.2L703.0 357.0L703.1 355.8L703.1 354.6L703.2 353.4L703.2 352.2L703.3 351.0L703.4 349.8L703.4 348.6L703.5 347.4L703.5 346.2L703.6 345.0L703.7 343.8L703.7 342.6L703.8 341.4L703.8 340.2L703.9 339.0L703.9 337.8L704.0 336.6L704.1 335.4L704.1 334.2L704.2 333.0L704.2 331.8L704.3 330.6L704.4 329.4L704.4 328.2L704.5 327.0L704.5 325.8L704.6 324.6L704.7 323.4L704.7 322.2L704.8 321.0L704.8 319.8L704.9 318.6L705.0 317.4L705.0 316.2L705.1 315.0L705.1 313.8L705.2 312.6L705.3 311.4L705.3 310.2L705.4 309.0L705.4 307.8L705.5 306.7L705.6 305.5L705.6 304.3L705.7 303.1L705.7 301.9L705.8 300.7L705.9 299.5L705.9 298.3L706.0 297.1L706.0 295.9L706.1 294.7L706.2 293.6L706.2 292.4L706.3 291.2L706.4 290.0L706.4 288.8L706.5 287.6L706.5 286.4L706.6 285.2L706.7 284.0L706.7 282.9L706.8 281.7L706.9 280.5L706.9 279.3L707.0 278.1L707.1 276.9L707.1 275.7L707.2 274.5L707.3 273.3L707.4 272.1L707.4 271.0L707.5 269.8L707.6 268.6L707.7 267.4L707.8 266.2L707.8 265.0L707.9 263.8L708.0 262.6L708.1 261.4L708.2 260.2L708.3 259.0L708.4 257.8L708.5 256.5L708.6 255.3L708.7 254.1L708.8 252.9L709.0 251.7L709.1 250.5L709.2 249.3L709.3 248.0L709.4 246.8L709.6 245.6L709.7 244.4L709.8 243.1L710.0 241.9L710.1 240.7L710.3 239.4L710.4 238.2L710.6 236.9L710.8 235.7L710.9 234.4L711.1 233.2L711.3 231.9L711.5 230.8L711.8 229.7L712.3 228.8L712.8 228.1L713.5 227.7L714.4 227.6L715.4 227.9L716.3 228.7L717.1 230.1L717.8 231.2L718.7 231.2L719.7 230.4L720.4 229.3L720.9 228.1L721.3 227.0L721.5 225.9L721.7 224.7L721.9 223.5L722.1 222.4L722.3 221.2L722.6 220.0L722.8 218.8L723.0 217.6L723.3 216.5L723.5 215.3L723.8 214.1L724.0 212.9L724.3 211.7L724.5 210.5L724.8 209.3L725.0 208.1L725.3 207.0L725.6 205.8L725.8 204.6L726.1 203.4L726.3 202.3L726.6 201.1L726.8 200.0L727.1 198.8L727.4 197.7L727.7 196.5L728.0 195.4L728.3 194.2L728.6 193.1L728.9 192.0L729.3 190.8L729.6 189.7L730.0 188.6L730.4 187.4L730.8 186.3L731.3 185.1L731.8 184.0L732.3 182.9L732.8 181.7L733.3 180.6L734.0 179.5L734.6 178.5L735.3 177.5L736.1 176.5L736.9 175.7L737.8 174.9L738.7 174.2L739.8 173.7L740.8 173.3L741.8 173.2L742.6 173.6L743.4 174.2L744.0 175.1L744.5 176.2L745.0 177.5L745.4 178.9L745.7 180.3L746.1 181.6L746.4 182.9L746.7 184.1L747.0 185.3L747.2 186.5L747.5 187.6L747.8 188.6L748.0 189.7L748.2 190.8L748.5 191.9L748.7 193.1L748.9 194.2L749.1 195.4L749.3 196.6L749.4 197.8L749.6 199.0L749.8 200.2L749.9 201.4L750.1 202.6L750.2 203.9L750.4 205.1L750.5 206.3L750.7 207.5L750.9 208.7L751.0 209.9L751.2 211.1L751.3 212.3L751.5 213.5L751.7 214.6L751.8 215.8L752.0 217.0L752.2 218.1L752.4 219.3L752.5 220.5L752.7 221.6L752.8 222.8L753.0 224.0L753.1 225.2L753.3 226.3L753.4 227.5L753.6 228.8L753.7 230.0L753.8 231.2L753.9 232.5L754.0 233.7L754.1 235.0L754.3 236.3L754.5 237.5L754.8 238.6L755.4 239.7L756.0 240.6L756.9 240.8L757.7 240.1L758.3 239.0L758.8 237.8L759.1 236.6L759.3 235.4L759.4 234.2L759.4 233.0L759.5 231.8L759.5 230.6L759.6 229.4L759.6 228.2L759.7 227.0L759.8 225.8L759.9 224.6L760.1 223.4L760.2 222.2L760.3 221.0L760.5 219.8L760.6 218.6L760.8 217.4L760.9 216.2L761.1 215.0L761.3 213.9L761.5 212.7L761.6 211.5L761.8 210.3L762.0 209.1L762.1 207.9L762.3 206.7L762.5 205.5L762.6 204.4L762.8 203.2L762.9 202.0L763.1 200.8L763.2 199.6L763.3 198.4L763.4 197.2L763.5 196.0L763.7 194.8L763.8 193.6L764.0 192.4L764.2 191.3L764.5 190.1L764.8 188.9L765.3 187.8L765.7 186.6L766.3 185.5L767.0 184.4L767.7 183.4L768.6 182.4L769.5 181.7L770.4 181.3L771.3 181.2L772.2 181.5L773.2 182.2L774.0 183.1L774.9 184.1L775.6 185.2L776.3 186.3L776.9 187.3L777.5 188.4L778.0 189.5L778.5 190.7L778.9 191.8L779.3 192.9L779.7 194.1L780.0 195.2L780.3 196.4L780.6 197.5L780.8 198.7L781.1 199.9L781.3 201.0L781.5 202.2L781.8 203.4L782.0 204.6L782.2 205.7L782.5 206.9L782.7 208.1L782.9 209.3L783.1 210.4L783.4 211.6L783.6 212.8L783.8 214.0L784.0 215.2L784.2 216.3L784.4 217.5L784.7 218.7L784.9 219.9L785.1 221.1L785.3 222.2L785.5 223.4L785.7 224.6L785.9 225.8L786.1 227.0L786.3 228.1L786.5 229.3L786.7 230.5L786.9 231.7L787.1 232.9L787.3 234.1L787.5 235.2L787.7 236.4L787.9 237.6L788.1 238.8L788.3 240.0L788.5 241.2L788.7 242.3L788.9 243.5L789.1 244.7L789.3 245.9L789.4 247.1L789.6 248.3L789.8 249.5L790.0 250.6L790.2 251.8L790.4 253.0L790.6 254.2L790.8 255.4L791.0 256.6L791.1 257.8L791.3 259.0L791.5 260.1L791.7 261.3L791.9 262.5L792.1 263.7L792.3 264.9L792.4 266.1L792.6 267.3L792.8 268.5L793.0 269.6L793.2 270.8L793.4 272.0L793.5 273.2L793.7 274.4L793.9 275.6L794.1 276.8L794.3 278.0L794.5 279.1L794.7 280.3L794.8 281.5L795.0 282.7L795.2 283.9L795.4 285.1L795.6 286.3L795.8 287.5L796.0 288.6L796.1 289.8L796.3 291.0L796.5 292.2L796.7 293.4L796.9 294.6L797.1 295.8L797.3 297.0L797.4 298.1L797.6 299.3L797.8 300.5L798.0 301.7L798.2 302.9L798.4 304.1L798.6 305.3L798.8 306.4L798.9 307.6L799.1 308.8L799.3 310.0L799.5 311.2L799.7 312.4L799.9 313.6L800.1 314.7L800.3 315.9L800.5 317.1L800.6 318.3L800.8 319.5L801.0 320.6L801.2 321.8L801.4 323.0L801.6 324.2L801.8 325.4L802.0 326.5L802.2 327.7L802.4 328.9L802.5 330.1L802.7 331.3L802.9 332.4L803.1 333.6L803.3 334.8L803.5 336.0L803.7 337.2L803.9 338.3L804.1 339.5L804.2 340.7L804.4 341.9L804.6 343.1L804.8 344.3L805.0 345.5L805.2 346.7L805.3 347.9L805.5 349.1L805.7 350.3L805.9 351.5L806.0 352.7L806.2 354.0L806.4 355.2L806.5 356.4L806.7 357.6L806.8 358.9L807.0 360.1L807.2 361.4L807.3 362.6L807.5 363.8L807.6 365.1L807.8 366.3L807.9 367.5L808.1 368.8L808.2 370.0L808.4 371.2L808.5 372.5L808.7 373.7L808.8 374.9L809.0 376.1L809.1 377.3L809.3 378.5L809.4 379.7L809.6 380.9L809.8 382.0L809.9 383.2L810.1 384.3L810.2 385.5L810.4 386.6L810.6 387.7L810.7 388.8L810.9 389.9L811.1 390.9L811.2 392.0L811.4 393.0L811.6 394.1L811.8 395.1L812.0 396.1L812.2 397.1L812.4 398.1L812.6 399.2L812.8 400.2L813.0 401.3L813.3 402.4L813.5 403.5L813.8 404.6L814.1 405.8L814.3 407.0L814.6 408.3L815.0 409.6L815.3 411.0L815.6 412.5L816.0 414.0L816.4 415.5L816.8 417.2L817.2 418.8L817.7 420.3L818.1 421.6L818.6 422.7L819.1 423.5L819.6 423.9L820.2 423.8L820.7 423.3L821.3 422.4L821.8 421.2L822.4 419.9L822.8 418.4L823.3 416.9L823.7 415.6L824.0 414.2L824.3 412.9L824.6 411.7L824.8 410.5L825.0 409.3L825.1 408.2L825.3 407.1L825.4 406.0L825.4 404.9L825.5 403.9L825.6 402.8L825.6 401.8L825.7 400.7L825.8 399.7L825.8 398.6L825.9 397.5L826.0 396.5L826.1 395.3L826.2 394.2L826.4 393.0L826.5 391.8L826.8 390.5L827.0 389.2L827.3 387.9L827.6 386.5L828.0 385.0" fill="none" stroke="#68A61E" stroke-width="1.3" stroke-linejoin="round"/>
<path d="M91.2 598.5L92.2 598.2L93.5 597.9L94.8 597.7L96.0 597.5L97.2 597.4L98.4 597.3L99.5 597.3L100.7 597.3L101.9 597.3L103.0 597.3L104.1 597.3L105.3 597.4L106.4 597.3L107.6 597.3L108.7 597.2L109.9 597.1L111.1 596.9L112.3 596.6L113.5 596.3L114.7 596.0L115.9 595.6L117.1 595.2L118.3 594.7L119.5 594.2L120.6 593.6L121.8 593.1L122.9 592.5L124.0 591.8L125.0 591.2L126.0 590.5L127.0 589.8L127.9 589.0L128.9 588.3L129.8 587.5L130.6 586.7L131.5 585.9L132.3 585.1L133.1 584.2L133.8 583.3L134.6 582.4L135.3 581.5L136.0 580.6L136.6 579.6L137.3 578.7L137.9 577.7L138.5 576.7L139.1 575.7L139.6 574.7L140.2 573.6L140.7 572.6L141.2 571.5L141.7 570.4L142.2 569.3L142.6 568.2L143.1 567.1L143.5 566.0L143.9 564.9L144.3 563.7L144.7 562.6L145.1 561.4L145.4 560.3L145.8 559.1L146.1 558.0L146.4 556.8L146.8 555.6L147.1 554.4L147.4 553.2L147.7 552.0L148.0 550.9L148.2 549.7L148.5 548.5L148.8 547.3L149.1 546.1L149.3 544.9L149.6 543.7L149.8 542.5L150.1 541.3L150.3 540.1L150.6 538.9L150.8 537.8L151.1 536.6L151.3 535.4L151.5 534.2L151.7 533.0L152.0 531.8L152.2 530.6L152.4 529.4L152.6 528.2L152.8 527.1L153.0 525.9L153.2 524.7L153.4 523.5L153.6 522.3L153.8 521.1L154.0 519.9L154.2 518.7L154.3 517.5L154.5 516.4L154.7 515.2L154.9 514.0L155.0 512.8L155.2 511.6L155.4 510.4L155.5 509.2L155.7 508.0L155.9 506.9L156.0 505.7L156.2 504.5L156.3 503.3L156.5 502.1L156.6 500.9L156.7 499.7L156.9 498.5L157.0 497.4L157.2 496.2L157.3 495.0L157.4 493.8L157.6 492.6L157.7 491.4L157.8 490.2L157.9 489.0L158.1 487.8L158.2 486.7L158.3 485.5L158.4 484.3L158.5 483.1L158.7 481.9L158.8 480.7L158.9 479.5L159.0 478.3L159.1 477.1L159.2 475.9L159.3 474.8L159.4 473.6L159.5 472.4L159.6 471.2L159.8 470.0L159.9 468.8L160.0 467.6L160.1 466.4L160.2 465.2L160.3 464.0L160.4 462.8L160.5 461.6L160.6 460.4L160.7 459.2L160.8 458.1L160.9 456.9L161.0 455.7L161.1 454.5L161.2 453.3L161.3 452.1L161.4 450.9L161.5 449.7L161.6 448.5L161.6 447.3L161.7 446.1L161.8 444.9L161.9 443.7L162.0 442.5L162.1 441.3L162.2 440.1L162.3 438.9L162.4 437.7L162.5 436.5L162.6 435.3L162.7 434.1L162.8 432.9L162.8 431.7L162.9 430.5L163.0 429.3L163.1 428.1L163.2 426.9L163.3 425.7L163.4 424.5L163.5 423.3L163.5 422.1L163.6 420.9L163.7 419.7L163.8 418.5L163.9 417.3L164.0 416.1L164.1 414.9L164.2 413.7L164.2 412.5L164.3 411.3L164.4 410.1L164.5 408.9L164.6 407.7L164.7 406.5L164.8 405.3L164.8 404.1L164.9 402.9L165.0 401.7L165.1 400.5L165.2 399.3L165.3 398.1L165.4 396.9L165.5 395.7L165.5 394.5L165.6 393.3L165.7 392.1L165.8 390.9L165.9 389.7L166.0 388.5L166.1 387.3L166.2 386.1L166.2 384.9L166.3 383.7L166.4 382.5L166.5 381.3L166.6 380.1L166.7 378.9L166.8 377.7L166.9 376.5L167.0 375.3L167.0 374.1L167.1 372.9L167.2 371.7L167.3 370.5L167.4 369.3L167.5 368.1L167.6 366.9L167.7 365.7L167.8 364.6L167.9 363.4L168.0 362.2L168.1 361.0L168.2 359.8L168.3 358.6L168.4 357.4L168.5 356.2L168.6 355.0L168.7 353.8L168.8 352.6L168.9 351.4L169.0 350.2L169.1 349.0L169.2 347.8L169.3 346.6L169.4 345.4L169.5 344.2L169.6 343.0L169.7 341.8L169.8 340.6L169.9 339.4L170.0 338.2L170.1 337.0L170.2 335.8L170.3 334.6L170.4 333.4L170.5 332.2L170.6 331.1L170.7 329.9L170.9 328.7L171.0 327.5L171.1 326.3L171.2 325.1L171.3 323.9L171.4 322.7L171.5 321.5L171.6 320.3L171.7 319.1L171.9 317.9L172.0 316.7L172.1 315.5L172.2 314.3L172.3 313.1L172.4 311.9L172.5 310.8L172.7 309.6L172.8 308.4L172.9 307.2L173.0 306.0L173.1 304.8L173.3 303.6L173.4 302.4L173.5 301.2L173.6 300.0L173.7 298.8L173.9 297.6L174.0 296.4L174.1 295.2L174.2 294.0L174.3 292.9L174.5 291.7L174.6 290.5L174.7 289.3L174.8 288.1L175.0 286.9L175.1 285.7L175.2 284.5L175.4 283.3L175.5 282.1L175.6 280.9L175.7 279.7L175.9 278.5L176.0 277.4L176.1 276.2L176.3 275.0L176.4 273.8L176.5 272.6L176.6 271.4L176.8 270.2L176.9 269.0L177.0 267.8L177.2 266.6L177.3 265.4L177.4 264.2L177.6 263.0L177.7 261.9L177.9 260.7L178.0 259.5L178.1 258.3L178.3 257.1L178.4 255.9L178.5 254.7L178.7 253.5L178.8 252.3L179.0 251.1L179.1 249.9L179.2 248.7L179.4 247.5L179.5 246.3L179.7 245.2L179.8 244.0L179.9 242.8L180.1 241.6L180.2 240.4L180.4 239.2L180.5 238.0L180.7 236.8L180.8 235.6L181.0 234.4L181.1 233.2L181.2 232.0L181.4 230.8L181.5 229.6L181.7 228.4L181.8 227.3L182.0 226.1L182.1 224.9L182.3 223.7L182.4 222.5L182.6 221.3L182.7 220.1L182.9 218.9L183.0 217.7L183.2 216.5L183.3 215.3L183.5 214.1L183.7 212.9L183.8 211.7L184.0 210.5L184.1 209.3L184.3 208.2L184.5 207.0L184.6 205.8L184.8 204.6L185.0 203.4L185.2 202.2L185.3 201.0L185.5 199.8L185.7 198.6L185.9 197.4L186.1 196.3L186.3 195.1L186.5 193.9L186.7 192.7L186.9 191.5L187.1 190.3L187.3 189.2L187.5 188.0L187.8 186.8L188.0 185.6L188.2 184.4L188.5 183.3L188.7 182.1L188.9 180.9L189.2 179.7L189.4 178.6L189.7 177.4L190.0 176.2L190.3 175.1L190.5 173.9L190.8 172.7L191.1 171.6L191.4 170.4L191.7 169.2L192.0 168.1L192.3 166.9L192.7 165.8L193.0 164.6L193.3 163.5L193.7 162.3L194.0 161.2L194.4 160.0L194.7 158.9L195.1 157.7L195.5 156.6L195.9 155.5L196.3 154.3L196.7 153.2L197.1 152.1L197.6 150.9L198.0 149.8L198.5 148.7L199.0 147.6L199.5 146.5L200.0 145.5L200.5 144.4L201.1 143.4L201.7 142.3L202.3 141.3L202.9 140.3L203.5 139.3L204.2 138.3L204.9 137.3L205.6 136.4L206.4 135.5L207.2 134.6L208.0 133.7L208.8 132.8L209.7 132.0L210.6 131.1L211.6 130.3L212.5 129.5L213.5 128.7L214.4 127.9L215.4 127.0L216.4 126.3L217.4 125.8L218.4 125.7L219.5 126.0L220.5 126.7L221.5 127.6L222.3 128.7L223.1 129.7L223.7 130.8L224.2 131.8L224.7 132.9L225.1 134.0L225.5 135.1L225.9 136.2L226.3 137.4L226.6 138.5L227.0 139.6L227.3 140.8L227.7 141.9L228.0 143.1L228.4 144.3L228.7 145.4L229.0 146.6L229.3 147.8L229.6 148.9L229.9 150.1L230.2 151.3L230.4 152.4L230.7 153.6L230.9 154.8L231.2 156.0L231.4 157.1L231.6 158.3L231.9 159.5L232.1 160.7L232.3 161.9L232.5 163.1L232.7 164.2L232.8 165.4L233.0 166.6L233.2 167.8L233.4 169.0L233.5 170.2L233.7 171.4L233.8 172.5L234.0 173.7L234.2 174.9L234.3 176.1L234.4 177.3L234.6 178.5L234.7 179.7L234.8 180.9L235.0 182.1L235.1 183.3L235.2 184.5L235.4 185.7L235.5 186.9L235.6 188.1L235.7 189.2L235.9 190.4L236.0 191.6L236.1 192.8L236.2 194.0L236.4 195.2L236.5 196.4L236.6 197.6L236.7 198.8L236.8 200.0L237.0 201.2L237.1 202.4L237.2 203.6L237.3 204.8L237.4 206.0L237.5 207.2L237.7 208.4L237.8 209.6L237.9 210.7L238.0 211.9L238.1 213.1L238.2 214.3L238.3 215.5L238.4 216.7L238.5 217.9L238.7 219.1L238.8 220.3L238.9 221.5L239.0 222.7L239.1 223.9L239.2 225.1L239.3 226.3L239.4 227.5L239.5 228.7L239.6 229.9L239.7 231.1L239.8 232.3L239.9 233.5L240.0 234.7L240.1 235.9L240.2 237.1L240.3 238.3L240.4 239.5L240.5 240.7L240.6 241.9L240.7 243.0L240.8 244.2L240.9 245.4L241.0 246.6L241.1 247.8L241.2 249.0L241.3 250.2L241.4 251.4L241.5 252.6L241.6 253.8L241.7 255.0L241.8 256.2L241.8 257.4L241.9 258.6L242.0 259.8L242.1 261.0L242.2 262.2L242.3 263.4L242.4 264.6L242.5 265.8L242.6 267.0L242.7 268.2L242.8 269.4L242.9 270.6L242.9 271.8L243.0 273.0L243.1 274.2L243.2 275.4L243.3 276.6L243.4 277.8L243.5 279.0L243.6 280.2L243.7 281.4L243.8 282.6L243.8 283.8L243.9 285.0L244.0 286.2L244.1 287.4L244.2 288.6L244.3 289.8L244.4 291.0L244.5 292.2L244.5 293.4L244.6 294.6L244.7 295.7L244.8 296.9L244.9 298.1L245.0 299.3L245.1 300.5L245.2 301.7L245.2 302.9L245.3 304.1L245.4 305.3L245.5 306.5L245.6 307.7L245.7 308.9L245.8 310.1L245.9 311.3L245.9 312.5L246.0 313.7L246.1 314.9L246.2 316.1L246.3 317.3L246.4 318.5L246.5 319.7L246.6 320.9L246.6 322.1L246.7 323.3L246.8 324.5L246.9 325.7L247.0 326.9L247.1 328.1L247.2 329.3L247.3 330.5L247.4 331.7L247.5 332.9L247.5 334.1L247.6 335.3L247.7 336.5L247.8 337.7L247.9 338.9L248.0 340.1L248.1 341.3L248.2 342.5L248.3 343.7L248.4 344.9L248.5 346.1L248.5 347.3L248.6 348.5L248.7 349.7L248.8 350.8L248.9 352.0L249.0 353.2L249.1 354.4L249.2 355.6L249.3 356.8L249.4 358.0L249.5 359.2L249.6 360.4L249.7 361.6L249.8 362.8L249.9 364.0L250.0 365.2L250.1 366.4L250.2 367.6L250.3 368.8L250.4 370.0L250.5 371.2L250.6 372.4L250.7 373.6L250.8 374.8L250.9 376.0L251.0 377.2L251.1 378.4L251.2 379.6L251.3 380.8L251.4 382.0L251.5 383.1L251.6 384.3L251.7 385.5L251.8 386.7L251.9 387.9L252.1 389.1L252.2 390.3L252.3 391.5L252.4 392.7L252.5 393.9L252.6 395.1L252.7 396.3L252.8 397.5L253.0 398.7L253.1 399.9L253.2 401.1L253.3 402.3L253.4 403.5L253.5 404.7L253.6 405.9L253.8 407.0L253.9 408.2L254.0 409.4L254.1 410.6L254.3 411.8L254.4 413.0L254.5 414.2L254.6 415.4L254.7 416.6L254.9 417.8L255.0 419.0L255.1 420.2L255.3 421.4L255.4 422.6L255.5 423.7L255.7 424.9L255.8 426.1L255.9 427.3L256.1 428.5L256.2 429.7L256.3 430.9L256.5 432.1L256.6 433.3L256.8 434.5L256.9 435.7L257.1 436.9L257.2 438.0L257.4 439.2L257.5 440.4L257.7 441.6L257.9 442.8L258.0 444.0L258.2 445.2L258.4 446.4L258.5 447.5L258.7 448.7L258.9 449.9L259.1 451.1L259.3 452.3L259.5 453.5L259.6 454.7L259.8 455.8L260.0 457.0L260.2 458.2L260.4 459.4L260.6 460.6L260.8 461.8L261.1 462.9L261.3 464.1L261.5 465.3L261.7 466.5L261.9 467.7L262.2 468.9L262.4 470.0L262.6 471.2L262.9 472.4L263.1 473.6L263.4 474.7L263.6 475.9L263.9 477.1L264.2 478.3L264.4 479.4L264.7 480.6L265.0 481.8L265.3 483.0L265.5 484.1L265.8 485.3L266.1 486.5L266.4 487.7L266.7 488.8L267.0 490.0L267.4 491.2L267.7 492.3L268.0 493.5L268.3 494.7L268.7 495.8L269.1 497.0L269.5 498.1L270.1 499.2L270.9 500.2L271.9 501.1L272.9 501.7L273.7 501.6L274.3 500.8L274.8 499.7L275.2 498.6L275.6 497.4L276.0 496.3L276.4 495.1L276.7 494.0L277.0 492.8L277.4 491.7L277.6 490.5L277.9 489.3L278.2 488.1L278.4 487.0L278.7 485.8L278.9 484.6L279.1 483.4L279.3 482.2L279.5 481.0L279.6 479.8L279.8 478.6L280.0 477.4L280.1 476.3L280.3 475.1L280.4 473.9L280.5 472.7L280.6 471.5L280.7 470.3L280.9 469.1L281.0 467.9L281.1 466.7L281.2 465.5L281.3 464.3L281.4 463.1L281.5 461.9L281.6 460.7L281.7 459.5L281.8 458.3L281.9 457.1L281.9 455.9L282.0 454.7L282.1 453.5L282.2 452.3L282.3 451.1L282.4 449.9L282.4 448.7L282.5 447.5L282.6 446.3L282.7 445.1L282.8 443.9L282.8 442.7L282.9 441.5L283.0 440.3L283.1 439.1L283.2 438.0L283.2 436.8L283.3 435.6L283.4 434.4L283.5 433.2L283.6 432.0L283.6 430.8L283.7 429.6L283.8 428.4L283.9 427.2L284.0 426.0L284.1 424.8L284.2 423.6L284.3 422.4L284.3 421.2L284.4 420.0L284.5 418.8L284.6 417.6L284.7 416.4L284.8 415.2L284.9 414.0L285.0 412.8L285.1 411.6L285.2 410.4L285.3 409.2L285.4 408.0L285.5 406.8L285.6 405.6L285.7 404.4L285.8 403.2L285.9 402.0L286.0 400.8L286.1 399.6L286.2 398.4L286.3 397.2L286.4 396.0L286.5 394.8L286.6 393.6L286.7 392.4L286.8 391.2L286.9 390.0L287.0 388.8L287.1 387.7L287.2 386.5L287.3 385.3L287.4 384.1L287.5 382.9L287.6 381.7L287.7 380.5L287.8 379.3L287.9 378.1L288.0 376.9L288.1 375.7L288.2 374.5L288.3 373.3L288.4 372.1L288.5 370.9L288.6 369.7L288.7 368.5L288.8 367.3L288.9 366.1L289.0 364.9L289.1 363.7L289.2 362.5L289.3 361.3L289.4 360.1L289.5 358.9L289.6 357.7L289.7 356.5L289.8 355.3L289.9 354.1L290.0 352.9L290.1 351.7L290.2 350.5L290.3 349.3L290.4 348.1L290.5 347.0L290.5 345.8L290.6 344.6L290.7 343.4L290.8 342.2L290.9 341.0L291.0 339.8L291.1 338.6L291.2 337.4L291.3 336.2L291.4 335.0L291.5 333.8L291.6 332.6L291.7 331.4L291.8 330.2L291.9 329.1L292.0 327.9L292.1 326.7L292.3 325.5L292.4 324.3L292.5 323.1L292.6 321.9L292.8 320.7L292.9 319.5L293.1 318.3L293.3 317.2L293.4 316.0L293.6 314.8L293.8 313.6L294.0 312.4L294.2 311.2L294.5 310.0L294.7 308.8L294.9 307.7L295.2 306.5L295.5 305.3L295.8 304.1L296.1 302.9L296.4 301.7L296.7 300.5L297.0 299.4L297.4 298.2L297.8 297.0L298.1 295.8L298.6 294.6L299.0 293.4L299.4 292.3L300.0 291.4L300.6 290.8L301.5 290.8L302.5 291.2L303.5 292.0L304.5 293.1L305.4 294.2L306.0 295.4L306.6 296.5L307.0 297.7L307.3 298.8L307.6 300.0L307.8 301.1L308.0 302.3L308.3 303.4L308.6 304.5L308.9 305.6L309.2 306.8L309.5 307.9L309.9 309.0L310.3 310.1L310.7 311.3L311.1 312.4L311.6 313.5L312.1 314.7L312.7 315.8L313.3 317.0L313.9 318.1L314.6 319.3L315.4 320.3L316.2 321.0L317.0 321.3L317.9 321.1L318.8 320.3L319.7 319.3L320.5 318.2L321.3 317.0L321.9 315.8L322.4 314.7L322.8 313.6L323.2 312.5L323.6 311.4L323.8 310.2L324.1 309.1L324.4 308.0L324.6 306.9L324.9 305.7L325.2 304.6L325.4 303.4L325.7 302.2L326.0 301.0L326.4 299.9L326.7 298.7L327.1 297.5L327.5 296.4L328.0 295.2L328.5 294.1L329.0 293.0L329.6 291.9L330.3 290.9L331.0 289.8L331.7 289.2L332.4 289.1L333.1 289.8L333.8 291.0L334.3 292.4L334.8 293.8L335.2 295.1L335.5 296.3L335.8 297.5L336.0 298.7L336.1 299.8L336.3 300.9L336.4 302.1L336.5 303.2L336.7 304.3L336.8 305.4L337.0 306.6L337.2 307.7L337.4 308.9L337.7 310.1L337.9 311.3L338.1 312.4L338.4 313.6L338.6 314.8L338.9 316.0L339.1 317.2L339.4 318.4L339.6 319.6L339.9 320.8L340.1 322.0L340.4 323.1L340.6 324.3L340.8 325.5L341.1 326.7L341.3 327.9L341.5 329.1L341.8 330.2L342.0 331.4L342.2 332.6L342.5 333.8L342.7 334.9L342.9 336.1L343.2 337.3L343.4 338.5L343.6 339.7L343.8 340.8L344.1 342.0L344.3 343.2L344.5 344.4L344.8 345.5L345.0 346.7L345.2 347.9L345.5 349.1L345.7 350.2L345.9 351.4L346.2 352.6L346.4 353.8L346.6 354.9L346.9 356.1L347.1 357.3L347.4 358.5L347.6 359.6L347.9 360.8L348.1 362.0L348.4 363.2L348.6 364.3L348.9 365.5L349.1 366.7L349.4 367.9L349.6 369.0L349.9 370.2L350.1 371.4L350.4 372.5L350.7 373.7L350.9 374.9L351.2 376.1L351.5 377.2L351.8 378.4L352.0 379.6L352.3 380.7L352.6 381.9L352.9 383.1L353.2 384.2L353.5 385.4L353.8 386.6L354.1 387.7L354.4 388.9L354.7 390.0L355.0 391.2L355.3 392.4L355.6 393.5L355.9 394.7L356.2 395.8L356.5 397.0L356.8 398.2L357.2 399.3L357.5 400.5L357.8 401.6L358.2 402.8L358.5 403.9L358.8 405.1L359.2 406.2L359.5 407.4L359.9 408.5L360.3 409.7L360.6 410.8L361.0 412.0L361.3 413.1L361.7 414.2L362.1 415.4L362.5 416.5L362.9 417.7L363.2 418.8L363.6 419.9L364.0 421.1L364.4 422.2L364.8 423.3L365.3 424.5L365.7 425.6L366.1 426.7L366.5 427.9L366.9 429.0L367.4 430.1L367.8 431.2L368.3 432.4L368.7 433.5L369.2 434.6L369.6 435.7L370.1 436.8L370.6 437.9L371.0 439.0L371.5 440.1L372.0 441.2L372.5 442.3L373.0 443.4L373.5 444.5L374.0 445.6L374.6 446.7L375.1 447.8L375.6 448.8L376.2 449.9L376.7 451.0L377.3 452.0L377.9 453.1L378.4 454.1L379.0 455.2L379.6 456.2L380.2 457.3L380.8 458.3L381.4 459.3L382.1 460.3L382.7 461.3L383.4 462.3L384.0 463.3L384.7 464.3L385.4 465.3L386.1 466.3L386.8 467.2L387.5 468.2L388.2 469.1L388.9 470.1L389.7 471.0L390.4 471.9L391.2 472.9L392.0 473.8L392.7 474.7L393.5 475.6L394.3 476.4L395.2 477.3L396.0 478.2L396.8 479.1L397.7 479.9L398.5 480.8L399.4 481.6L400.2 482.4L401.1 483.3L402.0 484.1L402.9 484.9L403.8 485.7L404.7 486.5L405.6 487.3L406.5 488.1L407.4 488.9L408.3 489.7L409.3 490.4L410.2 491.2L411.1 492.0L412.1 492.7L413.0 493.5L414.0 494.2L414.9 495.0L415.9 495.7L416.8 496.5L417.8 497.2L418.7 497.9L419.7 498.7L420.7 499.4L421.6 500.1L422.6 500.8L423.6 501.5L424.5 502.2L425.5 502.9L426.5 503.6L427.5 504.3L428.5 505.0L429.4 505.7L430.4 506.4L431.4 507.1L432.4 507.8L433.4 508.5L434.4 509.1L435.4 509.8L436.4 510.5L437.4 511.1L438.4 511.8L439.4 512.5L440.4 513.1L441.4 513.8L442.4 514.4L443.4 515.1L444.4 515.7L445.4 516.4L446.4 517.0L447.4 517.7L448.5 518.3L449.5 518.9L450.5 519.6L451.5 520.2L452.5 520.8L453.6 521.5L454.6 522.1L455.6 522.7L456.6 523.3L457.7 523.9L458.7 524.6L459.7 525.2L460.7 525.8L461.8 526.4L462.8 527.0L463.8 527.6L464.9 528.2L465.9 528.8L466.9 529.4L468.0 530.0L469.0 530.6L470.1 531.2L471.1 531.8L472.1 532.4L473.2 533.0L474.2 533.6L475.3 534.2L476.3 534.8L477.3 535.4L478.4 536.0L479.4 536.6L480.5 537.2L481.5 537.7L482.6 538.3L483.6 538.9L484.7 539.5L485.7 540.1L486.7 540.7L487.8 541.3L488.8 541.9L489.9 542.4L490.9 543.0L492.0 543.6L493.0 544.2L494.1 544.8L495.1 545.3L496.2 545.9L497.2 546.5L498.3 547.1L499.3 547.7L500.4 548.2L501.4 548.8L502.5 549.4L503.6 550.0L504.6 550.5L505.7 551.1L506.7 551.7L507.8 552.3L508.8 552.8L509.9 553.4L510.9 554.0L512.0 554.6L513.1 555.1L514.1 555.7L515.2 556.3L516.2 556.8L517.3 557.4L518.4 558.0L519.4 558.6L520.5 559.1L521.6 559.7L522.6 560.3L523.7 560.8L524.7 561.4L525.8 562.0L526.9 562.6L527.9 563.1L529.0 563.7L530.0 564.3L531.1 564.9L532.1 565.5L533.2 566.0L534.2 566.6L535.3 567.2L536.3 567.8L537.3 568.4L538.4 569.0L539.4 569.6L540.4 570.3L541.5 570.9L542.5 571.5L543.5 572.1L544.5 572.8L545.5 573.4L546.5 574.0L547.5 574.7L548.5 575.3L549.4 576.0L550.4 576.7L551.4 577.4L552.3 578.0L553.3 578.7L554.2 579.4L555.2 580.1L556.1 580.8L557.1 581.5L558.1 582.2L559.1 582.9L560.1 583.5L561.2 584.2L562.3 584.8L563.5 585.4L564.7 585.9L565.9 586.5L567.2 586.9L568.5 587.3L569.7 587.6L571.0 587.8L572.1 587.8L573.2 587.6L574.2 587.2L575.0 586.6L575.7 585.9L576.4 585.0L577.0 584.0L577.5 582.8L578.0 581.6L578.5 580.4L578.9 579.1L579.4 577.8L579.9 576.6L580.5 575.4L581.1 574.3L581.8 573.3L582.6 572.5L583.5 571.8L584.5 571.4L585.4 571.4L586.4 571.9L587.2 572.7L588.0 573.8L588.8 575.0L589.4 576.1L590.0 577.3L590.5 578.4L591.0 579.5L591.4 580.6L591.9 581.7L592.4 582.7L592.9 583.7L593.5 584.7L594.2 585.6L595.0 586.5L595.8 587.4L596.8 588.1L597.8 588.9L598.8 589.5L600.0 590.0L601.2 590.5L602.5 590.8L603.7 591.0L604.9 591.0L606.0 590.7L607.1 590.3L608.0 589.7L608.8 588.9L609.6 587.9L610.2 586.9L610.8 585.8L611.4 584.6L611.9 583.5L612.4 582.3L612.8 581.2L613.2 580.0L613.6 578.9L614.0 577.7L614.3 576.5L614.6 575.3L614.8 574.2L615.1 573.0L615.3 571.8L615.5 570.6L615.7 569.4L615.9 568.2L616.0 567.0L616.2 565.8L616.4 564.6L616.5 563.4L616.7 562.2L616.9 561.1L617.0 559.9L617.2 558.7L617.3 557.5L617.5 556.3L617.6 555.1L617.8 553.9L617.9 552.7L618.1 551.5L618.2 550.3L618.4 549.1L618.5 547.9L618.6 546.7L618.8 545.5L618.9 544.4L619.0 543.2L619.2 542.0L619.3 540.8L619.4 539.6L619.5 538.4L619.7 537.2L619.8 536.0L619.9 534.8L620.0 533.6L620.1 532.4L620.2 531.3L620.4 530.1L620.5 528.9L620.6 527.7L620.7 526.5L620.8 525.3L620.9 524.1L621.0 522.9L621.1 521.7L621.2 520.5L621.3 519.3L621.4 518.1L621.5 517.0L621.6 515.8L621.7 514.6L621.8 513.4L621.9 512.2L622.0 511.0L622.1 509.8L622.2 508.6L622.3 507.4L622.4 506.2L622.5 505.0L622.6 503.8L622.7 502.7L622.8 501.5L622.9 500.3L622.9 499.1L623.0 497.9L623.1 496.7L623.2 495.5L623.3 494.3L623.4 493.1L623.5 491.9L623.5 490.7L623.6 489.5L623.7 488.3L623.8 487.1L623.9 486.0L623.9 484.8L624.0 483.6L624.1 482.4L624.2 481.2L624.3 480.0L624.4 478.8L624.4 477.6L624.5 476.4L624.6 475.2L624.7 474.0L624.7 472.8L624.8 471.6L624.9 470.4L625.0 469.2L625.1 468.0L625.1 466.8L625.2 465.6L625.3 464.4L625.4 463.2L625.5 462.0L625.5 460.8L625.6 459.6L625.7 458.4L625.8 457.2L625.8 456.0L625.9 454.8L626.0 453.6L626.1 452.4L626.2 451.2L626.3 450.0L626.3 448.8L626.4 447.6L626.5 446.4L626.6 445.2L626.7 444.0L626.7 442.8L626.8 441.6L626.9 440.4L627.0 439.2L627.1 437.9L627.2 436.7L627.3 435.5L627.3 434.3L627.4 433.1L627.5 431.9L627.6 430.7L627.7 429.5L627.8 428.3L627.9 427.1L628.0 425.9L628.0 424.7L628.1 423.5L628.2 422.3L628.3 421.1L628.4 419.8L628.5 418.6L628.6 417.4L628.7 416.2L628.8 415.0L628.9 413.8L628.9 412.6L629.0 411.4L629.1 410.2L629.2 409.0L629.3 407.8L629.4 406.6L629.5 405.4L629.6 404.2L629.7 403.0L629.8 401.8L629.9 400.6L630.0 399.4L630.1 398.2L630.2 396.9L630.3 395.7L630.4 394.5L630.5 393.3L630.6 392.1L630.7 390.9L630.7 389.7L630.8 388.5L630.9 387.3L631.0 386.2L631.1 385.0L631.2 383.8L631.3 382.6L631.4 381.4L631.5 380.2L631.6 379.0L631.7 377.8L631.8 376.6L631.9 375.4L632.0 374.2L632.1 373.0L632.2 371.8L632.3 370.6L632.4 369.5L632.5 368.3L632.6 367.1L632.7 365.9L632.8 364.7L632.9 363.5L633.0 362.3L633.1 361.2L633.2 360.0L633.3 358.8L633.4 357.6L633.6 356.4L633.7 355.3L633.8 354.1L633.9 352.9L634.0 351.7L634.1 350.6L634.2 349.4L634.3 348.2L634.4 347.1L634.5 345.9L634.6 344.7L634.7 343.6L634.8 342.4L634.9 341.2L635.0 340.1L635.1 338.9L635.2 337.8L635.3 336.6L635.4 335.4L635.5 334.3L635.6 333.1L635.7 332.0L635.9 330.8L636.0 329.7L636.1 328.5L636.2 327.3L636.4 326.1L636.5 325.0L636.7 323.8L636.8 322.6L637.0 321.4L637.2 320.1L637.4 318.9L637.7 317.6L637.9 316.4L638.2 315.1L638.4 313.8L638.7 312.4L639.1 311.1L639.4 309.7L639.8 308.4L640.2 307.0L640.6 305.6L641.0 304.3L641.5 303.2L641.9 302.2L642.4 301.5L642.8 301.1L643.3 301.1L643.7 301.4L644.2 302.0L644.6 302.9L645.0 304.0L645.4 305.3L645.8 306.7L646.2 308.3L646.6 309.9L646.9 311.5L647.2 313.0L647.5 314.6L647.8 316.0L648.0 317.5L648.2 318.8L648.5 320.2L648.7 321.5L648.8 322.7L649.0 324.0L649.1 325.2L649.3 326.3L649.4 327.5L649.5 328.6L649.6 329.7L649.7 330.8L649.8 331.9L649.9 332.9L650.0 334.0L650.0 335.0L650.1 336.1L650.2 337.2L650.3 338.2L650.3 339.3L650.4 340.3L650.5 341.4L650.6 342.5L650.7 343.6L650.7 344.8L650.8 345.9L650.9 347.0L651.0 348.2L651.1 349.3L651.2 350.5L651.3 351.7L651.4 352.8L651.5 354.0L651.6 355.2L651.7 356.4L651.8 357.6L651.9 358.8L652.0 360.0L652.2 361.3L652.3 362.5L652.4 363.7L652.5 364.9L652.6 366.2L652.7 367.4L652.8 368.7L652.9 369.9L653.0 371.1L653.2 372.4L653.3 373.6L653.4 374.9L653.5 376.1L653.6 377.3L653.7 378.6L653.8 379.8L653.9 381.0L654.1 382.3L654.2 383.5L654.3 384.7L654.4 385.9L654.5 387.2L654.6 388.4L654.7 389.6L654.8 390.8L654.9 392.0L655.0 393.2L655.1 394.4L655.2 395.6L655.3 396.8L655.4 398.0L655.5 399.2L655.6 400.4L655.7 401.6L655.8 402.8L655.9 404.0L656.0 405.2L656.1 406.4L656.2 407.5L656.3 408.7L656.4 409.9L656.5 411.1L656.6 412.3L656.7 413.5L656.8 414.7L656.9 415.8L657.0 417.0L657.1 418.2L657.2 419.4L657.3 420.6L657.4 421.8L657.5 422.9L657.7 424.1L657.8 425.3L657.9 426.5L658.0 427.7L658.1 428.9L658.2 430.1L658.3 431.3L658.5 432.4L658.6 433.6L658.7 434.8L658.8 436.0L659.0 437.2L659.1 438.4L659.2 439.6L659.3 440.8L659.5 442.0L659.6 443.2L659.7 444.4L659.9 445.6L660.0 446.8L660.1 448.0L660.3 449.1L660.4 450.3L660.5 451.5L660.7 452.7L660.8 453.9L660.9 455.1L661.1 456.3L661.2 457.5L661.3 458.7L661.5 459.9L661.6 461.1L661.8 462.3L661.9 463.5L662.0 464.7L662.2 465.9L662.3 467.1L662.5 468.3L662.6 469.5L662.8 470.7L662.9 471.9L663.1 473.1L663.2 474.3L663.3 475.5L663.5 476.7L663.6 477.9L663.8 479.1L663.9 480.3L664.1 481.5L664.2 482.7L664.4 483.9L664.5 485.1L664.7 486.2L664.8 487.4L664.9 488.6L665.1 489.8L665.2 491.0L665.4 492.2L665.5 493.4L665.7 494.6L665.8 495.8L666.0 497.0L666.1 498.2L666.2 499.4L666.4 500.5L666.5 501.7L666.7 502.9L666.8 504.1L667.0 505.3L667.1 506.5L667.2 507.7L667.4 508.9L667.5 510.0L667.7 511.2L667.8 512.4L667.9 513.6L668.1 514.8L668.2 515.9L668.4 517.1L668.5 518.3L668.7 519.5L668.8 520.7L669.0 521.8L669.1 523.0L669.3 524.2L669.4 525.4L669.6 526.6L669.8 527.7L670.0 528.9L670.1 530.1L670.3 531.3L670.5 532.5L670.7 533.7L670.9 534.8L671.1 536.0L671.3 537.2L671.5 538.4L671.7 539.6L672.0 540.8L672.2 542.0L672.4 543.2L672.7 544.3L673.0 545.5L673.2 546.7L673.5 547.9L673.8 549.1L674.1 550.3L674.4 551.5L674.7 552.7L675.0 553.9L675.3 555.1L675.7 556.4L676.0 557.6L676.4 558.8L676.8 560.0L677.2 561.2L677.6 562.3L678.0 563.3L678.4 564.0L678.9 564.2L679.3 564.1L679.8 563.5L680.3 562.6L680.8 561.4L681.2 560.1L681.7 558.5L682.1 556.9L682.5 555.3L682.9 553.7L683.2 552.2L683.5 550.7L683.8 549.3L684.0 547.9L684.3 546.5L684.4 545.2L684.6 543.9L684.8 542.7L684.9 541.5L685.0 540.3L685.1 539.1L685.1 538.0L685.2 536.9L685.3 535.7L685.3 534.7L685.3 533.6L685.3 532.5L685.4 531.4L685.4 530.4L685.4 529.3L685.4 528.3L685.4 527.2L685.4 526.2L685.5 525.1L685.5 524.0L685.5 522.9L685.6 521.8L685.6 520.7L685.7 519.6L685.8 518.5L685.8 517.3L685.9 516.2L686.0 515.0L686.1 513.9L686.2 512.7L686.2 511.5L686.3 510.3L686.4 509.2L686.5 508.0L686.7 506.8L686.8 505.6L686.9 504.4L687.0 503.1L687.1 501.9L687.2 500.7L687.3 499.5L687.4 498.3L687.5 497.0L687.7 495.8L687.8 494.6L687.9 493.4L688.0 492.1L688.1 490.9L688.2 489.7L688.3 488.4L688.4 487.2L688.5 486.0L688.6 484.8L688.7 483.5L688.8 482.3L688.9 481.1L689.0 479.9L689.1 478.7L689.1 477.4L689.2 476.2L689.3 475.0L689.4 473.8L689.4 472.6L689.5 471.3L689.6 470.1L689.6 468.9L689.7 467.7L689.8 466.5L689.8 465.3L689.9 464.1L690.0 462.9L690.0 461.7L690.1 460.4L690.1 459.2L690.2 458.0L690.3 456.8L690.3 455.6L690.4 454.4L690.4 453.2L690.5 452.0L690.5 450.8L690.6 449.6L690.6 448.4L690.7 447.2L690.7 446.0L690.8 444.8L690.8 443.6L690.9 442.4L691.0 441.2L691.0 440.0L691.1 438.8L691.1 437.6L691.2 436.4L691.2 435.2L691.3 434.0L691.3 432.8L691.4 431.6L691.4 430.4L691.5 429.2L691.6 428.0L691.6 426.8L691.7 425.7L691.8 424.5L691.8 423.3L691.9 422.1L692.0 420.9L692.0 419.7L692.1 418.5L692.2 417.3L692.2 416.1L692.3 414.9L692.4 413.7L692.5 412.6L692.6 411.4L692.6 410.2L692.7 409.0L692.8 407.8L692.9 406.6L693.0 405.4L693.1 404.2L693.2 403.0L693.3 401.8L693.4 400.7L693.5 399.5L693.6 398.3L693.8 397.1L693.9 395.9L694.0 394.7L694.1 393.5L694.3 392.3L694.4 391.2L694.5 390.0L694.7 388.8L694.8 387.6L695.0 386.4L695.1 385.2L695.3 384.0L695.4 382.8L695.6 381.6L695.7 380.5L695.9 379.3L696.1 378.1L696.2 376.9L696.4 375.7L696.6 374.5L696.7 373.3L696.9 372.1L697.1 370.9L697.3 369.7L697.4 368.6L697.6 367.4L697.8 366.2L698.0 365.0L698.1 363.8L698.3 362.6L698.5 361.4L698.7 360.2L698.8 359.0L699.0 357.8L699.2 356.6L699.3 355.5L699.5 354.3L699.7 353.1L699.9 351.9L700.0 350.7L700.2 349.5L700.3 348.3L700.5 347.1L700.6 345.9L700.8 344.7L700.9 343.5L701.1 342.3L701.2 341.1L701.4 339.9L701.5 338.7L701.7 337.6L701.8 336.4L701.9 335.2L702.1 334.0L702.2 332.8L702.3 331.6L702.4 330.4L702.6 329.2L702.7 328.0L702.8 326.8L702.9 325.6L703.0 324.4L703.2 323.2L703.3 322.0L703.4 320.8L703.5 319.6L703.6 318.4L703.7 317.2L703.8 316.0L703.9 314.8L704.0 313.6L704.1 312.4L704.2 311.2L704.3 310.0L704.4 308.8L704.5 307.6L704.6 306.4L704.7 305.3L704.8 304.1L704.9 302.9L705.0 301.7L705.1 300.5L705.1 299.3L705.2 298.1L705.3 296.9L705.4 295.7L705.5 294.5L705.6 293.3L705.6 292.1L705.7 290.9L705.8 289.7L705.9 288.5L705.9 287.3L706.0 286.1L706.1 284.9L706.2 283.7L706.2 282.5L706.3 281.3L706.4 280.1L706.4 278.9L706.5 277.7L706.6 276.5L706.6 275.3L706.7 274.1L706.8 272.9L706.8 271.7L706.9 270.5L707.0 269.3L707.0 268.1L707.1 266.9L707.2 265.7L707.2 264.5L707.3 263.3L707.3 262.1L707.4 260.9L707.5 259.7L707.5 258.5L707.6 257.3L707.6 256.1L707.7 254.9L707.7 253.7L707.8 252.5L707.9 251.3L707.9 250.1L708.0 248.9L708.0 247.7L708.1 246.5L708.2 245.3L708.2 244.1L708.3 242.9L708.3 241.7L708.4 240.5L708.4 239.3L708.5 238.1L708.6 236.9L708.6 235.7L708.7 234.5L708.7 233.3L708.8 232.1L708.9 230.9L708.9 229.7L709.0 228.5L709.0 227.3L709.1 226.1L709.2 224.9L709.2 223.7L709.3 222.5L709.3 221.3L709.4 220.1L709.5 218.9L709.5 217.7L709.6 216.5L709.7 215.3L709.7 214.1L709.8 212.9L709.9 211.7L709.9 210.5L710.0 209.3L710.1 208.1L710.1 206.9L710.2 205.7L710.3 204.5L710.4 203.3L710.4 202.1L710.5 200.9L710.6 199.7L710.7 198.5L710.7 197.3L710.8 196.1L710.9 194.9L711.0 193.7L711.1 192.5L711.1 191.3L711.2 190.1L711.3 188.9L711.4 187.7L711.5 186.6L711.6 185.4L711.7 184.2L711.8 183.0L711.9 181.8L712.0 180.6L712.0 179.4L712.1 178.2L712.2 177.0L712.3 175.8L712.4 174.6L712.6 173.4L712.7 172.2L712.8 171.0L712.9 169.8L713.0 168.6L713.1 167.4L713.2 166.2L713.3 165.0L713.4 163.9L713.6 162.7L713.7 161.5L713.8 160.3L713.9 159.1L714.1 157.9L714.2 156.7L714.3 155.5L714.5 154.3L714.6 153.1L714.7 151.9L714.9 150.7L715.0 149.6L715.1 148.4L715.3 147.2L715.4 146.0L715.6 144.8L715.7 143.6L715.9 142.4L716.1 141.2L716.2 140.0L716.4 138.9L716.5 137.7L716.7 136.5L716.9 135.3L717.0 134.1L717.2 132.9L717.4 131.7L717.6 130.5L717.7 129.4L717.9 128.2L718.1 127.0L718.3 125.8L718.5 124.6L718.7 123.4L718.9 122.2L719.1 121.1L719.3 119.9L719.5 118.7L719.7 117.5L719.9 116.3L720.2 115.2L720.4 114.0L720.7 112.8L721.0 111.6L721.2 110.5L721.6 109.3L721.9 108.2L722.2 107.0L722.6 105.9L723.0 104.8L723.5 103.7L723.9 102.5L724.4 101.4L724.9 100.3L725.5 99.3L726.1 98.2L726.7 97.1L727.4 96.1L728.1 95.0L728.9 94.0L729.7 93.0L730.5 92.0L731.4 91.1L732.3 90.3L733.3 89.6L734.3 89.0L735.3 88.5L736.4 88.2L737.5 88.1L738.6 88.1L739.8 88.4L740.8 88.9L741.8 89.5L742.6 90.2L743.3 91.1L743.9 92.1L744.5 93.1L744.9 94.3L745.3 95.5L745.7 96.7L746.0 97.9L746.3 99.2L746.6 100.4L746.9 101.7L747.2 102.8L747.6 104.0L747.9 105.2L748.2 106.3L748.5 107.5L748.7 108.6L749.0 109.7L749.3 110.9L749.5 112.0L749.7 113.2L749.9 114.4L750.1 115.5L750.3 116.7L750.4 117.9L750.6 119.1L750.7 120.2L750.9 121.4L751.0 122.6L751.1 123.8L751.2 125.0L751.3 126.2L751.4 127.4L751.5 128.6L751.6 129.8L751.7 131.0L751.7 132.2L751.8 133.4L751.9 134.6L752.0 135.8L752.1 137.1L752.2 138.3L752.3 139.5L752.4 140.7L752.4 141.9L752.5 143.1L752.6 144.3L752.7 145.5L752.8 146.7L752.9 147.9L753.0 149.1L753.1 150.3L753.2 151.5L753.3 152.7L753.4 153.9L753.5 155.1L753.6 156.3L753.7 157.5L753.8 158.7L753.9 159.8L754.1 161.0L754.2 162.2L754.3 163.4L754.4 164.6L754.5 165.8L754.6 167.0L754.7 168.2L754.8 169.4L754.9 170.6L755.0 171.8L755.1 173.0L755.2 174.2L755.3 175.4L755.4 176.6L755.5 177.8L755.6 179.0L755.7 180.2L755.8 181.3L755.9 182.5L756.0 183.7L756.1 184.9L756.2 186.1L756.3 187.3L756.4 188.5L756.5 189.7L756.6 190.9L756.7 192.1L756.8 193.3L756.9 194.5L757.0 195.7L757.1 196.9L757.2 198.1L757.3 199.3L757.4 200.5L757.4 201.7L757.5 202.9L757.6 204.1L757.7 205.3L757.8 206.5L757.9 207.6L758.0 208.8L758.0 210.0L758.1 211.2L758.2 212.4L758.3 213.6L758.4 214.8L758.5 216.0L758.5 217.2L758.6 218.4L758.7 219.6L758.8 220.8L758.9 222.0L758.9 223.2L759.0 224.4L759.1 225.6L759.2 226.8L759.3 228.0L759.4 229.2L759.4 230.5L759.5 231.7L759.6 232.9L759.7 234.1L759.8 235.3L759.9 236.5L760.0 237.7L760.1 238.9L760.2 240.1L760.3 241.3L760.4 242.5L760.5 243.7L760.7 244.9L760.8 246.1L761.0 247.2L761.2 248.4L761.5 249.6L761.7 250.8L762.0 251.9L762.3 253.1L762.7 254.3L763.1 255.4L763.5 256.3L763.9 256.4L764.3 255.6L764.6 254.4L764.9 252.8L765.1 251.3L765.3 249.8L765.5 248.5L765.6 247.1L765.7 245.9L765.8 244.7L765.9 243.5L765.9 242.4L766.0 241.3L766.0 240.2L766.1 239.1L766.1 237.9L766.2 236.8L766.3 235.7L766.4 234.5L766.5 233.4L766.5 232.2L766.6 231.0L766.7 229.9L766.8 228.7L766.9 227.5L767.1 226.3L767.2 225.1L767.3 223.9L767.4 222.7L767.5 221.5L767.6 220.3L767.7 219.1L767.9 217.8L768.0 216.6L768.1 215.4L768.2 214.2L768.3 213.0L768.4 211.8L768.6 210.5L768.7 209.3L768.8 208.1L768.9 206.9L769.0 205.7L769.1 204.5L769.1 203.3L769.2 202.1L769.3 200.9L769.4 199.7L769.5 198.5L769.5 197.3L769.6 196.1L769.7 194.9L769.7 193.7L769.8 192.6L769.9 191.4L770.0 190.2L770.1 189.0L770.2 187.8L770.3 186.6L770.4 185.4L770.6 184.2L770.7 183.0L770.9 181.8L771.1 180.6L771.3 179.4L771.6 178.1L771.8 176.9L772.2 176.0L772.8 175.9L773.4 176.7L774.1 177.8L774.6 179.0L775.0 180.2L775.2 181.4L775.4 182.6L775.5 183.9L775.6 185.1L775.7 186.3L775.8 187.5L775.9 188.7L776.0 189.9L776.2 191.1L776.3 192.3L776.5 193.5L776.7 194.7L776.9 195.9L777.1 197.0L777.3 198.2L777.5 199.4L777.6 200.6L777.8 201.8L777.9 203.0L778.1 204.1L778.2 205.3L778.4 206.5L778.5 207.7L778.7 208.9L778.8 210.1L778.9 211.3L779.0 212.5L779.1 213.7L779.3 214.9L779.4 216.1L779.5 217.3L779.6 218.5L779.7 219.7L779.8 220.9L779.9 222.1L780.0 223.3L780.1 224.5L780.2 225.7L780.3 226.9L780.4 228.1L780.5 229.3L780.6 230.5L780.7 231.7L780.9 232.9L781.0 234.0L781.1 235.2L781.2 236.4L781.3 237.6L781.4 238.8L781.6 240.0L781.7 241.2L781.8 242.4L782.0 243.6L782.1 244.8L782.3 246.0L782.4 247.2L782.5 248.4L782.7 249.6L782.9 250.8L783.0 251.9L783.2 253.1L783.3 254.3L783.5 255.5L783.6 256.7L783.8 257.9L784.0 259.1L784.1 260.3L784.3 261.5L784.5 262.6L784.6 263.8L784.8 265.0L785.0 266.2L785.2 267.4L785.3 268.6L785.5 269.8L785.7 270.9L785.8 272.1L786.0 273.3L786.2 274.5L786.3 275.7L786.5 276.9L786.7 278.1L786.9 279.3L787.0 280.5L787.2 281.6L787.3 282.8L787.5 284.0L787.7 285.2L787.8 286.4L788.0 287.6L788.1 288.8L788.3 290.0L788.4 291.2L788.6 292.4L788.7 293.5L788.9 294.7L789.0 295.9L789.2 297.1L789.3 298.3L789.4 299.5L789.6 300.7L789.7 301.9L789.8 303.1L790.0 304.3L790.1 305.5L790.2 306.7L790.3 307.9L790.5 309.1L790.6 310.3L790.7 311.5L790.9 312.7L791.0 313.9L791.1 315.1L791.3 316.3L791.4 317.5L791.5 318.7L791.7 319.9L791.8 321.0L792.0 322.2L792.1 323.4L792.2 324.6L792.4 325.8L792.6 327.0L792.7 328.2L792.9 329.4L793.0 330.6L793.2 331.8L793.4 333.0L793.6 334.1L793.7 335.3L793.9 336.5L794.1 337.7L794.3 338.9L794.5 340.1L794.7 341.2L795.0 342.4L795.2 343.6L795.4 344.8L795.7 345.9L795.9 347.1L796.2 348.3L796.4 349.4L796.7 350.6L797.0 351.8L797.2 352.9L797.5 354.1L797.8 355.3L798.1 356.4L798.4 357.6L798.8 358.7L799.1 359.9L799.4 361.1L799.7 362.2L800.0 363.4L800.3 364.5L800.6 365.7L800.9 366.9L801.2 368.0L801.5 369.2L801.8 370.4L802.1 371.5L802.3 372.7L802.6 373.9L802.8 375.0L803.1 376.2L803.3 377.4L803.6 378.6L803.8 379.7L804.1 380.9L804.3 382.1L804.5 383.3L804.8 384.4L805.0 385.6L805.2 386.8L805.4 388.0L805.7 389.2L805.9 390.3L806.1 391.5L806.3 392.7L806.6 393.9L806.8 395.1L807.0 396.2L807.3 397.4L807.5 398.6L807.7 399.8L808.0 401.0L808.2 402.1L808.5 403.3L808.7 404.5L809.0 405.6L809.2 406.8L809.5 408.0L809.8 409.2L810.0 410.3L810.3 411.5L810.6 412.7L810.9 413.8L811.2 415.0L811.5 416.2L811.7 417.3L812.0 418.5L812.3 419.6L812.6 420.8L812.9 422.0L813.2 423.1L813.5 424.3L813.8 425.5L814.1 426.6L814.4 427.8L814.7 428.9L815.0 430.1L815.3 431.3L815.6 432.4L815.9 433.6L816.2 434.8L816.5 435.9L816.8 437.1L817.1 438.3L817.4 439.4L817.7 440.6L818.0 441.8L818.3 442.9L818.6 444.1L818.9 445.3L819.2 446.4L819.5 447.6L819.8 448.8L820.2 449.9L820.5 451.1L820.8 452.2L821.2 453.4L821.5 454.5L821.9 455.6L822.3 456.8L822.7 457.9L823.1 459.0L823.5 460.2L823.9 461.3L824.4 462.4L824.8 463.5L825.3 464.6L825.8 465.7L826.3 466.8L826.9 467.9L827.4 468.9L828.0 470.0" fill="none" stroke="#B464FA" stroke-width="1.25" stroke-linejoin="round"/>
<line x1="188.2" y1="42" x2="254.8" y2="201.9" stroke="#7e7e7e" stroke-width="1.95" stroke-dasharray="11.9 11.12"/>
<rect x="91.2" y="11.3" width="736.8" height="593.7" fill="none" stroke="#000" stroke-width="2.1"/>
<line x1="79.0" y1="605.00" x2="91.2" y2="605.00" stroke="#000" stroke-width="2.1"/>
<text x="71.3" y="613.0" font-size="25.2" text-anchor="end" >0.0</text>
<line x1="84.8" y1="545.63" x2="91.2" y2="545.63" stroke="#000" stroke-width="2.1"/>
<line x1="79.0" y1="486.26" x2="91.2" y2="486.26" stroke="#000" stroke-width="2.1"/>
<text x="71.3" y="494.3" font-size="25.2" text-anchor="end" >0.2</text>
<line x1="84.8" y1="426.89" x2="91.2" y2="426.89" stroke="#000" stroke-width="2.1"/>
<line x1="79.0" y1="367.52" x2="91.2" y2="367.52" stroke="#000" stroke-width="2.1"/>
<text x="71.3" y="375.5" font-size="25.2" text-anchor="end" >0.4</text>
<line x1="84.8" y1="308.15" x2="91.2" y2="308.15" stroke="#000" stroke-width="2.1"/>
<line x1="79.0" y1="248.78" x2="91.2" y2="248.78" stroke="#000" stroke-width="2.1"/>
<text x="71.3" y="256.8" font-size="25.2" text-anchor="end" >0.6</text>
<line x1="84.8" y1="189.41" x2="91.2" y2="189.41" stroke="#000" stroke-width="2.1"/>
<line x1="79.0" y1="130.04" x2="91.2" y2="130.04" stroke="#000" stroke-width="2.1"/>
<text x="71.3" y="138.0" font-size="25.2" text-anchor="end" >0.8</text>
<line x1="84.8" y1="70.67" x2="91.2" y2="70.67" stroke="#000" stroke-width="2.1"/>
<line x1="79.0" y1="11.30" x2="91.2" y2="11.30" stroke="#000" stroke-width="2.1"/>
<text x="71.3" y="19.3" font-size="25.2" text-anchor="end" >1.0</text>
<line x1="91.20" y1="605.0" x2="91.20" y2="617.2" stroke="#000" stroke-width="2.1"/>
<text x="91.2" y="644.9" font-size="25.2" text-anchor="middle" style="font-kerning:none" >1100</text>
<line x1="143.83" y1="605.0" x2="143.83" y2="611.4" stroke="#000" stroke-width="2.1"/>
<line x1="196.46" y1="605.0" x2="196.46" y2="617.2" stroke="#000" stroke-width="2.1"/>
<text x="196.5" y="644.9" font-size="25.2" text-anchor="middle" style="font-kerning:none" >1000</text>
<line x1="249.09" y1="605.0" x2="249.09" y2="611.4" stroke="#000" stroke-width="2.1"/>
<line x1="301.71" y1="605.0" x2="301.71" y2="617.2" stroke="#000" stroke-width="2.1"/>
<text x="301.7" y="644.9" font-size="25.2" text-anchor="middle" style="font-kerning:none" >900</text>
<line x1="354.34" y1="605.0" x2="354.34" y2="611.4" stroke="#000" stroke-width="2.1"/>
<line x1="406.97" y1="605.0" x2="406.97" y2="617.2" stroke="#000" stroke-width="2.1"/>
<text x="407.0" y="644.9" font-size="25.2" text-anchor="middle" style="font-kerning:none" >800</text>
<line x1="459.60" y1="605.0" x2="459.60" y2="611.4" stroke="#000" stroke-width="2.1"/>
<line x1="512.23" y1="605.0" x2="512.23" y2="617.2" stroke="#000" stroke-width="2.1"/>
<text x="512.2" y="644.9" font-size="25.2" text-anchor="middle" style="font-kerning:none" >700</text>
<line x1="564.86" y1="605.0" x2="564.86" y2="611.4" stroke="#000" stroke-width="2.1"/>
<line x1="617.49" y1="605.0" x2="617.49" y2="617.2" stroke="#000" stroke-width="2.1"/>
<text x="617.5" y="644.9" font-size="25.2" text-anchor="middle" style="font-kerning:none" >600</text>
<line x1="670.11" y1="605.0" x2="670.11" y2="611.4" stroke="#000" stroke-width="2.1"/>
<line x1="722.74" y1="605.0" x2="722.74" y2="617.2" stroke="#000" stroke-width="2.1"/>
<text x="722.7" y="644.9" font-size="25.2" text-anchor="middle" style="font-kerning:none" >500</text>
<line x1="775.37" y1="605.0" x2="775.37" y2="611.4" stroke="#000" stroke-width="2.1"/>
<line x1="828.00" y1="605.0" x2="828.00" y2="617.2" stroke="#000" stroke-width="2.1"/>
<text x="828.0" y="644.9" font-size="25.2" text-anchor="middle" style="font-kerning:none" >400</text>
<text transform="translate(23.5,308.7) rotate(-90)" font-size="31" text-anchor="middle" >Reflectance</text>
<text x="329.0" y="694.5" font-size="30.85" >Wavenumber(cm<tspan font-size="19.5" dy="-12.5" dx="0.5">-1</tspan><tspan dy="12.5">)</tspan></text>
<text x="131.8" y="116.9" font-size="31.5" >A</text>
<text x="314.2" y="213.6" font-size="31.5" >B</text>
<text x="333" y="441.6" font-size="31.5" >C</text>
<text x="547.3" y="542.2" font-size="31.5" >D</text>
<text x="630" y="238.5" font-size="31.5" >E</text>
<text x="722" y="296.4" font-size="31.5" >F</text>
<text x="138.8" y="57.8" font-size="22.3" fill="#808080">996</text>
<text x="244.4" y="58.8" font-size="22.3" fill="#808080">948</text>
<text x="281" y="125.8" font-size="22.25" fill="#808080">With the increase of iron radius,</text>
<text x="281" y="153.8" font-size="22.25" fill="#808080">the band shifts to the low frequency region</text>
<line x1="276.6" y1="165.9" x2="681" y2="165.9" stroke="#808080" stroke-width="2"/>
<polygon points="677.5,161.4 696.5,165.9 677.5,170.4" fill="#808080"/>
<text x="201.3" y="589.2" font-size="22.4" fill="#909090">The group vibration of (SiO<tspan font-size="14.4" dy="5.5">4</tspan><tspan dy="-5.5">)</tspan><tspan font-size="14.4" dy="-10" dx="0.6">4-</tspan></text>
<text x="724.5" y="562.7" font-size="22.2" fill="#909090">Al<tspan font-size="14.6" dy="-10">3+</tspan><tspan dy="10" dx="1"> lattice</tspan></text>
<text x="724.5" y="590" font-size="22.2" fill="#909090">vibration</text>
<line x1="620.7" y1="26.0" x2="653" y2="26.0" stroke="#50C3F5" stroke-width="2.3"/>
<text x="668.5" y="33.4" font-size="20.8" >M1</text>
<line x1="620.7" y1="53.5" x2="653" y2="53.5" stroke="#F09C6A" stroke-width="2.3"/>
<text x="668.5" y="60.9" font-size="20.8" >T1</text>
<line x1="620.7" y1="81.1" x2="653" y2="81.1" stroke="#68A61E" stroke-width="2.3"/>
<text x="668.5" y="88.5" font-size="20.8" >G1</text>
<line x1="620.7" y1="108.7" x2="653" y2="108.7" stroke="#B464FA" stroke-width="2.3"/>
<text x="668.5" y="116.1" font-size="20.8" >S1</text>
</svg>
</body></html>
